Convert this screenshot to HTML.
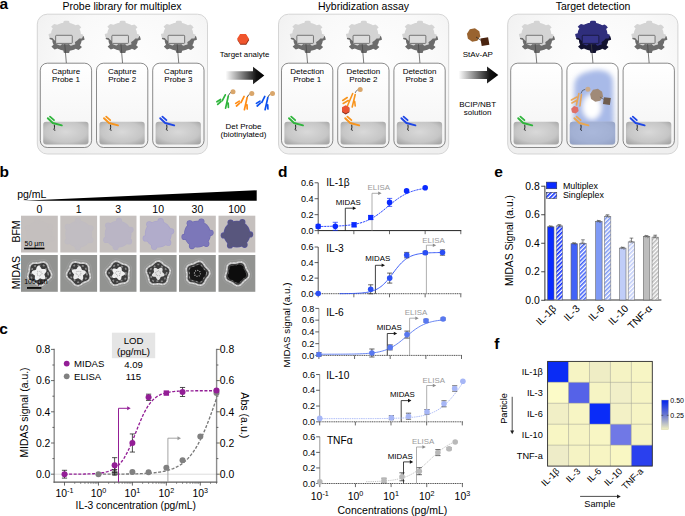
<!DOCTYPE html>
<html><head><meta charset="utf-8"><style>
html,body{margin:0;padding:0;background:#fff;width:685px;height:516px;overflow:hidden;}
svg{display:block;font-family:"Liberation Sans",sans-serif;}
</style></head><body>
<svg width="685" height="516" viewBox="0 0 685 516" font-family="Liberation Sans, sans-serif"><defs>
<filter id="soft" x="-10%" y="-10%" width="120%" height="120%"><feGaussianBlur stdDeviation="0.45"/></filter>
<filter id="blur3" x="-30%" y="-30%" width="160%" height="160%"><feGaussianBlur stdDeviation="2.6"/></filter>
<clipPath id="box32clip"><rect x="567.2" y="63.6" width="50.9" height="83.5" rx="7"/></clipPath>
<radialGradient id="panelg" cx="0.55" cy="0.35" r="0.72"><stop offset="0" stop-color="#fefefe"/><stop offset="0.55" stop-color="#f9f9f9"/><stop offset="1" stop-color="#efefef"/></radialGradient>
<linearGradient id="boxg" x1="0" y1="0" x2="0" y2="1"><stop offset="0" stop-color="#ffffff"/><stop offset="1" stop-color="#f3f3f3"/></linearGradient>
<radialGradient id="blockg" cx="0.5" cy="0.45" r="0.65"><stop offset="0" stop-color="#d9d9d9"/><stop offset="0.7" stop-color="#c6c6c6"/><stop offset="1" stop-color="#a9a9a9"/></radialGradient>
<linearGradient id="arrowg" x1="0" y1="0" x2="1" y2="0"><stop offset="0" stop-color="#ffffff"/><stop offset="0.8" stop-color="#111"/><stop offset="1" stop-color="#000"/></linearGradient>
<radialGradient id="glow" cx="0.55" cy="0.5" r="0.6"><stop offset="0" stop-color="#ffffff"/><stop offset="0.35" stop-color="#dfe6f8"/><stop offset="1" stop-color="#8ea6e0"/></radialGradient>
<linearGradient id="cbar" x1="0" y1="0" x2="0" y2="1"><stop offset="0" stop-color="#0022ee"/><stop offset="0.5" stop-color="#6a78d0"/><stop offset="1" stop-color="#f6f4c0"/></linearGradient>
<pattern id="hatch0" width="3" height="3" patternUnits="userSpaceOnUse" patternTransform="rotate(45)"><rect width="3" height="3" fill="#fff"/><rect width="1.6" height="3" fill="#0a2aff"/></pattern>
<pattern id="hatch1" width="3" height="3" patternUnits="userSpaceOnUse" patternTransform="rotate(45)"><rect width="3" height="3" fill="#fff"/><rect width="1.6" height="3" fill="#4262f7"/></pattern>
<pattern id="hatch2" width="3" height="3" patternUnits="userSpaceOnUse" patternTransform="rotate(45)"><rect width="3" height="3" fill="#fff"/><rect width="1.6" height="3" fill="#7f9af5"/></pattern>
<pattern id="hatch3" width="3" height="3" patternUnits="userSpaceOnUse" patternTransform="rotate(45)"><rect width="3" height="3" fill="#fff"/><rect width="1.6" height="3" fill="#c0ccf8"/></pattern>
<pattern id="hatch4" width="3" height="3" patternUnits="userSpaceOnUse" patternTransform="rotate(45)"><rect width="3" height="3" fill="#fff"/><rect width="1.6" height="3" fill="#bbbbbb"/></pattern>
</defs>
<text x="-0.50" y="8.70" font-size="15.5" text-anchor="start" fill="#000" font-weight="bold" >a</text>
<text x="122.00" y="9.80" font-size="10.5" text-anchor="middle" fill="#000" >Probe library for multiplex</text>
<text x="363.50" y="9.80" font-size="10.5" text-anchor="middle" fill="#000" >Hybridization assay</text>
<text x="593.00" y="9.80" font-size="10.5" text-anchor="middle" fill="#000" >Target detection</text>
<rect x="37.30" y="14.20" width="170.20" height="139.80" rx="10" fill="url(#panelg)" stroke="#d0d0d0" stroke-width="0.9" />
<rect x="278.50" y="14.20" width="170.20" height="139.80" rx="10" fill="url(#panelg)" stroke="#d0d0d0" stroke-width="0.9" />
<rect x="507.70" y="14.20" width="170.20" height="139.80" rx="10" fill="url(#panelg)" stroke="#d0d0d0" stroke-width="0.9" />
<path d="M70.61,30.24 L72.63,28.42 L73.86,28.76 L75.05,29.16 L76.19,29.63 L77.29,30.15 L76.38,32.39 L77.19,32.92 L77.94,33.49 L78.63,34.10 L79.25,34.74 L79.80,35.42 L80.28,36.12 L83.51,36.12 L83.91,37.02 L84.22,37.95 L84.42,38.88 L84.53,39.82 L81.54,40.71 L81.47,41.49 L81.32,42.27 L81.08,43.03 L80.77,43.79 L80.38,44.52 L79.91,45.23 L81.93,47.05 L81.20,47.83 L80.38,48.58 L79.50,49.28 L78.54,49.93 L75.72,48.80 L74.82,49.24 L73.88,49.64 L72.90,49.99 L71.88,50.28 L70.84,50.52 L69.78,50.70 L69.06,52.97 L67.75,53.04 L66.44,53.05 L65.12,52.99 L63.82,52.86 L63.29,50.56 L62.24,50.34 L61.22,50.06 L60.23,49.72 L59.28,49.34 L58.38,48.90 L57.52,48.41 L54.61,49.42 L53.70,48.73 L52.87,48.00 L52.12,47.22 L51.46,46.41 L53.62,44.68 L53.21,43.95 L52.88,43.20 L52.63,42.44 L52.46,41.66 L52.37,40.88 L52.36,40.09 L49.45,39.09 L49.63,38.15 L49.91,37.22 L50.29,36.32 L50.76,35.43 L53.99,35.57 L54.52,34.89 L55.13,34.23 L55.81,33.62 L56.54,33.04 L57.34,32.50 L58.18,32.00 L57.47,29.74 L58.60,29.26 L59.78,28.84 L61.00,28.49 L62.26,28.20 L64.12,30.10 L65.20,29.98 L66.29,29.91 L67.38,29.90 L68.47,29.96 L69.55,30.07 Z" fill="#6c6c6c" stroke="none" stroke-width="1" />
<path d="M63.06,22.91 L63.84,20.90 L65.14,20.82 L66.44,20.81 L67.74,20.87 L69.02,21.00 L69.65,23.04 L70.71,23.27 L71.74,23.56 L72.74,23.90 L73.71,24.30 L74.63,24.75 L75.50,25.25 L78.14,24.44 L79.03,25.13 L79.85,25.86 L80.60,26.64 L81.26,27.46 L79.46,29.09 L79.87,29.84 L80.21,30.61 L80.47,31.39 L80.64,32.19 L80.73,33.00 L80.74,33.80 L83.26,34.80 L83.08,35.74 L82.80,36.67 L82.43,37.58 L81.96,38.47 L79.10,38.46 L78.55,39.16 L77.94,39.83 L77.26,40.47 L76.51,41.07 L75.71,41.62 L74.85,42.13 L75.34,44.19 L74.22,44.67 L73.06,45.09 L71.85,45.45 L70.61,45.73 L68.84,44.09 L67.74,44.22 L66.64,44.29 L65.53,44.30 L64.43,44.24 L63.33,44.13 L62.25,43.96 L60.36,45.52 L59.14,45.18 L57.96,44.78 L56.83,44.31 L55.75,43.79 L56.40,41.75 L55.58,41.21 L54.82,40.62 L54.12,39.99 L53.49,39.33 L52.93,38.64 L52.44,37.91 L49.58,37.81 L49.19,36.90 L48.88,35.98 L48.68,35.04 L48.57,34.09 L51.16,33.20 L51.23,32.39 L51.38,31.59 L51.62,30.80 L51.94,30.03 L52.33,29.27 L52.80,28.54 L51.13,26.85 L51.85,26.06 L52.66,25.31 L53.53,24.61 L54.48,23.95 L57.05,24.87 L57.96,24.41 L58.91,24.00 L59.91,23.64 L60.93,23.34 L61.99,23.09 Z" fill="#d4d4d4" stroke="none" stroke-width="1" />
<rect x="55.65" y="35.30" width="16.60" height="8.10" rx="0.8" fill="#dcdcdc" stroke="#5a5a5a" stroke-width="0.8" />
<line x1="64.75" y1="44.00" x2="66.35" y2="63.20" stroke="#444" stroke-width="0.7" />
<rect x="40.30" y="63.20" width="51.30" height="84.30" rx="7" fill="url(#boxg)" stroke="#5a5a5a" stroke-width="0.7" />
<rect x="43.20" y="121.80" width="45.30" height="22.60" rx="3" fill="url(#blockg)" stroke="none" stroke-width="1" />
<text x="65.95" y="73.60" font-size="8" text-anchor="middle" fill="#000" >Capture</text>
<text x="65.95" y="82.30" font-size="8" text-anchor="middle" fill="#000" >Probe 1</text>
<path d="M54.3,124.7 q0.6,2.5 -0.3,5 q0.3,0.9 1.3,0.5" fill="none" stroke="#111" stroke-width="0.9" />
<path d="M47.8,118.2 L52.8,123.0 L61.8,125.4" fill="none" stroke="#2fb53c" stroke-width="1.9" stroke-linecap="round" stroke-linejoin="round"/>
<path d="M50.0,116.60000000000001 L54.0,120.2" fill="none" stroke="#2fb53c" stroke-width="1.8" stroke-linecap="round"/>
<path d="M126.81,30.24 L128.83,28.42 L130.06,28.76 L131.25,29.16 L132.39,29.63 L133.49,30.15 L132.58,32.39 L133.39,32.92 L134.14,33.49 L134.83,34.10 L135.45,34.74 L136.00,35.42 L136.48,36.12 L139.71,36.12 L140.11,37.02 L140.42,37.95 L140.62,38.88 L140.73,39.82 L137.74,40.71 L137.67,41.49 L137.52,42.27 L137.28,43.03 L136.97,43.79 L136.58,44.52 L136.11,45.23 L138.13,47.05 L137.40,47.83 L136.58,48.58 L135.70,49.28 L134.74,49.93 L131.92,48.80 L131.02,49.24 L130.08,49.64 L129.10,49.99 L128.08,50.28 L127.04,50.52 L125.98,50.70 L125.26,52.97 L123.95,53.04 L122.64,53.05 L121.32,52.99 L120.02,52.86 L119.49,50.56 L118.44,50.34 L117.42,50.06 L116.43,49.72 L115.48,49.34 L114.58,48.90 L113.72,48.41 L110.81,49.42 L109.90,48.73 L109.07,48.00 L108.32,47.22 L107.66,46.41 L109.82,44.68 L109.41,43.95 L109.08,43.20 L108.83,42.44 L108.66,41.66 L108.57,40.88 L108.56,40.09 L105.65,39.09 L105.83,38.15 L106.11,37.22 L106.49,36.32 L106.96,35.43 L110.19,35.57 L110.72,34.89 L111.33,34.23 L112.01,33.62 L112.74,33.04 L113.54,32.50 L114.38,32.00 L113.67,29.74 L114.80,29.26 L115.98,28.84 L117.20,28.49 L118.46,28.20 L120.32,30.10 L121.40,29.98 L122.49,29.91 L123.58,29.90 L124.67,29.96 L125.75,30.07 Z" fill="#6c6c6c" stroke="none" stroke-width="1" />
<path d="M119.26,22.91 L120.04,20.90 L121.34,20.82 L122.64,20.81 L123.94,20.87 L125.22,21.00 L125.85,23.04 L126.91,23.27 L127.94,23.56 L128.94,23.90 L129.91,24.30 L130.83,24.75 L131.70,25.25 L134.34,24.44 L135.23,25.13 L136.05,25.86 L136.80,26.64 L137.46,27.46 L135.66,29.09 L136.07,29.84 L136.41,30.61 L136.67,31.39 L136.84,32.19 L136.93,33.00 L136.94,33.80 L139.46,34.80 L139.28,35.74 L139.00,36.67 L138.63,37.58 L138.16,38.47 L135.30,38.46 L134.75,39.16 L134.14,39.83 L133.46,40.47 L132.71,41.07 L131.91,41.62 L131.05,42.13 L131.54,44.19 L130.42,44.67 L129.26,45.09 L128.05,45.45 L126.81,45.73 L125.04,44.09 L123.94,44.22 L122.84,44.29 L121.73,44.30 L120.63,44.24 L119.53,44.13 L118.45,43.96 L116.56,45.52 L115.34,45.18 L114.16,44.78 L113.03,44.31 L111.95,43.79 L112.60,41.75 L111.78,41.21 L111.02,40.62 L110.32,39.99 L109.69,39.33 L109.13,38.64 L108.64,37.91 L105.78,37.81 L105.39,36.90 L105.08,35.98 L104.88,35.04 L104.77,34.09 L107.36,33.20 L107.43,32.39 L107.58,31.59 L107.82,30.80 L108.14,30.03 L108.53,29.27 L109.00,28.54 L107.33,26.85 L108.05,26.06 L108.86,25.31 L109.73,24.61 L110.68,23.95 L113.25,24.87 L114.16,24.41 L115.11,24.00 L116.11,23.64 L117.13,23.34 L118.19,23.09 Z" fill="#d4d4d4" stroke="none" stroke-width="1" />
<rect x="111.85" y="35.30" width="16.60" height="8.10" rx="0.8" fill="#dcdcdc" stroke="#5a5a5a" stroke-width="0.8" />
<line x1="120.95" y1="44.00" x2="122.55" y2="63.20" stroke="#444" stroke-width="0.7" />
<rect x="96.50" y="63.20" width="51.30" height="84.30" rx="7" fill="url(#boxg)" stroke="#5a5a5a" stroke-width="0.7" />
<rect x="99.40" y="121.80" width="45.30" height="22.60" rx="3" fill="url(#blockg)" stroke="none" stroke-width="1" />
<text x="122.15" y="73.60" font-size="8" text-anchor="middle" fill="#000" >Capture</text>
<text x="122.15" y="82.30" font-size="8" text-anchor="middle" fill="#000" >Probe 2</text>
<path d="M110.5,124.7 q0.6,2.5 -0.3,5 q0.3,0.9 1.3,0.5" fill="none" stroke="#111" stroke-width="0.9" />
<path d="M104.0,118.2 L109.0,123.0 L118.0,125.4" fill="none" stroke="#f7941d" stroke-width="1.9" stroke-linecap="round" stroke-linejoin="round"/>
<path d="M106.2,116.60000000000001 L110.2,120.2" fill="none" stroke="#f7941d" stroke-width="1.8" stroke-linecap="round"/>
<path d="M183.01,30.24 L185.03,28.42 L186.26,28.76 L187.45,29.16 L188.59,29.63 L189.69,30.15 L188.78,32.39 L189.59,32.92 L190.34,33.49 L191.03,34.10 L191.65,34.74 L192.20,35.42 L192.68,36.12 L195.91,36.12 L196.31,37.02 L196.62,37.95 L196.82,38.88 L196.93,39.82 L193.94,40.71 L193.87,41.49 L193.72,42.27 L193.48,43.03 L193.17,43.79 L192.78,44.52 L192.31,45.23 L194.33,47.05 L193.60,47.83 L192.78,48.58 L191.90,49.28 L190.94,49.93 L188.12,48.80 L187.22,49.24 L186.28,49.64 L185.30,49.99 L184.28,50.28 L183.24,50.52 L182.18,50.70 L181.46,52.97 L180.15,53.04 L178.84,53.05 L177.52,52.99 L176.22,52.86 L175.69,50.56 L174.64,50.34 L173.62,50.06 L172.63,49.72 L171.68,49.34 L170.78,48.90 L169.92,48.41 L167.01,49.42 L166.10,48.73 L165.27,48.00 L164.52,47.22 L163.86,46.41 L166.02,44.68 L165.61,43.95 L165.28,43.20 L165.03,42.44 L164.86,41.66 L164.77,40.88 L164.76,40.09 L161.85,39.09 L162.03,38.15 L162.31,37.22 L162.69,36.32 L163.16,35.43 L166.39,35.57 L166.92,34.89 L167.53,34.23 L168.21,33.62 L168.94,33.04 L169.74,32.50 L170.58,32.00 L169.87,29.74 L171.00,29.26 L172.18,28.84 L173.40,28.49 L174.66,28.20 L176.52,30.10 L177.60,29.98 L178.69,29.91 L179.78,29.90 L180.87,29.96 L181.95,30.07 Z" fill="#6c6c6c" stroke="none" stroke-width="1" />
<path d="M175.46,22.91 L176.24,20.90 L177.54,20.82 L178.84,20.81 L180.14,20.87 L181.42,21.00 L182.05,23.04 L183.11,23.27 L184.14,23.56 L185.14,23.90 L186.11,24.30 L187.03,24.75 L187.90,25.25 L190.54,24.44 L191.43,25.13 L192.25,25.86 L193.00,26.64 L193.66,27.46 L191.86,29.09 L192.27,29.84 L192.61,30.61 L192.87,31.39 L193.04,32.19 L193.13,33.00 L193.14,33.80 L195.66,34.80 L195.48,35.74 L195.20,36.67 L194.83,37.58 L194.36,38.47 L191.50,38.46 L190.95,39.16 L190.34,39.83 L189.66,40.47 L188.91,41.07 L188.11,41.62 L187.25,42.13 L187.74,44.19 L186.62,44.67 L185.46,45.09 L184.25,45.45 L183.01,45.73 L181.24,44.09 L180.14,44.22 L179.04,44.29 L177.93,44.30 L176.83,44.24 L175.73,44.13 L174.65,43.96 L172.76,45.52 L171.54,45.18 L170.36,44.78 L169.23,44.31 L168.15,43.79 L168.80,41.75 L167.98,41.21 L167.22,40.62 L166.52,39.99 L165.89,39.33 L165.33,38.64 L164.84,37.91 L161.98,37.81 L161.59,36.90 L161.28,35.98 L161.08,35.04 L160.97,34.09 L163.56,33.20 L163.63,32.39 L163.78,31.59 L164.02,30.80 L164.34,30.03 L164.73,29.27 L165.20,28.54 L163.53,26.85 L164.25,26.06 L165.06,25.31 L165.93,24.61 L166.88,23.95 L169.45,24.87 L170.36,24.41 L171.31,24.00 L172.31,23.64 L173.33,23.34 L174.39,23.09 Z" fill="#d4d4d4" stroke="none" stroke-width="1" />
<rect x="168.05" y="35.30" width="16.60" height="8.10" rx="0.8" fill="#dcdcdc" stroke="#5a5a5a" stroke-width="0.8" />
<line x1="177.15" y1="44.00" x2="178.75" y2="63.20" stroke="#444" stroke-width="0.7" />
<rect x="152.70" y="63.20" width="51.30" height="84.30" rx="7" fill="url(#boxg)" stroke="#5a5a5a" stroke-width="0.7" />
<rect x="155.60" y="121.80" width="45.30" height="22.60" rx="3" fill="url(#blockg)" stroke="none" stroke-width="1" />
<text x="178.35" y="73.60" font-size="8" text-anchor="middle" fill="#000" >Capture</text>
<text x="178.35" y="82.30" font-size="8" text-anchor="middle" fill="#000" >Probe 3</text>
<path d="M166.7,124.7 q0.6,2.5 -0.3,5 q0.3,0.9 1.3,0.5" fill="none" stroke="#111" stroke-width="0.9" />
<path d="M160.2,118.2 L165.2,123.0 L174.2,125.4" fill="none" stroke="#1e46e6" stroke-width="1.9" stroke-linecap="round" stroke-linejoin="round"/>
<path d="M162.39999999999998,116.60000000000001 L166.39999999999998,120.2" fill="none" stroke="#1e46e6" stroke-width="1.8" stroke-linecap="round"/>
<path d="M311.81,30.24 L313.83,28.42 L315.06,28.76 L316.25,29.16 L317.39,29.63 L318.49,30.15 L317.58,32.39 L318.39,32.92 L319.14,33.49 L319.83,34.10 L320.45,34.74 L321.00,35.42 L321.48,36.12 L324.71,36.12 L325.11,37.02 L325.42,37.95 L325.62,38.88 L325.73,39.82 L322.74,40.71 L322.67,41.49 L322.52,42.27 L322.28,43.03 L321.97,43.79 L321.58,44.52 L321.11,45.23 L323.13,47.05 L322.40,47.83 L321.58,48.58 L320.70,49.28 L319.74,49.93 L316.92,48.80 L316.02,49.24 L315.08,49.64 L314.10,49.99 L313.08,50.28 L312.04,50.52 L310.98,50.70 L310.26,52.97 L308.95,53.04 L307.64,53.05 L306.32,52.99 L305.02,52.86 L304.49,50.56 L303.44,50.34 L302.42,50.06 L301.43,49.72 L300.48,49.34 L299.58,48.90 L298.72,48.41 L295.81,49.42 L294.90,48.73 L294.07,48.00 L293.32,47.22 L292.66,46.41 L294.82,44.68 L294.41,43.95 L294.08,43.20 L293.83,42.44 L293.66,41.66 L293.57,40.88 L293.56,40.09 L290.65,39.09 L290.83,38.15 L291.11,37.22 L291.49,36.32 L291.96,35.43 L295.19,35.57 L295.72,34.89 L296.33,34.23 L297.01,33.62 L297.74,33.04 L298.54,32.50 L299.38,32.00 L298.67,29.74 L299.80,29.26 L300.98,28.84 L302.20,28.49 L303.46,28.20 L305.32,30.10 L306.40,29.98 L307.49,29.91 L308.58,29.90 L309.67,29.96 L310.75,30.07 Z" fill="#6c6c6c" stroke="none" stroke-width="1" />
<path d="M304.26,22.91 L305.04,20.90 L306.34,20.82 L307.64,20.81 L308.94,20.87 L310.22,21.00 L310.85,23.04 L311.91,23.27 L312.94,23.56 L313.94,23.90 L314.91,24.30 L315.83,24.75 L316.70,25.25 L319.34,24.44 L320.23,25.13 L321.05,25.86 L321.80,26.64 L322.46,27.46 L320.66,29.09 L321.07,29.84 L321.41,30.61 L321.67,31.39 L321.84,32.19 L321.93,33.00 L321.94,33.80 L324.46,34.80 L324.28,35.74 L324.00,36.67 L323.63,37.58 L323.16,38.47 L320.30,38.46 L319.75,39.16 L319.14,39.83 L318.46,40.47 L317.71,41.07 L316.91,41.62 L316.05,42.13 L316.54,44.19 L315.42,44.67 L314.26,45.09 L313.05,45.45 L311.81,45.73 L310.04,44.09 L308.94,44.22 L307.84,44.29 L306.73,44.30 L305.63,44.24 L304.53,44.13 L303.45,43.96 L301.56,45.52 L300.34,45.18 L299.16,44.78 L298.03,44.31 L296.95,43.79 L297.60,41.75 L296.78,41.21 L296.02,40.62 L295.32,39.99 L294.69,39.33 L294.13,38.64 L293.64,37.91 L290.78,37.81 L290.39,36.90 L290.08,35.98 L289.88,35.04 L289.77,34.09 L292.36,33.20 L292.43,32.39 L292.58,31.59 L292.82,30.80 L293.14,30.03 L293.53,29.27 L294.00,28.54 L292.33,26.85 L293.05,26.06 L293.86,25.31 L294.73,24.61 L295.68,23.95 L298.25,24.87 L299.16,24.41 L300.11,24.00 L301.11,23.64 L302.13,23.34 L303.19,23.09 Z" fill="#d4d4d4" stroke="none" stroke-width="1" />
<rect x="296.85" y="35.30" width="16.60" height="8.10" rx="0.8" fill="#dcdcdc" stroke="#5a5a5a" stroke-width="0.8" />
<line x1="305.95" y1="44.00" x2="307.55" y2="63.20" stroke="#444" stroke-width="0.7" />
<rect x="281.50" y="63.20" width="51.30" height="84.30" rx="7" fill="url(#boxg)" stroke="#5a5a5a" stroke-width="0.7" />
<rect x="284.40" y="121.80" width="45.30" height="22.60" rx="3" fill="url(#blockg)" stroke="none" stroke-width="1" />
<text x="307.15" y="73.60" font-size="8" text-anchor="middle" fill="#000" >Detection</text>
<text x="307.15" y="82.30" font-size="8" text-anchor="middle" fill="#000" >Probe 1</text>
<path d="M295.5,124.7 q0.6,2.5 -0.3,5 q0.3,0.9 1.3,0.5" fill="none" stroke="#111" stroke-width="0.9" />
<path d="M289.0,118.2 L294.0,123.0 L303.0,125.4" fill="none" stroke="#2fb53c" stroke-width="1.9" stroke-linecap="round" stroke-linejoin="round"/>
<path d="M291.2,116.60000000000001 L295.2,120.2" fill="none" stroke="#2fb53c" stroke-width="1.8" stroke-linecap="round"/>
<path d="M368.01,30.24 L370.03,28.42 L371.26,28.76 L372.45,29.16 L373.59,29.63 L374.69,30.15 L373.78,32.39 L374.59,32.92 L375.34,33.49 L376.03,34.10 L376.65,34.74 L377.20,35.42 L377.68,36.12 L380.91,36.12 L381.31,37.02 L381.62,37.95 L381.82,38.88 L381.93,39.82 L378.94,40.71 L378.87,41.49 L378.72,42.27 L378.48,43.03 L378.17,43.79 L377.78,44.52 L377.31,45.23 L379.33,47.05 L378.60,47.83 L377.78,48.58 L376.90,49.28 L375.94,49.93 L373.12,48.80 L372.22,49.24 L371.28,49.64 L370.30,49.99 L369.28,50.28 L368.24,50.52 L367.18,50.70 L366.46,52.97 L365.15,53.04 L363.84,53.05 L362.52,52.99 L361.22,52.86 L360.69,50.56 L359.64,50.34 L358.62,50.06 L357.63,49.72 L356.68,49.34 L355.78,48.90 L354.92,48.41 L352.01,49.42 L351.10,48.73 L350.27,48.00 L349.52,47.22 L348.86,46.41 L351.02,44.68 L350.61,43.95 L350.28,43.20 L350.03,42.44 L349.86,41.66 L349.77,40.88 L349.76,40.09 L346.85,39.09 L347.03,38.15 L347.31,37.22 L347.69,36.32 L348.16,35.43 L351.39,35.57 L351.92,34.89 L352.53,34.23 L353.21,33.62 L353.94,33.04 L354.74,32.50 L355.58,32.00 L354.87,29.74 L356.00,29.26 L357.18,28.84 L358.40,28.49 L359.66,28.20 L361.52,30.10 L362.60,29.98 L363.69,29.91 L364.78,29.90 L365.87,29.96 L366.95,30.07 Z" fill="#6c6c6c" stroke="none" stroke-width="1" />
<path d="M360.46,22.91 L361.24,20.90 L362.54,20.82 L363.84,20.81 L365.14,20.87 L366.42,21.00 L367.05,23.04 L368.11,23.27 L369.14,23.56 L370.14,23.90 L371.11,24.30 L372.03,24.75 L372.90,25.25 L375.54,24.44 L376.43,25.13 L377.25,25.86 L378.00,26.64 L378.66,27.46 L376.86,29.09 L377.27,29.84 L377.61,30.61 L377.87,31.39 L378.04,32.19 L378.13,33.00 L378.14,33.80 L380.66,34.80 L380.48,35.74 L380.20,36.67 L379.83,37.58 L379.36,38.47 L376.50,38.46 L375.95,39.16 L375.34,39.83 L374.66,40.47 L373.91,41.07 L373.11,41.62 L372.25,42.13 L372.74,44.19 L371.62,44.67 L370.46,45.09 L369.25,45.45 L368.01,45.73 L366.24,44.09 L365.14,44.22 L364.04,44.29 L362.93,44.30 L361.83,44.24 L360.73,44.13 L359.65,43.96 L357.76,45.52 L356.54,45.18 L355.36,44.78 L354.23,44.31 L353.15,43.79 L353.80,41.75 L352.98,41.21 L352.22,40.62 L351.52,39.99 L350.89,39.33 L350.33,38.64 L349.84,37.91 L346.98,37.81 L346.59,36.90 L346.28,35.98 L346.08,35.04 L345.97,34.09 L348.56,33.20 L348.63,32.39 L348.78,31.59 L349.02,30.80 L349.34,30.03 L349.73,29.27 L350.20,28.54 L348.53,26.85 L349.25,26.06 L350.06,25.31 L350.93,24.61 L351.88,23.95 L354.45,24.87 L355.36,24.41 L356.31,24.00 L357.31,23.64 L358.33,23.34 L359.39,23.09 Z" fill="#d4d4d4" stroke="none" stroke-width="1" />
<rect x="353.05" y="35.30" width="16.60" height="8.10" rx="0.8" fill="#dcdcdc" stroke="#5a5a5a" stroke-width="0.8" />
<line x1="362.15" y1="44.00" x2="363.75" y2="63.20" stroke="#444" stroke-width="0.7" />
<rect x="337.70" y="63.20" width="51.30" height="84.30" rx="7" fill="url(#boxg)" stroke="#5a5a5a" stroke-width="0.7" />
<rect x="340.60" y="121.80" width="45.30" height="22.60" rx="3" fill="url(#blockg)" stroke="none" stroke-width="1" />
<text x="363.35" y="73.60" font-size="8" text-anchor="middle" fill="#000" >Detection</text>
<text x="363.35" y="82.30" font-size="8" text-anchor="middle" fill="#000" >Probe 2</text>
<path d="M424.21,30.24 L426.23,28.42 L427.46,28.76 L428.65,29.16 L429.79,29.63 L430.89,30.15 L429.98,32.39 L430.79,32.92 L431.54,33.49 L432.23,34.10 L432.85,34.74 L433.40,35.42 L433.88,36.12 L437.11,36.12 L437.51,37.02 L437.82,37.95 L438.02,38.88 L438.13,39.82 L435.14,40.71 L435.07,41.49 L434.92,42.27 L434.68,43.03 L434.37,43.79 L433.98,44.52 L433.51,45.23 L435.53,47.05 L434.80,47.83 L433.98,48.58 L433.10,49.28 L432.14,49.93 L429.32,48.80 L428.42,49.24 L427.48,49.64 L426.50,49.99 L425.48,50.28 L424.44,50.52 L423.38,50.70 L422.66,52.97 L421.35,53.04 L420.04,53.05 L418.72,52.99 L417.42,52.86 L416.89,50.56 L415.84,50.34 L414.82,50.06 L413.83,49.72 L412.88,49.34 L411.98,48.90 L411.12,48.41 L408.21,49.42 L407.30,48.73 L406.47,48.00 L405.72,47.22 L405.06,46.41 L407.22,44.68 L406.81,43.95 L406.48,43.20 L406.23,42.44 L406.06,41.66 L405.97,40.88 L405.96,40.09 L403.05,39.09 L403.23,38.15 L403.51,37.22 L403.89,36.32 L404.36,35.43 L407.59,35.57 L408.12,34.89 L408.73,34.23 L409.41,33.62 L410.14,33.04 L410.94,32.50 L411.78,32.00 L411.07,29.74 L412.20,29.26 L413.38,28.84 L414.60,28.49 L415.86,28.20 L417.72,30.10 L418.80,29.98 L419.89,29.91 L420.98,29.90 L422.07,29.96 L423.15,30.07 Z" fill="#6c6c6c" stroke="none" stroke-width="1" />
<path d="M416.66,22.91 L417.44,20.90 L418.74,20.82 L420.04,20.81 L421.34,20.87 L422.62,21.00 L423.25,23.04 L424.31,23.27 L425.34,23.56 L426.34,23.90 L427.31,24.30 L428.23,24.75 L429.10,25.25 L431.74,24.44 L432.63,25.13 L433.45,25.86 L434.20,26.64 L434.86,27.46 L433.06,29.09 L433.47,29.84 L433.81,30.61 L434.07,31.39 L434.24,32.19 L434.33,33.00 L434.34,33.80 L436.86,34.80 L436.68,35.74 L436.40,36.67 L436.03,37.58 L435.56,38.47 L432.70,38.46 L432.15,39.16 L431.54,39.83 L430.86,40.47 L430.11,41.07 L429.31,41.62 L428.45,42.13 L428.94,44.19 L427.82,44.67 L426.66,45.09 L425.45,45.45 L424.21,45.73 L422.44,44.09 L421.34,44.22 L420.24,44.29 L419.13,44.30 L418.03,44.24 L416.93,44.13 L415.85,43.96 L413.96,45.52 L412.74,45.18 L411.56,44.78 L410.43,44.31 L409.35,43.79 L410.00,41.75 L409.18,41.21 L408.42,40.62 L407.72,39.99 L407.09,39.33 L406.53,38.64 L406.04,37.91 L403.18,37.81 L402.79,36.90 L402.48,35.98 L402.28,35.04 L402.17,34.09 L404.76,33.20 L404.83,32.39 L404.98,31.59 L405.22,30.80 L405.54,30.03 L405.93,29.27 L406.40,28.54 L404.73,26.85 L405.45,26.06 L406.26,25.31 L407.13,24.61 L408.08,23.95 L410.65,24.87 L411.56,24.41 L412.51,24.00 L413.51,23.64 L414.53,23.34 L415.59,23.09 Z" fill="#d4d4d4" stroke="none" stroke-width="1" />
<rect x="409.25" y="35.30" width="16.60" height="8.10" rx="0.8" fill="#dcdcdc" stroke="#5a5a5a" stroke-width="0.8" />
<line x1="418.35" y1="44.00" x2="419.95" y2="63.20" stroke="#444" stroke-width="0.7" />
<rect x="393.90" y="63.20" width="51.30" height="84.30" rx="7" fill="url(#boxg)" stroke="#5a5a5a" stroke-width="0.7" />
<rect x="396.80" y="121.80" width="45.30" height="22.60" rx="3" fill="url(#blockg)" stroke="none" stroke-width="1" />
<text x="419.55" y="73.60" font-size="8" text-anchor="middle" fill="#000" >Detection</text>
<text x="419.55" y="82.30" font-size="8" text-anchor="middle" fill="#000" >Probe 3</text>
<path d="M407.9,124.7 q0.6,2.5 -0.3,5 q0.3,0.9 1.3,0.5" fill="none" stroke="#111" stroke-width="0.9" />
<path d="M401.4,118.2 L406.4,123.0 L415.4,125.4" fill="none" stroke="#1e46e6" stroke-width="1.9" stroke-linecap="round" stroke-linejoin="round"/>
<path d="M403.59999999999997,116.60000000000001 L407.59999999999997,120.2" fill="none" stroke="#1e46e6" stroke-width="1.8" stroke-linecap="round"/>
<path d="M541.01,30.24 L543.03,28.42 L544.26,28.76 L545.45,29.16 L546.59,29.63 L547.69,30.15 L546.78,32.39 L547.59,32.92 L548.34,33.49 L549.03,34.10 L549.65,34.74 L550.20,35.42 L550.68,36.12 L553.91,36.12 L554.31,37.02 L554.62,37.95 L554.82,38.88 L554.93,39.82 L551.94,40.71 L551.87,41.49 L551.72,42.27 L551.48,43.03 L551.17,43.79 L550.78,44.52 L550.31,45.23 L552.33,47.05 L551.60,47.83 L550.78,48.58 L549.90,49.28 L548.94,49.93 L546.12,48.80 L545.22,49.24 L544.28,49.64 L543.30,49.99 L542.28,50.28 L541.24,50.52 L540.18,50.70 L539.46,52.97 L538.15,53.04 L536.84,53.05 L535.52,52.99 L534.22,52.86 L533.69,50.56 L532.64,50.34 L531.62,50.06 L530.63,49.72 L529.68,49.34 L528.78,48.90 L527.92,48.41 L525.01,49.42 L524.10,48.73 L523.27,48.00 L522.52,47.22 L521.86,46.41 L524.02,44.68 L523.61,43.95 L523.28,43.20 L523.03,42.44 L522.86,41.66 L522.77,40.88 L522.76,40.09 L519.85,39.09 L520.03,38.15 L520.31,37.22 L520.69,36.32 L521.16,35.43 L524.39,35.57 L524.92,34.89 L525.53,34.23 L526.21,33.62 L526.94,33.04 L527.74,32.50 L528.58,32.00 L527.87,29.74 L529.00,29.26 L530.18,28.84 L531.40,28.49 L532.66,28.20 L534.52,30.10 L535.60,29.98 L536.69,29.91 L537.78,29.90 L538.87,29.96 L539.95,30.07 Z" fill="#6c6c6c" stroke="none" stroke-width="1" />
<path d="M533.46,22.91 L534.24,20.90 L535.54,20.82 L536.84,20.81 L538.14,20.87 L539.42,21.00 L540.05,23.04 L541.11,23.27 L542.14,23.56 L543.14,23.90 L544.11,24.30 L545.03,24.75 L545.90,25.25 L548.54,24.44 L549.43,25.13 L550.25,25.86 L551.00,26.64 L551.66,27.46 L549.86,29.09 L550.27,29.84 L550.61,30.61 L550.87,31.39 L551.04,32.19 L551.13,33.00 L551.14,33.80 L553.66,34.80 L553.48,35.74 L553.20,36.67 L552.83,37.58 L552.36,38.47 L549.50,38.46 L548.95,39.16 L548.34,39.83 L547.66,40.47 L546.91,41.07 L546.11,41.62 L545.25,42.13 L545.74,44.19 L544.62,44.67 L543.46,45.09 L542.25,45.45 L541.01,45.73 L539.24,44.09 L538.14,44.22 L537.04,44.29 L535.93,44.30 L534.83,44.24 L533.73,44.13 L532.65,43.96 L530.76,45.52 L529.54,45.18 L528.36,44.78 L527.23,44.31 L526.15,43.79 L526.80,41.75 L525.98,41.21 L525.22,40.62 L524.52,39.99 L523.89,39.33 L523.33,38.64 L522.84,37.91 L519.98,37.81 L519.59,36.90 L519.28,35.98 L519.08,35.04 L518.97,34.09 L521.56,33.20 L521.63,32.39 L521.78,31.59 L522.02,30.80 L522.34,30.03 L522.73,29.27 L523.20,28.54 L521.53,26.85 L522.25,26.06 L523.06,25.31 L523.93,24.61 L524.88,23.95 L527.45,24.87 L528.36,24.41 L529.31,24.00 L530.31,23.64 L531.33,23.34 L532.39,23.09 Z" fill="#d4d4d4" stroke="none" stroke-width="1" />
<rect x="526.05" y="35.30" width="16.60" height="8.10" rx="0.8" fill="#dcdcdc" stroke="#5a5a5a" stroke-width="0.8" />
<line x1="535.15" y1="44.00" x2="536.75" y2="63.20" stroke="#444" stroke-width="0.7" />
<rect x="510.70" y="63.20" width="51.30" height="84.30" rx="7" fill="url(#boxg)" stroke="#5a5a5a" stroke-width="0.7" />
<rect x="513.60" y="121.80" width="45.30" height="22.60" rx="3" fill="url(#blockg)" stroke="none" stroke-width="1" />
<path d="M524.7,124.7 q0.6,2.5 -0.3,5 q0.3,0.9 1.3,0.5" fill="none" stroke="#111" stroke-width="0.9" />
<path d="M518.2,118.2 L523.2,123.0 L532.2,125.4" fill="none" stroke="#2fb53c" stroke-width="1.9" stroke-linecap="round" stroke-linejoin="round"/>
<path d="M520.4000000000001,116.60000000000001 L524.4000000000001,120.2" fill="none" stroke="#2fb53c" stroke-width="1.8" stroke-linecap="round"/>
<path d="M597.21,30.24 L599.23,28.42 L600.46,28.76 L601.65,29.16 L602.79,29.63 L603.89,30.15 L602.98,32.39 L603.79,32.92 L604.54,33.49 L605.23,34.10 L605.85,34.74 L606.40,35.42 L606.88,36.12 L610.11,36.12 L610.51,37.02 L610.82,37.95 L611.02,38.88 L611.13,39.82 L608.14,40.71 L608.07,41.49 L607.92,42.27 L607.68,43.03 L607.37,43.79 L606.98,44.52 L606.51,45.23 L608.53,47.05 L607.80,47.83 L606.98,48.58 L606.10,49.28 L605.14,49.93 L602.32,48.80 L601.42,49.24 L600.48,49.64 L599.50,49.99 L598.48,50.28 L597.44,50.52 L596.38,50.70 L595.66,52.97 L594.35,53.04 L593.04,53.05 L591.72,52.99 L590.42,52.86 L589.89,50.56 L588.84,50.34 L587.82,50.06 L586.83,49.72 L585.88,49.34 L584.98,48.90 L584.12,48.41 L581.21,49.42 L580.30,48.73 L579.47,48.00 L578.72,47.22 L578.06,46.41 L580.22,44.68 L579.81,43.95 L579.48,43.20 L579.23,42.44 L579.06,41.66 L578.97,40.88 L578.96,40.09 L576.05,39.09 L576.23,38.15 L576.51,37.22 L576.89,36.32 L577.36,35.43 L580.59,35.57 L581.12,34.89 L581.73,34.23 L582.41,33.62 L583.14,33.04 L583.94,32.50 L584.78,32.00 L584.07,29.74 L585.20,29.26 L586.38,28.84 L587.60,28.49 L588.86,28.20 L590.72,30.10 L591.80,29.98 L592.89,29.91 L593.98,29.90 L595.07,29.96 L596.15,30.07 Z" fill="#121230" stroke="none" stroke-width="1" />
<path d="M589.66,22.91 L590.44,20.90 L591.74,20.82 L593.04,20.81 L594.34,20.87 L595.62,21.00 L596.25,23.04 L597.31,23.27 L598.34,23.56 L599.34,23.90 L600.31,24.30 L601.23,24.75 L602.10,25.25 L604.74,24.44 L605.63,25.13 L606.45,25.86 L607.20,26.64 L607.86,27.46 L606.06,29.09 L606.47,29.84 L606.81,30.61 L607.07,31.39 L607.24,32.19 L607.33,33.00 L607.34,33.80 L609.86,34.80 L609.68,35.74 L609.40,36.67 L609.03,37.58 L608.56,38.47 L605.70,38.46 L605.15,39.16 L604.54,39.83 L603.86,40.47 L603.11,41.07 L602.31,41.62 L601.45,42.13 L601.94,44.19 L600.82,44.67 L599.66,45.09 L598.45,45.45 L597.21,45.73 L595.44,44.09 L594.34,44.22 L593.24,44.29 L592.13,44.30 L591.03,44.24 L589.93,44.13 L588.85,43.96 L586.96,45.52 L585.74,45.18 L584.56,44.78 L583.43,44.31 L582.35,43.79 L583.00,41.75 L582.18,41.21 L581.42,40.62 L580.72,39.99 L580.09,39.33 L579.53,38.64 L579.04,37.91 L576.18,37.81 L575.79,36.90 L575.48,35.98 L575.28,35.04 L575.17,34.09 L577.76,33.20 L577.83,32.39 L577.98,31.59 L578.22,30.80 L578.54,30.03 L578.93,29.27 L579.40,28.54 L577.73,26.85 L578.45,26.06 L579.26,25.31 L580.13,24.61 L581.08,23.95 L583.65,24.87 L584.56,24.41 L585.51,24.00 L586.51,23.64 L587.53,23.34 L588.59,23.09 Z" fill="#2f2e7c" stroke="none" stroke-width="1" />
<rect x="582.25" y="35.30" width="16.60" height="8.10" rx="0.8" fill="#35348a" stroke="#151535" stroke-width="0.8" />
<line x1="591.35" y1="44.00" x2="592.95" y2="63.20" stroke="#444" stroke-width="0.7" />
<rect x="566.90" y="63.20" width="51.30" height="84.30" rx="7" fill="url(#boxg)" stroke="#5a5a5a" stroke-width="0.7" />
<g filter="url(#blur3)" clip-path="url(#box32clip)"><path d="M574.4,84 Q575.9,72 596.9,70 Q610.9,70 612.9,80 L613.9,142 L573.4,142 Z" fill="#a8bae8"/><ellipse cx="591.9" cy="107" rx="9.5" ry="12.5" fill="#ffffff"/></g>
<rect x="569.80" y="121.80" width="45.30" height="22.60" rx="3" fill="url(#blockg)" stroke="none" stroke-width="1" />
<rect x="569.80" y="121.80" width="45.30" height="22.60" rx="3" fill="#8aa2dc" stroke="none" stroke-width="1" opacity="0.6"/>
<path d="M653.41,30.24 L655.43,28.42 L656.66,28.76 L657.85,29.16 L658.99,29.63 L660.09,30.15 L659.18,32.39 L659.99,32.92 L660.74,33.49 L661.43,34.10 L662.05,34.74 L662.60,35.42 L663.08,36.12 L666.31,36.12 L666.71,37.02 L667.02,37.95 L667.22,38.88 L667.33,39.82 L664.34,40.71 L664.27,41.49 L664.12,42.27 L663.88,43.03 L663.57,43.79 L663.18,44.52 L662.71,45.23 L664.73,47.05 L664.00,47.83 L663.18,48.58 L662.30,49.28 L661.34,49.93 L658.52,48.80 L657.62,49.24 L656.68,49.64 L655.70,49.99 L654.68,50.28 L653.64,50.52 L652.58,50.70 L651.86,52.97 L650.55,53.04 L649.24,53.05 L647.92,52.99 L646.62,52.86 L646.09,50.56 L645.04,50.34 L644.02,50.06 L643.03,49.72 L642.08,49.34 L641.18,48.90 L640.32,48.41 L637.41,49.42 L636.50,48.73 L635.67,48.00 L634.92,47.22 L634.26,46.41 L636.42,44.68 L636.01,43.95 L635.68,43.20 L635.43,42.44 L635.26,41.66 L635.17,40.88 L635.16,40.09 L632.25,39.09 L632.43,38.15 L632.71,37.22 L633.09,36.32 L633.56,35.43 L636.79,35.57 L637.32,34.89 L637.93,34.23 L638.61,33.62 L639.34,33.04 L640.14,32.50 L640.98,32.00 L640.27,29.74 L641.40,29.26 L642.58,28.84 L643.80,28.49 L645.06,28.20 L646.92,30.10 L648.00,29.98 L649.09,29.91 L650.18,29.90 L651.27,29.96 L652.35,30.07 Z" fill="#6c6c6c" stroke="none" stroke-width="1" />
<path d="M645.86,22.91 L646.64,20.90 L647.94,20.82 L649.24,20.81 L650.54,20.87 L651.82,21.00 L652.45,23.04 L653.51,23.27 L654.54,23.56 L655.54,23.90 L656.51,24.30 L657.43,24.75 L658.30,25.25 L660.94,24.44 L661.83,25.13 L662.65,25.86 L663.40,26.64 L664.06,27.46 L662.26,29.09 L662.67,29.84 L663.01,30.61 L663.27,31.39 L663.44,32.19 L663.53,33.00 L663.54,33.80 L666.06,34.80 L665.88,35.74 L665.60,36.67 L665.23,37.58 L664.76,38.47 L661.90,38.46 L661.35,39.16 L660.74,39.83 L660.06,40.47 L659.31,41.07 L658.51,41.62 L657.65,42.13 L658.14,44.19 L657.02,44.67 L655.86,45.09 L654.65,45.45 L653.41,45.73 L651.64,44.09 L650.54,44.22 L649.44,44.29 L648.33,44.30 L647.23,44.24 L646.13,44.13 L645.05,43.96 L643.16,45.52 L641.94,45.18 L640.76,44.78 L639.63,44.31 L638.55,43.79 L639.20,41.75 L638.38,41.21 L637.62,40.62 L636.92,39.99 L636.29,39.33 L635.73,38.64 L635.24,37.91 L632.38,37.81 L631.99,36.90 L631.68,35.98 L631.48,35.04 L631.37,34.09 L633.96,33.20 L634.03,32.39 L634.18,31.59 L634.42,30.80 L634.74,30.03 L635.13,29.27 L635.60,28.54 L633.93,26.85 L634.65,26.06 L635.46,25.31 L636.33,24.61 L637.28,23.95 L639.85,24.87 L640.76,24.41 L641.71,24.00 L642.71,23.64 L643.73,23.34 L644.79,23.09 Z" fill="#d4d4d4" stroke="none" stroke-width="1" />
<rect x="638.45" y="35.30" width="16.60" height="8.10" rx="0.8" fill="#dcdcdc" stroke="#5a5a5a" stroke-width="0.8" />
<line x1="647.55" y1="44.00" x2="649.15" y2="63.20" stroke="#444" stroke-width="0.7" />
<rect x="623.10" y="63.20" width="51.30" height="84.30" rx="7" fill="url(#boxg)" stroke="#5a5a5a" stroke-width="0.7" />
<rect x="626.00" y="121.80" width="45.30" height="22.60" rx="3" fill="url(#blockg)" stroke="none" stroke-width="1" />
<path d="M637.1,124.7 q0.6,2.5 -0.3,5 q0.3,0.9 1.3,0.5" fill="none" stroke="#111" stroke-width="0.9" />
<path d="M630.6,118.2 L635.6,123.0 L644.6,125.4" fill="none" stroke="#1e46e6" stroke-width="1.9" stroke-linecap="round" stroke-linejoin="round"/>
<path d="M632.8000000000001,116.60000000000001 L636.8000000000001,120.2" fill="none" stroke="#1e46e6" stroke-width="1.8" stroke-linecap="round"/>
<path d="M351.7,124.7 q0.6,2.5 -0.3,5 q0.3,0.9 1.3,0.5" fill="none" stroke="#111" stroke-width="0.9" />
<path d="M345.2,118.2 L350.2,123.0 L359.2,125.4" fill="none" stroke="#f7941d" stroke-width="1.9" stroke-linecap="round" stroke-linejoin="round"/>
<path d="M347.4,116.60000000000001 L351.4,120.2" fill="none" stroke="#f7941d" stroke-width="1.8" stroke-linecap="round"/>
<path d="M352.7,93.5 L347.2,106.5 M355.2,94.5 L352.2,107 M342.7,100.5 L347.2,97.5 M343.2,103.5 L348.2,100.5 M354.7,101.5 L355.2,106" fill="none" stroke="#f7941d" stroke-width="1.6" stroke-linecap="round"/>
<path d="M355.2,93 Q355.7,90.5 358.2,89.6" fill="none" stroke="#333" stroke-width="0.6" />
<circle cx="360.20" cy="89.40" r="2.5" fill="#d9a66b" stroke="none" stroke-width="1" />
<path d="M349.34,112.30 L345.70,114.40 L342.06,112.30 L342.06,108.10 L345.70,106.00 L349.34,108.10 Z" fill="#7a2614" stroke="none" stroke-width="1" />
<path d="M349.34,111.50 L345.70,113.60 L342.06,111.50 L342.06,107.30 L345.70,105.20 L349.34,107.30 Z" fill="#ea5433" stroke="none" stroke-width="1" />
<path d="M580.9,124.7 q0.6,2.5 -0.3,5 q0.3,0.9 1.3,0.5" fill="none" stroke="#111" stroke-width="0.9" />
<path d="M574.4,118.2 L579.4,123.0 L588.4,125.4" fill="none" stroke="#e9a750" stroke-width="1.9" stroke-linecap="round" stroke-linejoin="round"/>
<path d="M576.6,116.60000000000001 L580.6,120.2" fill="none" stroke="#e9a750" stroke-width="1.8" stroke-linecap="round"/>
<path d="M578.9,93.5 L576.4,105 M581.4,94.5 L579.9,106 M571.4,100 L576.9,97 M571.9,103 L577.4,100" fill="none" stroke="#eba24b" stroke-width="1.6" stroke-linecap="round" opacity="0.9"/>
<path d="M580.9,93.5 Q581.9,89.5 585.4,89.3" fill="none" stroke="#333" stroke-width="0.6" />
<path d="M578.63,110.95 L575.76,113.60 L572.04,112.45 L571.17,108.65 L574.04,106.00 L577.76,107.15 Z" fill="#df6e68" stroke="none" stroke-width="1" />
<circle cx="587.90" cy="89.30" r="2.5" fill="#c9aa8c" stroke="none" stroke-width="1" />
<path d="M603.07,96.61 L600.25,100.80 L595.29,101.77 L591.10,98.95 L590.13,93.99 L592.95,89.80 L597.91,88.83 L602.10,91.65 Z" fill="#a08a78" stroke="none" stroke-width="1" />
<line x1="599.90" y1="97.00" x2="604.90" y2="100.00" stroke="#555" stroke-width="0.6" />
<rect x="603.4" y="97.6" width="7" height="7" fill="#6f5d50" transform="rotate(8 606.9 101.1)"/>
<path d="M249.20,40.00 L246.25,44.85 L240.35,44.85 L237.40,40.00 L240.35,35.15 L246.25,35.15 Z" fill="#8a2a12" stroke="none" stroke-width="1" />
<path d="M248.90,38.80 L245.95,43.65 L240.05,43.65 L237.10,38.80 L240.05,33.95 L245.95,33.95 Z" fill="#f0552d" stroke="none" stroke-width="1" />
<text x="244.50" y="57.40" font-size="7.9" text-anchor="middle" fill="#000" >Target analyte</text>
<path d="M225.5,71.2 L253,71.2 L253,66.8 L264.3,75.5 L253,84.3 L253,79.8 L225.5,79.8 Z" fill="url(#arrowg)" stroke="none" stroke-width="1" />
<path d="M225.3,94.8 L222.3,100.7 M220.5,99.5 L216.9,101.8 M220.9,101.5 L217.7,104.4 M228.3,96.0 L225.6,108.1 M228.2,103.2 L228.4,107.4" fill="none" stroke="#2fb53c" stroke-width="1.7" stroke-linecap="round" opacity="1.0"/>
<path d="M228.5,95.5 Q229.5,93.0 231.1,92.2" fill="none" stroke="#333" stroke-width="0.8" />
<circle cx="233.00" cy="91.80" r="2.5" fill="#d9a66b" stroke="none" stroke-width="1" />
<path d="M244.10000000000002,96.39999999999999 L241.10000000000002,102.3 M239.3,101.1 L235.70000000000002,103.39999999999999 M239.70000000000002,103.1 L236.5,106.0 M247.10000000000002,97.6 L244.4,109.69999999999999 M247.0,104.8 L247.20000000000002,109.0" fill="none" stroke="#ff8c14" stroke-width="1.7" stroke-linecap="round" opacity="1.0"/>
<path d="M247.3,97.1 Q248.3,94.6 249.9,93.8" fill="none" stroke="#333" stroke-width="0.8" />
<circle cx="251.80" cy="93.40" r="2.5" fill="#d9a66b" stroke="none" stroke-width="1" />
<path d="M264.8,96.39999999999999 L261.8,102.3 M260.0,101.1 L256.4,103.39999999999999 M260.4,103.1 L257.2,106.0 M267.8,97.6 L265.1,109.69999999999999 M267.7,104.8 L267.9,109.0" fill="none" stroke="#0a50f0" stroke-width="1.7" stroke-linecap="round" opacity="1.0"/>
<path d="M268.0,97.1 Q269.0,94.6 270.6,93.8" fill="none" stroke="#333" stroke-width="0.8" />
<circle cx="272.50" cy="93.40" r="2.5" fill="#d9a66b" stroke="none" stroke-width="1" />
<text x="243.50" y="128.80" font-size="8" text-anchor="middle" fill="#000" >Det Probe</text>
<text x="243.50" y="137.40" font-size="8" text-anchor="middle" fill="#000" >(biotinylated)</text>
<path d="M480.26,36.35 L477.36,40.67 L472.25,41.66 L467.93,38.76 L466.94,33.65 L469.84,29.33 L474.95,28.34 L479.27,31.24 Z" fill="#99632f" stroke="none" stroke-width="1" />
<line x1="476.00" y1="37.00" x2="482.00" y2="41.00" stroke="#222" stroke-width="0.7" />
<rect x="481" y="37.8" width="7.8" height="7.6" fill="#4a2410" transform="rotate(-10 484.9 41.6)"/>
<text x="477.80" y="57.30" font-size="8" text-anchor="middle" fill="#000" >StAv-AP</text>
<path d="M458.6,71 L487,71 L487,66.5 L498.3,75 L487,83.5 L487,79 L458.6,79 Z" fill="url(#arrowg)" stroke="none" stroke-width="1" />
<text x="477.60" y="106.50" font-size="8" text-anchor="middle" fill="#000" >BCIP/NBT</text>
<text x="477.60" y="115.40" font-size="8" text-anchor="middle" fill="#000" >solution</text>
<text x="-0.60" y="177.30" font-size="15.5" text-anchor="start" fill="#000" font-weight="bold" >b</text>
<text x="17.20" y="198.40" font-size="10.5" text-anchor="start" fill="#000" >pg/mL</text>
<path d="M22.5,200.7 L256.7,190.3 L256.7,200.7 Z" fill="#000" stroke="none" stroke-width="1" />
<text x="39.40" y="212.80" font-size="10.5" text-anchor="middle" fill="#000" >0</text>
<rect x="21.00" y="215.70" width="36.80" height="36.80" rx="0" fill="#c5c0be" stroke="none" stroke-width="1" />
<g fill="#c4bfbe"><circle cx="39.40" cy="234.10" r="13.40"/><circle cx="51.80" cy="238.63" r="3.10"/><circle cx="40.11" cy="247.28" r="3.10"/><circle cx="29.28" cy="242.58" r="3.10"/><circle cx="27.63" cy="228.12" r="3.10"/><circle cx="37.12" cy="221.10" r="3.10"/><circle cx="50.46" cy="226.90" r="3.10"/></g>
<g fill="#c4bfbe"><circle cx="39.40" cy="234.10" r="12.80"/><circle cx="51.80" cy="238.63" r="2.50"/><circle cx="40.11" cy="247.28" r="2.50"/><circle cx="29.28" cy="242.58" r="2.50"/><circle cx="27.63" cy="228.12" r="2.50"/><circle cx="37.12" cy="221.10" r="2.50"/><circle cx="50.46" cy="226.90" r="2.50"/></g>
<rect x="21.00" y="255.00" width="36.80" height="36.80" rx="0" fill="#929391" stroke="none" stroke-width="1" />
<g filter="url(#soft)">
<path d="M53.85,273.40 L54.02,274.32 L54.07,275.25 L53.98,276.18 L53.75,277.08 L53.39,277.94 L52.91,278.75 L52.34,279.49 L51.71,280.17 L51.04,280.79 L50.36,281.36 L49.69,281.91 L49.04,282.45 L48.41,282.99 L47.81,283.56 L47.21,284.15 L46.62,284.77 L46.00,285.40 L45.34,286.02 L44.63,286.62 L43.87,287.15 L43.04,287.59 L42.17,287.92 L41.26,288.12 L40.33,288.18 L39.40,288.11 L38.49,287.90 L37.61,287.59 L36.77,287.20 L35.97,286.75 L35.21,286.28 L34.49,285.81 L33.77,285.36 L33.06,284.93 L32.33,284.53 L31.59,284.15 L30.82,283.78 L30.03,283.38 L29.23,282.95 L28.45,282.46 L27.71,281.90 L27.03,281.25 L26.45,280.52 L25.97,279.72 L25.63,278.85 L25.41,277.94 L25.32,277.01 L25.35,276.08 L25.46,275.16 L25.64,274.27 L25.85,273.40 L26.08,272.56 L26.29,271.74 L26.47,270.93 L26.63,270.12 L26.76,269.29 L26.88,268.44 L27.01,267.57 L27.17,266.68 L27.40,265.78 L27.71,264.90 L28.11,264.06 L28.62,263.28 L29.24,262.58 L29.96,261.99 L30.76,261.50 L31.61,261.13 L32.51,260.86 L33.42,260.69 L34.32,260.58 L35.21,260.52 L36.08,260.47 L36.92,260.42 L37.75,260.34 L38.57,260.24 L39.40,260.11 L40.25,259.96 L41.12,259.81 L42.01,259.70 L42.93,259.63 L43.87,259.65 L44.79,259.78 L45.69,260.02 L46.55,260.40 L47.34,260.89 L48.04,261.50 L48.66,262.20 L49.19,262.97 L49.64,263.78 L50.02,264.61 L50.36,265.44 L50.67,266.25 L50.98,267.03 L51.31,267.80 L51.66,268.55 L52.04,269.29 L52.44,270.05 L52.85,270.83 L53.24,271.65 L53.59,272.51 Z" fill="none" stroke="#9e9e9e" stroke-width="0.8" />
<path d="M51.29,273.40 L51.48,274.16 L51.55,274.94 L51.49,275.71 L51.30,276.45 L50.97,277.16 L50.54,277.81 L50.01,278.39 L49.44,278.92 L48.83,279.38 L48.22,279.81 L47.64,280.22 L47.09,280.62 L46.58,281.05 L46.10,281.50 L45.65,282.00 L45.20,282.54 L44.73,283.10 L44.23,283.67 L43.68,284.21 L43.08,284.71 L42.41,285.13 L41.70,285.43 L40.94,285.61 L40.17,285.66 L39.40,285.57 L38.65,285.35 L37.93,285.04 L37.25,284.65 L36.62,284.22 L36.03,283.77 L35.46,283.34 L34.91,282.95 L34.35,282.59 L33.76,282.28 L33.15,282.00 L32.50,281.74 L31.82,281.47 L31.13,281.17 L30.44,280.81 L29.78,280.39 L29.18,279.89 L28.67,279.30 L28.26,278.64 L27.98,277.92 L27.83,277.16 L27.80,276.38 L27.88,275.60 L28.04,274.84 L28.25,274.10 L28.49,273.40 L28.73,272.73 L28.93,272.08 L29.10,271.43 L29.21,270.78 L29.29,270.11 L29.34,269.42 L29.38,268.69 L29.46,267.93 L29.58,267.17 L29.78,266.41 L30.07,265.68 L30.47,265.01 L30.97,264.43 L31.57,263.94 L32.25,263.56 L32.98,263.29 L33.75,263.12 L34.52,263.04 L35.29,263.02 L36.03,263.03 L36.74,263.04 L37.42,263.04 L38.09,262.99 L38.74,262.90 L39.40,262.77 L40.08,262.60 L40.79,262.42 L41.53,262.25 L42.29,262.13 L43.08,262.09 L43.86,262.14 L44.62,262.32 L45.33,262.61 L45.98,263.03 L46.55,263.56 L47.03,264.17 L47.43,264.85 L47.75,265.56 L48.01,266.28 L48.22,266.99 L48.43,267.67 L48.65,268.32 L48.89,268.93 L49.18,269.53 L49.51,270.11 L49.88,270.71 L50.27,271.33 L50.66,271.98 L51.01,272.67 Z" fill="#3c3c3c" stroke="#c4c4c4" stroke-width="1.8" />
<path d="M51.50,273.40 L51.69,274.17 L51.77,274.96 L51.70,275.75 L51.50,276.51 L51.17,277.23 L50.73,277.89 L50.20,278.48 L49.61,279.01 L49.00,279.49 L48.38,279.92 L47.78,280.34 L47.23,280.75 L46.71,281.18 L46.22,281.65 L45.76,282.15 L45.30,282.70 L44.83,283.27 L44.32,283.85 L43.76,284.40 L43.14,284.91 L42.46,285.33 L41.74,285.64 L40.97,285.83 L40.18,285.87 L39.40,285.78 L38.63,285.56 L37.90,285.24 L37.22,284.85 L36.57,284.41 L35.97,283.96 L35.39,283.52 L34.83,283.11 L34.26,282.75 L33.67,282.44 L33.04,282.15 L32.38,281.89 L31.69,281.61 L30.98,281.30 L30.28,280.94 L29.61,280.51 L29.00,280.00 L28.48,279.40 L28.07,278.73 L27.78,278.00 L27.63,277.23 L27.60,276.43 L27.67,275.64 L27.84,274.86 L28.06,274.11 L28.30,273.40 L28.54,272.72 L28.75,272.05 L28.92,271.40 L29.03,270.74 L29.11,270.06 L29.16,269.35 L29.21,268.60 L29.28,267.84 L29.41,267.06 L29.61,266.29 L29.91,265.55 L30.31,264.87 L30.83,264.27 L31.43,263.77 L32.12,263.38 L32.87,263.11 L33.65,262.94 L34.44,262.86 L35.22,262.83 L35.97,262.84 L36.69,262.86 L37.39,262.85 L38.06,262.81 L38.73,262.72 L39.40,262.58 L40.09,262.41 L40.81,262.23 L41.56,262.06 L42.34,261.94 L43.14,261.89 L43.93,261.95 L44.71,262.12 L45.43,262.42 L46.10,262.85 L46.68,263.38 L47.17,264.01 L47.57,264.70 L47.89,265.42 L48.16,266.16 L48.38,266.88 L48.59,267.57 L48.81,268.23 L49.06,268.86 L49.35,269.46 L49.69,270.06 L50.07,270.66 L50.46,271.29 L50.86,271.95 L51.21,272.66 Z" fill="none" stroke="#f0f0f0" stroke-width="1.0" stroke-dasharray="1.2,2.6"/>
<path d="M48.06,273.40 L48.20,273.95 L48.25,274.52 L48.20,275.08 L48.06,275.62 L47.83,276.14 L47.51,276.61 L47.13,277.04 L46.71,277.42 L46.27,277.76 L45.82,278.07 L45.40,278.36 L45.00,278.66 L44.63,278.97 L44.28,279.30 L43.95,279.66 L43.62,280.05 L43.28,280.46 L42.92,280.88 L42.52,281.27 L42.08,281.63 L41.59,281.94 L41.07,282.16 L40.52,282.29 L39.96,282.32 L39.40,282.26 L38.85,282.10 L38.33,281.87 L37.84,281.59 L37.38,281.28 L36.95,280.95 L36.53,280.64 L36.13,280.35 L35.72,280.09 L35.30,279.87 L34.85,279.66 L34.38,279.47 L33.88,279.27 L33.38,279.06 L32.87,278.80 L32.39,278.49 L31.96,278.12 L31.58,277.70 L31.29,277.22 L31.09,276.69 L30.97,276.14 L30.95,275.57 L31.01,275.00 L31.13,274.45 L31.28,273.91 L31.46,273.40 L31.63,272.91 L31.78,272.44 L31.90,271.97 L31.98,271.50 L32.04,271.01 L32.07,270.50 L32.11,269.97 L32.16,269.42 L32.25,268.86 L32.39,268.31 L32.61,267.78 L32.90,267.29 L33.26,266.87 L33.70,266.51 L34.19,266.23 L34.73,266.04 L35.29,265.92 L35.85,265.86 L36.41,265.84 L36.95,265.85 L37.46,265.86 L37.96,265.85 L38.44,265.82 L38.92,265.76 L39.40,265.66 L39.89,265.54 L40.41,265.40 L40.95,265.28 L41.51,265.20 L42.08,265.17 L42.64,265.21 L43.20,265.33 L43.72,265.55 L44.19,265.85 L44.61,266.23 L44.96,266.68 L45.25,267.17 L45.48,267.69 L45.67,268.22 L45.82,268.73 L45.97,269.23 L46.13,269.70 L46.31,270.15 L46.52,270.58 L46.76,271.01 L47.03,271.44 L47.32,271.89 L47.60,272.36 L47.85,272.87 Z" fill="none" stroke="#8a8a8a" stroke-width="1.6" stroke-dasharray="2.0,2.4"/>
<path d="M44.96,273.40 L44.69,273.73 L44.51,274.05 L44.43,274.36 L44.46,274.70 L44.57,275.08 L44.73,275.51 L44.93,276.00 L45.10,276.54 L45.22,277.10 L45.25,277.65 L45.18,278.18 L44.97,278.63 L44.65,279.00 L44.23,279.24 L43.73,279.36 L43.18,279.36 L42.62,279.26 L42.08,279.09 L41.57,278.89 L41.12,278.69 L40.72,278.54 L40.37,278.46 L40.04,278.48 L39.73,278.61 L39.40,278.83 L39.04,279.13 L38.63,279.46 L38.18,279.79 L37.68,280.08 L37.16,280.28 L36.64,280.37 L36.14,280.32 L35.70,280.13 L35.34,279.80 L35.07,279.36 L34.90,278.84 L34.82,278.28 L34.81,277.71 L34.85,277.16 L34.90,276.67 L34.92,276.24 L34.88,275.88 L34.76,275.58 L34.55,275.32 L34.23,275.08 L33.84,274.83 L33.40,274.54 L32.94,274.22 L32.52,273.83 L32.16,273.40 L31.92,272.93 L31.81,272.44 L31.86,271.96 L32.06,271.51 L32.39,271.12 L32.83,270.80 L33.34,270.55 L33.89,270.37 L34.42,270.24 L34.90,270.13 L35.31,270.02 L35.64,269.87 L35.89,269.66 L36.07,269.38 L36.21,269.01 L36.33,268.56 L36.46,268.05 L36.63,267.51 L36.86,266.99 L37.16,266.52 L37.54,266.14 L37.97,265.89 L38.44,265.79 L38.92,265.84 L39.40,266.03 L39.84,266.35 L40.24,266.76 L40.58,267.22 L40.87,267.68 L41.12,268.11 L41.35,268.47 L41.59,268.74 L41.87,268.91 L42.20,268.99 L42.59,269.01 L43.06,268.98 L43.58,268.95 L44.14,268.95 L44.71,269.00 L45.25,269.15 L45.73,269.38 L46.10,269.72 L46.34,270.13 L46.45,270.61 L46.41,271.12 L46.24,271.64 L45.97,272.15 L45.64,272.61 L45.29,273.03 Z" fill="#f0f0f0" stroke="none" stroke-width="1" />
<path d="M41.95,273.40 L42.05,273.57 L42.11,273.74 L42.11,273.92 L42.06,274.08 L41.96,274.23 L41.81,274.35 L41.63,274.45 L41.44,274.52 L41.24,274.57 L41.06,274.61 L40.90,274.64 L40.76,274.68 L40.66,274.74 L40.58,274.83 L40.52,274.95 L40.48,275.10 L40.43,275.27 L40.37,275.46 L40.29,275.65 L40.19,275.82 L40.06,275.97 L39.91,276.08 L39.75,276.14 L39.57,276.14 L39.40,276.09 L39.24,275.99 L39.09,275.85 L38.96,275.69 L38.86,275.51 L38.77,275.35 L38.68,275.21 L38.60,275.09 L38.51,275.01 L38.41,274.97 L38.28,274.95 L38.12,274.95 L37.94,274.95 L37.74,274.96 L37.54,274.94 L37.34,274.90 L37.16,274.82 L37.01,274.71 L36.90,274.57 L36.85,274.41 L36.84,274.23 L36.89,274.04 L36.98,273.86 L37.09,273.69 L37.22,273.54 L37.35,273.40 L37.46,273.28 L37.54,273.17 L37.59,273.06 L37.60,272.94 L37.58,272.81 L37.53,272.66 L37.47,272.49 L37.41,272.30 L37.36,272.11 L37.34,271.90 L37.35,271.71 L37.41,271.53 L37.51,271.39 L37.65,271.28 L37.82,271.23 L38.01,271.21 L38.21,271.24 L38.41,271.29 L38.60,271.37 L38.77,271.45 L38.92,271.52 L39.05,271.56 L39.17,271.57 L39.28,271.55 L39.40,271.49 L39.53,271.40 L39.67,271.28 L39.83,271.17 L40.00,271.06 L40.19,270.98 L40.38,270.93 L40.56,270.93 L40.73,270.98 L40.87,271.08 L40.98,271.23 L41.05,271.40 L41.09,271.60 L41.10,271.81 L41.08,272.01 L41.06,272.19 L41.04,272.36 L41.04,272.50 L41.07,272.62 L41.12,272.72 L41.22,272.81 L41.35,272.90 L41.50,273.00 L41.66,273.12 L41.81,273.25 Z" fill="none" stroke="#666" stroke-width="0.7" stroke-dasharray="0.8,1.4"/>
</g>
<text x="78.70" y="212.80" font-size="10.5" text-anchor="middle" fill="#000" >1</text>
<rect x="60.30" y="215.70" width="36.80" height="36.80" rx="0" fill="#c5c0be" stroke="none" stroke-width="1" />
<g fill="#c0bcc2"><circle cx="78.70" cy="234.10" r="13.40"/><circle cx="90.47" cy="240.08" r="3.10"/><circle cx="77.82" cy="247.27" r="3.10"/><circle cx="67.64" cy="241.30" r="3.10"/><circle cx="67.73" cy="226.76" r="3.10"/><circle cx="77.99" cy="220.92" r="3.10"/><circle cx="90.54" cy="228.27" r="3.10"/></g>
<g fill="#c1bdc2"><circle cx="78.70" cy="234.10" r="12.80"/><circle cx="90.47" cy="240.08" r="2.50"/><circle cx="77.82" cy="247.27" r="2.50"/><circle cx="67.64" cy="241.30" r="2.50"/><circle cx="67.73" cy="226.76" r="2.50"/><circle cx="77.99" cy="220.92" r="2.50"/><circle cx="90.54" cy="228.27" r="2.50"/></g>
<rect x="60.30" y="255.00" width="36.80" height="36.80" rx="0" fill="#929391" stroke="none" stroke-width="1" />
<g filter="url(#soft)">
<path d="M92.17,273.40 L92.37,274.26 L92.55,275.15 L92.67,276.06 L92.70,277.00 L92.64,277.93 L92.45,278.84 L92.13,279.72 L91.68,280.54 L91.11,281.28 L90.45,281.94 L89.72,282.52 L88.94,283.01 L88.13,283.45 L87.33,283.83 L86.54,284.20 L85.78,284.56 L85.04,284.93 L84.32,285.33 L83.59,285.76 L82.86,286.21 L82.11,286.67 L81.32,287.11 L80.48,287.51 L79.61,287.83 L78.70,288.05 L77.77,288.16 L76.84,288.12 L75.92,287.95 L75.04,287.64 L74.21,287.22 L73.44,286.70 L72.72,286.11 L72.06,285.48 L71.44,284.83 L70.86,284.20 L70.28,283.58 L69.69,282.99 L69.09,282.43 L68.46,281.88 L67.80,281.32 L67.13,280.74 L66.47,280.12 L65.83,279.45 L65.26,278.72 L64.76,277.93 L64.38,277.08 L64.12,276.18 L64.01,275.26 L64.03,274.32 L64.17,273.40 L64.43,272.50 L64.77,271.64 L65.16,270.82 L65.58,270.03 L66.01,269.28 L66.41,268.54 L66.79,267.80 L67.14,267.05 L67.47,266.28 L67.80,265.48 L68.14,264.67 L68.53,263.85 L68.97,263.04 L69.48,262.26 L70.09,261.55 L70.78,260.92 L71.55,260.40 L72.39,260.00 L73.29,259.73 L74.21,259.58 L75.14,259.55 L76.07,259.61 L76.97,259.73 L77.85,259.89 L78.70,260.05 L79.53,260.21 L80.35,260.34 L81.17,260.44 L82.01,260.52 L82.86,260.59 L83.74,260.66 L84.64,260.77 L85.55,260.94 L86.45,261.19 L87.31,261.55 L88.12,262.01 L88.86,262.58 L89.50,263.26 L90.03,264.03 L90.45,264.86 L90.77,265.74 L91.01,266.63 L91.17,267.53 L91.29,268.42 L91.39,269.28 L91.50,270.11 L91.63,270.93 L91.78,271.75 L91.97,272.57 Z" fill="none" stroke="#9e9e9e" stroke-width="0.8" />
<path d="M89.53,273.40 L89.75,274.10 L89.96,274.82 L90.13,275.58 L90.22,276.36 L90.22,277.14 L90.09,277.91 L89.84,278.64 L89.46,279.32 L88.97,279.92 L88.39,280.44 L87.73,280.87 L87.04,281.24 L86.34,281.54 L85.65,281.80 L84.98,282.05 L84.35,282.31 L83.75,282.59 L83.18,282.92 L82.62,283.29 L82.05,283.70 L81.45,284.13 L80.83,284.55 L80.16,284.95 L79.45,285.27 L78.70,285.51 L77.93,285.63 L77.16,285.61 L76.40,285.46 L75.67,285.18 L75.00,284.79 L74.38,284.30 L73.83,283.76 L73.32,283.18 L72.86,282.60 L72.42,282.05 L71.98,281.53 L71.52,281.05 L71.03,280.60 L70.50,280.18 L69.94,279.76 L69.35,279.33 L68.75,278.87 L68.17,278.35 L67.64,277.78 L67.18,277.14 L66.83,276.45 L66.61,275.71 L66.52,274.94 L66.56,274.16 L66.73,273.40 L67.00,272.66 L67.34,271.97 L67.74,271.31 L68.14,270.69 L68.53,270.10 L68.89,269.52 L69.21,268.93 L69.48,268.33 L69.72,267.70 L69.94,267.04 L70.17,266.34 L70.42,265.63 L70.73,264.92 L71.12,264.23 L71.58,263.60 L72.14,263.06 L72.77,262.61 L73.47,262.29 L74.22,262.09 L75.00,262.01 L75.78,262.04 L76.56,262.16 L77.30,262.33 L78.02,262.52 L78.70,262.71 L79.36,262.87 L80.01,262.99 L80.67,263.07 L81.35,263.10 L82.05,263.10 L82.78,263.10 L83.53,263.13 L84.31,263.20 L85.08,263.35 L85.82,263.60 L86.51,263.96 L87.13,264.43 L87.65,264.99 L88.07,265.65 L88.39,266.36 L88.60,267.12 L88.73,267.89 L88.80,268.65 L88.84,269.39 L88.87,270.10 L88.92,270.78 L89.00,271.43 L89.14,272.08 L89.31,272.73 Z" fill="#3c3c3c" stroke="#c4c4c4" stroke-width="1.8" />
<path d="M89.72,273.40 L89.95,274.11 L90.16,274.85 L90.33,275.62 L90.43,276.41 L90.42,277.21 L90.29,277.99 L90.03,278.73 L89.65,279.42 L89.15,280.03 L88.56,280.56 L87.89,281.01 L87.19,281.37 L86.48,281.68 L85.77,281.95 L85.09,282.20 L84.45,282.46 L83.84,282.75 L83.26,283.09 L82.68,283.46 L82.10,283.88 L81.50,284.31 L80.86,284.75 L80.18,285.15 L79.46,285.48 L78.70,285.72 L77.92,285.84 L77.13,285.83 L76.36,285.67 L75.62,285.39 L74.94,284.99 L74.31,284.49 L73.74,283.94 L73.23,283.35 L72.76,282.77 L72.31,282.20 L71.86,281.67 L71.39,281.18 L70.90,280.73 L70.36,280.30 L69.79,279.88 L69.19,279.44 L68.58,278.97 L67.99,278.44 L67.44,277.86 L66.98,277.21 L66.62,276.50 L66.40,275.75 L66.30,274.97 L66.35,274.18 L66.52,273.40 L66.79,272.65 L67.14,271.94 L67.54,271.27 L67.96,270.64 L68.35,270.04 L68.72,269.45 L69.04,268.86 L69.32,268.24 L69.56,267.60 L69.79,266.92 L70.02,266.22 L70.28,265.49 L70.59,264.77 L70.98,264.07 L71.46,263.43 L72.02,262.87 L72.67,262.42 L73.38,262.09 L74.14,261.89 L74.94,261.81 L75.73,261.84 L76.52,261.96 L77.28,262.13 L78.00,262.33 L78.70,262.52 L79.37,262.69 L80.04,262.81 L80.71,262.89 L81.39,262.92 L82.10,262.92 L82.85,262.92 L83.62,262.95 L84.40,263.02 L85.19,263.18 L85.94,263.43 L86.65,263.79 L87.28,264.27 L87.81,264.85 L88.24,265.51 L88.56,266.24 L88.77,267.01 L88.91,267.79 L88.98,268.56 L89.01,269.32 L89.05,270.04 L89.10,270.73 L89.18,271.40 L89.32,272.06 L89.50,272.72 Z" fill="none" stroke="#f0f0f0" stroke-width="1.0" stroke-dasharray="1.2,2.6"/>
<path d="M86.58,273.40 L86.75,273.91 L86.90,274.44 L87.02,274.99 L87.09,275.55 L87.09,276.12 L86.99,276.68 L86.81,277.22 L86.54,277.71 L86.18,278.15 L85.75,278.52 L85.28,278.84 L84.78,279.10 L84.26,279.32 L83.76,279.52 L83.27,279.70 L82.82,279.88 L82.38,280.09 L81.96,280.33 L81.55,280.60 L81.14,280.90 L80.71,281.21 L80.25,281.52 L79.76,281.81 L79.24,282.05 L78.70,282.22 L78.14,282.30 L77.58,282.29 L77.02,282.18 L76.50,281.98 L76.01,281.69 L75.56,281.34 L75.15,280.94 L74.78,280.52 L74.45,280.10 L74.13,279.70 L73.80,279.32 L73.47,278.97 L73.12,278.64 L72.73,278.34 L72.32,278.03 L71.89,277.72 L71.46,277.38 L71.03,277.01 L70.65,276.59 L70.31,276.12 L70.06,275.62 L69.90,275.08 L69.83,274.52 L69.86,273.96 L69.98,273.40 L70.18,272.86 L70.43,272.36 L70.72,271.88 L71.01,271.43 L71.30,270.99 L71.56,270.57 L71.79,270.15 L71.99,269.71 L72.16,269.25 L72.32,268.77 L72.49,268.26 L72.67,267.74 L72.90,267.22 L73.18,266.73 L73.52,266.27 L73.92,265.87 L74.38,265.55 L74.89,265.31 L75.44,265.17 L76.01,265.11 L76.58,265.13 L77.14,265.21 L77.68,265.34 L78.20,265.48 L78.70,265.62 L79.18,265.74 L79.66,265.82 L80.14,265.88 L80.63,265.90 L81.14,265.90 L81.67,265.90 L82.22,265.92 L82.78,265.98 L83.34,266.09 L83.88,266.27 L84.39,266.53 L84.84,266.87 L85.22,267.28 L85.52,267.75 L85.75,268.28 L85.91,268.83 L86.00,269.39 L86.05,269.94 L86.08,270.48 L86.10,270.99 L86.14,271.49 L86.20,271.97 L86.30,272.44 L86.43,272.91 Z" fill="none" stroke="#8a8a8a" stroke-width="1.6" stroke-dasharray="2.0,2.4"/>
<path d="M85.42,273.40 L85.06,273.80 L84.64,274.15 L84.22,274.45 L83.83,274.72 L83.50,274.96 L83.27,275.21 L83.12,275.48 L83.06,275.80 L83.08,276.18 L83.13,276.62 L83.19,277.12 L83.23,277.65 L83.20,278.20 L83.10,278.72 L82.90,279.18 L82.61,279.55 L82.22,279.81 L81.77,279.93 L81.28,279.93 L80.78,279.80 L80.28,279.57 L79.82,279.28 L79.40,278.98 L79.03,278.69 L78.70,278.45 L78.39,278.30 L78.09,278.25 L77.77,278.29 L77.41,278.42 L77.01,278.61 L76.55,278.82 L76.06,279.02 L75.53,279.17 L75.00,279.23 L74.50,279.18 L74.05,279.02 L73.69,278.73 L73.44,278.34 L73.29,277.87 L73.26,277.35 L73.32,276.81 L73.45,276.29 L73.62,275.79 L73.78,275.35 L73.90,274.96 L73.94,274.62 L73.90,274.32 L73.76,274.02 L73.53,273.73 L73.22,273.40 L72.88,273.03 L72.54,272.62 L72.24,272.17 L72.01,271.68 L71.90,271.19 L71.92,270.72 L72.08,270.29 L72.37,269.92 L72.77,269.64 L73.26,269.45 L73.79,269.34 L74.33,269.30 L74.85,269.30 L75.32,269.32 L75.73,269.31 L76.07,269.25 L76.35,269.12 L76.58,268.90 L76.79,268.58 L77.01,268.19 L77.25,267.75 L77.54,267.30 L77.88,266.87 L78.27,266.51 L78.70,266.25 L79.16,266.12 L79.62,266.14 L80.05,266.31 L80.45,266.60 L80.78,267.00 L81.05,267.48 L81.25,267.98 L81.41,268.48 L81.54,268.93 L81.67,269.31 L81.83,269.62 L82.04,269.84 L82.33,269.99 L82.69,270.10 L83.13,270.18 L83.62,270.28 L84.14,270.41 L84.65,270.60 L85.12,270.86 L85.50,271.19 L85.76,271.59 L85.89,272.03 L85.86,272.49 L85.70,272.96 Z" fill="#ececec" stroke="none" stroke-width="1" />
<path d="M80.71,273.40 L80.83,273.53 L80.96,273.69 L81.08,273.85 L81.17,274.03 L81.23,274.22 L81.24,274.40 L81.20,274.57 L81.10,274.72 L80.97,274.84 L80.79,274.92 L80.60,274.97 L80.39,274.99 L80.19,274.99 L80.01,274.98 L79.84,274.97 L79.70,274.98 L79.59,275.01 L79.49,275.08 L79.40,275.18 L79.32,275.31 L79.23,275.47 L79.13,275.64 L79.00,275.80 L78.86,275.95 L78.70,276.06 L78.53,276.12 L78.35,276.14 L78.19,276.10 L78.03,276.00 L77.90,275.86 L77.79,275.69 L77.71,275.50 L77.65,275.31 L77.60,275.13 L77.56,274.97 L77.51,274.84 L77.44,274.74 L77.35,274.67 L77.22,274.62 L77.07,274.58 L76.90,274.54 L76.70,274.50 L76.51,274.43 L76.33,274.34 L76.17,274.22 L76.06,274.08 L75.99,273.92 L75.98,273.74 L76.02,273.57 L76.11,273.40 L76.24,273.25 L76.39,273.11 L76.56,272.99 L76.72,272.89 L76.85,272.80 L76.96,272.71 L77.03,272.62 L77.07,272.51 L77.08,272.37 L77.07,272.22 L77.05,272.04 L77.04,271.84 L77.04,271.64 L77.07,271.43 L77.14,271.25 L77.24,271.10 L77.37,270.98 L77.53,270.92 L77.71,270.90 L77.90,270.94 L78.09,271.01 L78.26,271.12 L78.43,271.24 L78.57,271.36 L78.70,271.46 L78.82,271.53 L78.93,271.57 L79.05,271.58 L79.18,271.55 L79.32,271.49 L79.49,271.41 L79.67,271.34 L79.87,271.28 L80.07,271.25 L80.26,271.25 L80.44,271.30 L80.59,271.39 L80.70,271.52 L80.77,271.69 L80.79,271.88 L80.78,272.08 L80.74,272.28 L80.67,272.47 L80.61,272.65 L80.55,272.80 L80.51,272.93 L80.51,273.06 L80.54,273.17 L80.61,273.28 Z" fill="none" stroke="#666" stroke-width="0.7" stroke-dasharray="0.8,1.4"/>
</g>
<text x="118.10" y="212.80" font-size="10.5" text-anchor="middle" fill="#000" >3</text>
<rect x="99.70" y="215.70" width="36.80" height="36.80" rx="0" fill="#c5c0be" stroke="none" stroke-width="1" />
<g fill="#b8b3c6"><circle cx="118.10" cy="234.10" r="13.40"/><circle cx="129.07" cy="241.44" r="3.10"/><circle cx="115.65" cy="247.07" r="3.10"/><circle cx="106.26" cy="239.93" r="3.10"/><circle cx="108.09" cy="225.50" r="3.10"/><circle cx="118.98" cy="220.93" r="3.10"/><circle cx="130.56" cy="229.73" r="3.10"/></g>
<g fill="#bab5c5"><circle cx="118.10" cy="234.10" r="12.80"/><circle cx="129.07" cy="241.44" r="2.50"/><circle cx="115.65" cy="247.07" r="2.50"/><circle cx="106.26" cy="239.93" r="2.50"/><circle cx="108.09" cy="225.50" r="2.50"/><circle cx="118.98" cy="220.93" r="2.50"/><circle cx="130.56" cy="229.73" r="2.50"/></g>
<rect x="99.70" y="255.00" width="36.80" height="36.80" rx="0" fill="#929391" stroke="none" stroke-width="1" />
<g filter="url(#soft)">
<path d="M131.31,273.40 L131.23,274.23 L131.19,275.05 L131.16,275.89 L131.15,276.75 L131.13,277.64 L131.08,278.54 L130.97,279.46 L130.77,280.37 L130.48,281.25 L130.06,282.09 L129.53,282.86 L128.90,283.54 L128.16,284.12 L127.36,284.59 L126.50,284.96 L125.62,285.25 L124.74,285.47 L123.86,285.65 L123.01,285.81 L122.18,285.97 L121.37,286.15 L120.57,286.36 L119.77,286.59 L118.95,286.85 L118.10,287.11 L117.22,287.34 L116.32,287.51 L115.39,287.61 L114.45,287.60 L113.53,287.46 L112.64,287.20 L111.79,286.80 L111.02,286.28 L110.32,285.66 L109.70,284.96 L109.15,284.22 L108.67,283.44 L108.23,282.67 L107.82,281.91 L107.41,281.17 L106.99,280.45 L106.54,279.75 L106.07,279.06 L105.57,278.36 L105.07,277.64 L104.58,276.87 L104.13,276.07 L103.75,275.21 L103.47,274.32 L103.31,273.40 L103.29,272.47 L103.41,271.54 L103.66,270.65 L104.03,269.79 L104.50,268.98 L105.05,268.23 L105.64,267.53 L106.24,266.88 L106.83,266.25 L107.41,265.63 L107.96,265.01 L108.48,264.37 L109.00,263.71 L109.51,263.02 L110.04,262.31 L110.62,261.61 L111.25,260.94 L111.94,260.31 L112.70,259.77 L113.53,259.34 L114.41,259.03 L115.32,258.85 L116.26,258.82 L117.19,258.91 L118.10,259.11 L118.98,259.39 L119.83,259.73 L120.64,260.10 L121.42,260.48 L122.18,260.83 L122.94,261.16 L123.72,261.46 L124.51,261.75 L125.32,262.02 L126.16,262.31 L127.00,262.64 L127.84,263.03 L128.64,263.50 L129.39,264.06 L130.06,264.71 L130.63,265.45 L131.08,266.27 L131.40,267.14 L131.60,268.05 L131.70,268.98 L131.70,269.91 L131.63,270.82 L131.53,271.70 L131.42,272.56 Z" fill="none" stroke="#9e9e9e" stroke-width="0.8" />
<path d="M128.65,273.40 L128.57,274.06 L128.54,274.72 L128.55,275.39 L128.59,276.09 L128.64,276.82 L128.66,277.58 L128.64,278.36 L128.53,279.13 L128.33,279.89 L128.01,280.60 L127.59,281.25 L127.05,281.81 L126.42,282.26 L125.73,282.62 L124.99,282.88 L124.23,283.06 L123.47,283.18 L122.74,283.26 L122.03,283.34 L121.36,283.43 L120.71,283.56 L120.07,283.73 L119.43,283.96 L118.78,284.21 L118.10,284.48 L117.39,284.74 L116.64,284.95 L115.87,285.09 L115.09,285.13 L114.31,285.05 L113.57,284.85 L112.87,284.51 L112.24,284.06 L111.69,283.51 L111.21,282.88 L110.81,282.21 L110.46,281.53 L110.16,280.86 L109.87,280.21 L109.57,279.60 L109.24,279.02 L108.88,278.47 L108.47,277.93 L108.03,277.39 L107.56,276.82 L107.10,276.23 L106.66,275.58 L106.29,274.89 L106.01,274.16 L105.85,273.40 L105.81,272.63 L105.92,271.86 L106.15,271.12 L106.51,270.42 L106.95,269.78 L107.46,269.19 L108.01,268.65 L108.55,268.15 L109.08,267.67 L109.57,267.20 L110.02,266.71 L110.43,266.20 L110.82,265.64 L111.20,265.05 L111.59,264.44 L112.01,263.81 L112.49,263.20 L113.03,262.63 L113.64,262.14 L114.31,261.75 L115.04,261.48 L115.80,261.34 L116.58,261.34 L117.35,261.46 L118.10,261.68 L118.82,261.98 L119.50,262.33 L120.14,262.70 L120.76,263.05 L121.36,263.37 L121.96,263.65 L122.58,263.88 L123.23,264.08 L123.90,264.25 L124.61,264.44 L125.34,264.65 L126.07,264.91 L126.78,265.25 L127.43,265.68 L128.01,266.20 L128.49,266.80 L128.86,267.48 L129.10,268.22 L129.23,268.99 L129.25,269.78 L129.18,270.55 L129.06,271.31 L128.91,272.03 L128.77,272.73 Z" fill="#3c3c3c" stroke="#c4c4c4" stroke-width="1.8" />
<path d="M128.83,273.40 L128.75,274.07 L128.72,274.74 L128.73,275.43 L128.78,276.14 L128.82,276.88 L128.85,277.66 L128.82,278.44 L128.71,279.23 L128.51,280.00 L128.19,280.73 L127.75,281.39 L127.21,281.95 L126.57,282.42 L125.86,282.78 L125.11,283.05 L124.34,283.23 L123.57,283.35 L122.82,283.43 L122.10,283.51 L121.42,283.61 L120.75,283.74 L120.11,283.92 L119.46,284.14 L118.79,284.40 L118.10,284.67 L117.37,284.94 L116.62,285.15 L115.83,285.30 L115.03,285.34 L114.25,285.26 L113.49,285.05 L112.78,284.71 L112.14,284.24 L111.57,283.68 L111.09,283.05 L110.68,282.37 L110.33,281.68 L110.02,280.99 L109.72,280.33 L109.42,279.71 L109.09,279.12 L108.72,278.56 L108.30,278.01 L107.85,277.46 L107.38,276.88 L106.90,276.27 L106.46,275.62 L106.08,274.92 L105.80,274.17 L105.63,273.40 L105.60,272.61 L105.70,271.83 L105.95,271.08 L106.30,270.37 L106.76,269.71 L107.28,269.11 L107.83,268.57 L108.38,268.06 L108.92,267.57 L109.42,267.09 L109.88,266.60 L110.30,266.07 L110.69,265.51 L111.07,264.91 L111.47,264.28 L111.91,263.64 L112.39,263.02 L112.94,262.44 L113.56,261.94 L114.25,261.54 L114.98,261.27 L115.76,261.13 L116.55,261.12 L117.34,261.25 L118.10,261.47 L118.83,261.78 L119.52,262.14 L120.18,262.51 L120.80,262.87 L121.42,263.19 L122.03,263.48 L122.66,263.71 L123.32,263.91 L124.01,264.09 L124.73,264.28 L125.47,264.49 L126.21,264.76 L126.93,265.11 L127.60,265.54 L128.19,266.07 L128.68,266.69 L129.05,267.38 L129.30,268.13 L129.42,268.92 L129.44,269.71 L129.38,270.50 L129.25,271.27 L129.10,272.01 L128.95,272.72 Z" fill="none" stroke="#f0f0f0" stroke-width="1.0" stroke-dasharray="1.2,2.6"/>
<path d="M125.78,273.40 L125.72,273.88 L125.70,274.36 L125.71,274.85 L125.74,275.36 L125.77,275.89 L125.79,276.44 L125.77,277.01 L125.69,277.57 L125.55,278.13 L125.32,278.64 L125.01,279.11 L124.62,279.52 L124.16,279.85 L123.65,280.11 L123.12,280.30 L122.56,280.43 L122.01,280.52 L121.48,280.58 L120.96,280.63 L120.47,280.70 L120.00,280.80 L119.54,280.92 L119.07,281.08 L118.60,281.27 L118.10,281.47 L117.58,281.65 L117.04,281.81 L116.48,281.91 L115.91,281.94 L115.34,281.89 L114.80,281.73 L114.29,281.49 L113.83,281.16 L113.43,280.76 L113.08,280.30 L112.79,279.82 L112.54,279.32 L112.32,278.83 L112.10,278.36 L111.89,277.91 L111.65,277.49 L111.39,277.09 L111.09,276.70 L110.77,276.30 L110.43,275.89 L110.09,275.46 L109.77,274.99 L109.50,274.49 L109.30,273.95 L109.18,273.40 L109.15,272.84 L109.23,272.28 L109.40,271.74 L109.66,271.23 L109.98,270.76 L110.36,270.33 L110.75,269.94 L111.15,269.58 L111.53,269.23 L111.89,268.89 L112.22,268.53 L112.52,268.16 L112.80,267.75 L113.07,267.32 L113.36,266.87 L113.67,266.42 L114.02,265.97 L114.41,265.56 L114.85,265.20 L115.34,264.91 L115.87,264.72 L116.42,264.62 L116.99,264.62 L117.55,264.70 L118.10,264.87 L118.62,265.09 L119.12,265.34 L119.59,265.61 L120.03,265.86 L120.47,266.10 L120.91,266.30 L121.36,266.47 L121.83,266.61 L122.33,266.74 L122.84,266.87 L123.37,267.03 L123.90,267.22 L124.42,267.47 L124.90,267.78 L125.32,268.16 L125.67,268.60 L125.93,269.09 L126.11,269.63 L126.20,270.19 L126.22,270.76 L126.17,271.33 L126.08,271.88 L125.97,272.41 L125.87,272.91 Z" fill="none" stroke="#8a8a8a" stroke-width="1.6" stroke-dasharray="2.0,2.4"/>
<path d="M125.03,273.40 L125.04,273.84 L124.91,274.26 L124.65,274.65 L124.29,274.99 L123.85,275.27 L123.39,275.49 L122.93,275.67 L122.51,275.82 L122.15,275.97 L121.88,276.14 L121.68,276.36 L121.55,276.64 L121.48,277.00 L121.42,277.42 L121.36,277.89 L121.27,278.39 L121.12,278.89 L120.90,279.34 L120.60,279.72 L120.24,279.99 L119.83,280.14 L119.39,280.14 L118.94,280.02 L118.50,279.77 L118.10,279.45 L117.74,279.08 L117.43,278.69 L117.16,278.34 L116.91,278.05 L116.66,277.84 L116.39,277.72 L116.08,277.69 L115.72,277.72 L115.31,277.80 L114.84,277.89 L114.33,277.96 L113.81,277.97 L113.31,277.90 L112.86,277.73 L112.49,277.48 L112.23,277.13 L112.09,276.71 L112.07,276.24 L112.16,275.75 L112.35,275.27 L112.59,274.81 L112.86,274.40 L113.11,274.03 L113.31,273.70 L113.43,273.40 L113.46,273.11 L113.40,272.81 L113.26,272.48 L113.05,272.10 L112.82,271.68 L112.60,271.22 L112.43,270.73 L112.34,270.23 L112.36,269.76 L112.49,269.32 L112.74,268.97 L113.10,268.70 L113.54,268.54 L114.03,268.48 L114.54,268.51 L115.05,268.60 L115.53,268.72 L115.96,268.85 L116.33,268.94 L116.66,268.96 L116.94,268.90 L117.21,268.75 L117.48,268.51 L117.77,268.20 L118.10,267.85 L118.47,267.50 L118.89,267.19 L119.33,266.95 L119.79,266.81 L120.24,266.81 L120.66,266.93 L121.02,267.19 L121.31,267.56 L121.52,268.01 L121.66,268.51 L121.73,269.02 L121.75,269.51 L121.77,269.96 L121.80,270.34 L121.88,270.66 L122.02,270.91 L122.25,271.12 L122.56,271.30 L122.95,271.48 L123.38,271.68 L123.83,271.93 L124.25,272.23 L124.62,272.58 L124.89,272.97 Z" fill="#eeeeee" stroke="none" stroke-width="1" />
<path d="M119.97,273.40 L119.94,273.52 L119.94,273.63 L119.98,273.76 L120.05,273.90 L120.13,274.06 L120.22,274.24 L120.29,274.43 L120.34,274.63 L120.35,274.83 L120.31,275.01 L120.23,275.16 L120.10,275.28 L119.94,275.36 L119.75,275.39 L119.55,275.39 L119.34,275.36 L119.15,275.31 L118.97,275.25 L118.81,275.20 L118.68,275.18 L118.56,275.18 L118.45,275.22 L118.34,275.30 L118.23,275.41 L118.10,275.54 L117.96,275.68 L117.80,275.80 L117.62,275.91 L117.44,275.98 L117.26,276.00 L117.08,275.97 L116.93,275.88 L116.81,275.75 L116.71,275.58 L116.65,275.39 L116.62,275.19 L116.61,274.99 L116.61,274.80 L116.61,274.64 L116.59,274.50 L116.55,274.39 L116.47,274.29 L116.37,274.22 L116.23,274.14 L116.07,274.06 L115.89,273.97 L115.72,273.85 L115.57,273.72 L115.45,273.57 L115.37,273.40 L115.35,273.23 L115.38,273.06 L115.46,272.90 L115.59,272.76 L115.76,272.64 L115.94,272.55 L116.13,272.47 L116.31,272.41 L116.46,272.36 L116.59,272.30 L116.68,272.23 L116.75,272.13 L116.79,272.00 L116.82,271.85 L116.84,271.67 L116.88,271.48 L116.93,271.28 L117.01,271.09 L117.12,270.93 L117.26,270.80 L117.41,270.73 L117.59,270.71 L117.76,270.74 L117.94,270.82 L118.10,270.94 L118.25,271.08 L118.37,271.24 L118.48,271.39 L118.58,271.52 L118.68,271.62 L118.78,271.69 L118.89,271.72 L119.02,271.72 L119.18,271.70 L119.36,271.67 L119.55,271.64 L119.76,271.63 L119.96,271.65 L120.15,271.70 L120.31,271.79 L120.43,271.92 L120.50,272.08 L120.53,272.26 L120.50,272.45 L120.44,272.64 L120.35,272.82 L120.24,272.99 L120.13,273.14 L120.04,273.28 Z" fill="none" stroke="#666" stroke-width="0.7" stroke-dasharray="0.8,1.4"/>
</g>
<text x="158.20" y="212.80" font-size="10.5" text-anchor="middle" fill="#000" >10</text>
<rect x="139.80" y="215.70" width="36.80" height="36.80" rx="0" fill="#c5c0be" stroke="none" stroke-width="1" />
<g fill="#a9a3cc"><circle cx="158.20" cy="234.10" r="13.40"/><circle cx="168.21" cy="242.70" r="3.10"/><circle cx="154.22" cy="246.69" r="3.10"/><circle cx="145.74" cy="238.47" r="3.10"/><circle cx="149.29" cy="224.36" r="3.10"/><circle cx="160.65" cy="221.13" r="3.10"/><circle cx="171.09" cy="231.26" r="3.10"/></g>
<g fill="#b1accb"><circle cx="158.20" cy="234.10" r="12.80"/><circle cx="168.21" cy="242.70" r="2.50"/><circle cx="154.22" cy="246.69" r="2.50"/><circle cx="145.74" cy="238.47" r="2.50"/><circle cx="149.29" cy="224.36" r="2.50"/><circle cx="160.65" cy="221.13" r="2.50"/><circle cx="171.09" cy="231.26" r="2.50"/></g>
<rect x="139.80" y="255.00" width="36.80" height="36.80" rx="0" fill="#929391" stroke="none" stroke-width="1" />
<g filter="url(#soft)">
<path d="M172.23,273.40 L171.94,274.26 L171.63,275.10 L171.30,275.90 L171.00,276.69 L170.72,277.47 L170.47,278.26 L170.24,279.06 L170.01,279.89 L169.78,280.75 L169.50,281.61 L169.16,282.47 L168.75,283.30 L168.24,284.09 L167.63,284.79 L166.92,285.41 L166.13,285.90 L165.28,286.28 L164.38,286.54 L163.46,286.69 L162.54,286.74 L161.62,286.74 L160.74,286.69 L159.87,286.63 L159.03,286.59 L158.20,286.56 L157.37,286.57 L156.53,286.60 L155.67,286.64 L154.79,286.68 L153.88,286.68 L152.96,286.63 L152.04,286.49 L151.14,286.25 L150.28,285.89 L149.48,285.41 L148.76,284.81 L148.14,284.11 L147.62,283.34 L147.19,282.51 L146.85,281.65 L146.57,280.78 L146.34,279.92 L146.13,279.08 L145.92,278.26 L145.68,277.47 L145.42,276.68 L145.13,275.89 L144.83,275.09 L144.52,274.26 L144.23,273.40 L144.00,272.51 L143.85,271.59 L143.80,270.65 L143.88,269.72 L144.09,268.81 L144.43,267.95 L144.90,267.14 L145.48,266.41 L146.14,265.74 L146.85,265.15 L147.59,264.62 L148.34,264.14 L149.07,263.68 L149.78,263.22 L150.46,262.75 L151.13,262.26 L151.79,261.74 L152.46,261.20 L153.15,260.65 L153.88,260.12 L154.66,259.62 L155.49,259.19 L156.36,258.86 L157.27,258.64 L158.20,258.56 L159.13,258.62 L160.04,258.82 L160.92,259.14 L161.75,259.56 L162.54,260.06 L163.27,260.60 L163.96,261.16 L164.63,261.71 L165.28,262.25 L165.94,262.75 L166.61,263.24 L167.31,263.70 L168.03,264.17 L168.76,264.66 L169.50,265.19 L170.21,265.78 L170.88,266.43 L171.47,267.16 L171.95,267.96 L172.31,268.81 L172.54,269.72 L172.64,270.65 L172.60,271.58 L172.46,272.50 Z" fill="none" stroke="#9e9e9e" stroke-width="0.8" />
<path d="M169.63,273.40 L169.33,274.10 L169.01,274.77 L168.69,275.40 L168.41,276.02 L168.18,276.64 L167.98,277.27 L167.83,277.93 L167.70,278.62 L167.56,279.34 L167.40,280.08 L167.18,280.83 L166.88,281.55 L166.49,282.23 L166.01,282.84 L165.44,283.36 L164.78,283.77 L164.06,284.05 L163.29,284.22 L162.51,284.29 L161.73,284.27 L160.97,284.20 L160.24,284.10 L159.54,284.00 L158.86,283.92 L158.20,283.89 L157.54,283.90 L156.87,283.96 L156.17,284.04 L155.44,284.14 L154.69,284.21 L153.91,284.23 L153.13,284.17 L152.36,284.02 L151.63,283.75 L150.96,283.36 L150.37,282.86 L149.88,282.26 L149.48,281.59 L149.17,280.87 L148.95,280.12 L148.78,279.37 L148.66,278.65 L148.53,277.95 L148.40,277.28 L148.22,276.64 L148.01,276.02 L147.75,275.39 L147.45,274.76 L147.14,274.10 L146.83,273.40 L146.57,272.67 L146.39,271.91 L146.30,271.13 L146.33,270.35 L146.49,269.60 L146.78,268.88 L147.20,268.22 L147.72,267.64 L148.31,267.12 L148.95,266.68 L149.61,266.29 L150.26,265.94 L150.89,265.61 L151.48,265.28 L152.03,264.91 L152.56,264.52 L153.07,264.07 L153.59,263.59 L154.12,263.09 L154.69,262.59 L155.30,262.12 L155.97,261.70 L156.68,261.38 L157.43,261.17 L158.20,261.09 L158.97,261.15 L159.72,261.34 L160.44,261.65 L161.11,262.05 L161.73,262.53 L162.30,263.03 L162.84,263.54 L163.35,264.04 L163.85,264.50 L164.37,264.91 L164.91,265.29 L165.49,265.64 L166.10,265.98 L166.74,266.33 L167.40,266.72 L168.04,267.16 L168.64,267.66 L169.16,268.24 L169.60,268.89 L169.91,269.60 L170.09,270.35 L170.14,271.12 L170.07,271.90 L169.89,272.66 Z" fill="#3c3c3c" stroke="#c4c4c4" stroke-width="1.8" />
<path d="M169.83,273.40 L169.52,274.11 L169.20,274.79 L168.88,275.44 L168.59,276.07 L168.35,276.70 L168.16,277.34 L168.00,278.01 L167.86,278.71 L167.72,279.44 L167.56,280.20 L167.33,280.96 L167.03,281.69 L166.64,282.39 L166.15,283.01 L165.56,283.53 L164.89,283.95 L164.16,284.24 L163.38,284.41 L162.59,284.48 L161.80,284.47 L161.02,284.39 L160.28,284.29 L159.56,284.18 L158.87,284.11 L158.20,284.07 L157.53,284.09 L156.84,284.14 L156.13,284.23 L155.39,284.33 L154.63,284.40 L153.84,284.42 L153.04,284.36 L152.26,284.20 L151.52,283.93 L150.84,283.53 L150.24,283.03 L149.73,282.42 L149.33,281.73 L149.02,281.00 L148.79,280.24 L148.62,279.48 L148.49,278.74 L148.36,278.03 L148.22,277.35 L148.05,276.70 L147.83,276.06 L147.56,275.43 L147.26,274.78 L146.94,274.11 L146.63,273.40 L146.37,272.66 L146.18,271.88 L146.09,271.09 L146.12,270.30 L146.29,269.53 L146.58,268.80 L147.01,268.13 L147.53,267.54 L148.14,267.01 L148.79,266.56 L149.46,266.17 L150.12,265.81 L150.76,265.48 L151.36,265.13 L151.93,264.77 L152.46,264.36 L152.98,263.91 L153.51,263.42 L154.05,262.91 L154.63,262.40 L155.25,261.92 L155.93,261.50 L156.65,261.17 L157.42,260.95 L158.20,260.87 L158.98,260.93 L159.75,261.13 L160.48,261.44 L161.16,261.85 L161.80,262.33 L162.38,262.85 L162.92,263.37 L163.44,263.87 L163.95,264.34 L164.47,264.77 L165.03,265.15 L165.61,265.51 L166.24,265.85 L166.89,266.21 L167.56,266.60 L168.21,267.05 L168.82,267.56 L169.36,268.15 L169.80,268.81 L170.11,269.53 L170.30,270.29 L170.35,271.08 L170.28,271.87 L170.10,272.65 Z" fill="none" stroke="#f0f0f0" stroke-width="1.0" stroke-dasharray="1.2,2.6"/>
<path d="M166.52,273.40 L166.30,273.91 L166.07,274.39 L165.84,274.86 L165.64,275.31 L165.46,275.76 L165.32,276.22 L165.21,276.70 L165.11,277.20 L165.01,277.72 L164.89,278.26 L164.73,278.81 L164.52,279.33 L164.24,279.83 L163.89,280.28 L163.47,280.65 L162.99,280.95 L162.46,281.16 L161.91,281.28 L161.34,281.33 L160.77,281.32 L160.22,281.26 L159.69,281.19 L159.17,281.12 L158.68,281.06 L158.20,281.04 L157.72,281.05 L157.23,281.09 L156.72,281.15 L156.19,281.22 L155.64,281.27 L155.08,281.29 L154.51,281.24 L153.95,281.13 L153.42,280.93 L152.93,280.65 L152.50,280.29 L152.14,279.85 L151.85,279.36 L151.63,278.84 L151.46,278.29 L151.35,277.75 L151.25,277.22 L151.16,276.71 L151.06,276.23 L150.94,275.76 L150.78,275.31 L150.59,274.85 L150.37,274.39 L150.14,273.91 L149.92,273.40 L149.74,272.87 L149.60,272.31 L149.53,271.75 L149.56,271.18 L149.68,270.63 L149.89,270.11 L150.19,269.63 L150.57,269.20 L151.00,268.83 L151.46,268.51 L151.94,268.22 L152.42,267.97 L152.88,267.73 L153.31,267.49 L153.71,267.22 L154.09,266.93 L154.47,266.61 L154.84,266.26 L155.23,265.90 L155.64,265.53 L156.09,265.19 L156.58,264.88 L157.09,264.65 L157.64,264.49 L158.20,264.44 L158.76,264.48 L159.31,264.62 L159.83,264.84 L160.32,265.14 L160.77,265.48 L161.19,265.85 L161.58,266.22 L161.95,266.58 L162.31,266.92 L162.69,267.22 L163.08,267.50 L163.50,267.75 L163.95,268.00 L164.42,268.26 L164.89,268.54 L165.36,268.86 L165.80,269.22 L166.18,269.64 L166.50,270.12 L166.72,270.63 L166.86,271.18 L166.89,271.74 L166.84,272.31 L166.71,272.86 Z" fill="none" stroke="#8a8a8a" stroke-width="1.6" stroke-dasharray="2.0,2.4"/>
<path d="M163.81,273.40 L164.13,273.77 L164.39,274.18 L164.54,274.61 L164.57,275.04 L164.47,275.44 L164.25,275.79 L163.92,276.09 L163.50,276.31 L163.04,276.47 L162.56,276.57 L162.09,276.62 L161.67,276.66 L161.31,276.72 L161.02,276.81 L160.79,276.96 L160.61,277.20 L160.46,277.50 L160.31,277.88 L160.14,278.30 L159.93,278.74 L159.68,279.16 L159.37,279.52 L159.01,279.80 L158.61,279.96 L158.20,279.99 L157.79,279.89 L157.41,279.67 L157.07,279.34 L156.78,278.95 L156.54,278.52 L156.34,278.10 L156.17,277.71 L156.01,277.39 L155.83,277.14 L155.61,276.96 L155.33,276.86 L154.99,276.81 L154.59,276.79 L154.14,276.76 L153.66,276.70 L153.18,276.59 L152.74,276.40 L152.36,276.15 L152.09,275.82 L151.93,275.44 L151.90,275.02 L151.99,274.58 L152.20,274.16 L152.48,273.76 L152.81,273.40 L153.16,273.08 L153.47,272.80 L153.73,272.55 L153.91,272.30 L154.01,272.04 L154.02,271.75 L153.96,271.41 L153.86,271.02 L153.75,270.58 L153.66,270.10 L153.62,269.61 L153.65,269.13 L153.78,268.70 L154.01,268.33 L154.32,268.07 L154.71,267.91 L155.16,267.86 L155.62,267.93 L156.09,268.07 L156.54,268.28 L156.94,268.51 L157.31,268.72 L157.63,268.89 L157.92,268.98 L158.20,268.99 L158.48,268.91 L158.79,268.75 L159.13,268.54 L159.51,268.30 L159.93,268.06 L160.39,267.87 L160.85,267.76 L161.31,267.75 L161.72,267.85 L162.08,268.07 L162.35,268.39 L162.52,268.79 L162.61,269.26 L162.61,269.75 L162.56,270.23 L162.47,270.69 L162.38,271.10 L162.31,271.46 L162.31,271.77 L162.39,272.04 L162.55,272.28 L162.80,272.52 L163.11,272.78 L163.46,273.07 Z" fill="#e2e2e2" stroke="none" stroke-width="1" />
<path d="M160.52,273.40 L160.37,273.54 L160.23,273.66 L160.10,273.76 L160.01,273.86 L159.95,273.97 L159.93,274.08 L159.94,274.22 L159.97,274.37 L160.01,274.55 L160.05,274.74 L160.07,274.95 L160.06,275.15 L160.02,275.34 L159.94,275.50 L159.82,275.63 L159.67,275.72 L159.49,275.75 L159.30,275.74 L159.11,275.69 L158.92,275.60 L158.74,275.51 L158.58,275.41 L158.44,275.32 L158.32,275.26 L158.20,275.24 L158.08,275.25 L157.96,275.30 L157.82,275.38 L157.67,275.47 L157.49,275.57 L157.31,275.66 L157.11,275.71 L156.92,275.73 L156.74,275.71 L156.58,275.63 L156.45,275.51 L156.36,275.36 L156.32,275.17 L156.31,274.97 L156.33,274.76 L156.36,274.57 L156.41,274.38 L156.45,274.23 L156.46,274.09 L156.45,273.97 L156.40,273.86 L156.32,273.76 L156.20,273.65 L156.06,273.53 L155.92,273.40 L155.78,273.25 L155.66,273.08 L155.59,272.90 L155.55,272.72 L155.58,272.55 L155.65,272.39 L155.77,272.26 L155.94,272.16 L156.12,272.08 L156.33,272.04 L156.52,272.01 L156.71,272.00 L156.87,271.99 L157.01,271.96 L157.12,271.91 L157.20,271.83 L157.28,271.72 L157.34,271.58 L157.41,271.41 L157.49,271.23 L157.60,271.05 L157.72,270.89 L157.87,270.76 L158.03,270.67 L158.20,270.64 L158.37,270.66 L158.54,270.74 L158.68,270.86 L158.81,271.02 L158.92,271.20 L159.00,271.38 L159.07,271.55 L159.13,271.70 L159.20,271.82 L159.28,271.91 L159.38,271.97 L159.51,272.00 L159.67,272.02 L159.85,272.03 L160.05,272.06 L160.25,272.10 L160.44,272.17 L160.61,272.27 L160.74,272.39 L160.82,272.55 L160.86,272.72 L160.83,272.90 L160.76,273.08 L160.65,273.25 Z" fill="none" stroke="#666" stroke-width="0.7" stroke-dasharray="0.8,1.4"/>
</g>
<text x="197.40" y="212.80" font-size="10.5" text-anchor="middle" fill="#000" >30</text>
<rect x="179.00" y="215.70" width="36.80" height="36.80" rx="0" fill="#c5c0be" stroke="none" stroke-width="1" />
<g fill="#6e68b3"><circle cx="197.40" cy="234.10" r="13.40"/><circle cx="206.31" cy="243.84" r="3.10"/><circle cx="191.94" cy="246.12" r="3.10"/><circle cx="184.51" cy="236.94" r="3.10"/><circle cx="189.72" cy="223.36" r="3.10"/><circle cx="201.38" cy="221.51" r="3.10"/><circle cx="210.54" cy="232.82" r="3.10"/></g>
<g fill="#7c77b9"><circle cx="197.40" cy="234.10" r="12.80"/><circle cx="206.31" cy="243.84" r="2.50"/><circle cx="191.94" cy="246.12" r="2.50"/><circle cx="184.51" cy="236.94" r="2.50"/><circle cx="189.72" cy="223.36" r="2.50"/><circle cx="201.38" cy="221.51" r="2.50"/><circle cx="210.54" cy="232.82" r="2.50"/></g>
<rect x="179.00" y="255.00" width="36.80" height="36.80" rx="0" fill="#929391" stroke="none" stroke-width="1" />
<g filter="url(#soft)">
<path d="M212.21,273.40 L212.07,274.32 L211.80,275.22 L211.43,276.08 L210.99,276.89 L210.49,277.65 L209.98,278.38 L209.47,279.08 L208.98,279.76 L208.51,280.45 L208.07,281.15 L207.65,281.88 L207.23,282.63 L206.79,283.40 L206.31,284.17 L205.77,284.92 L205.15,285.62 L204.46,286.25 L203.70,286.78 L202.86,287.20 L201.98,287.48 L201.05,287.63 L200.12,287.66 L199.19,287.57 L198.28,287.40 L197.40,287.17 L196.55,286.90 L195.73,286.63 L194.92,286.38 L194.13,286.15 L193.32,285.95 L192.50,285.77 L191.66,285.60 L190.79,285.42 L189.91,285.20 L189.03,284.92 L188.17,284.55 L187.36,284.09 L186.62,283.52 L185.97,282.86 L185.42,282.10 L184.99,281.27 L184.68,280.39 L184.48,279.48 L184.36,278.56 L184.31,277.65 L184.30,276.76 L184.30,275.90 L184.29,275.06 L184.27,274.23 L184.21,273.40 L184.12,272.56 L184.02,271.71 L183.93,270.83 L183.87,269.92 L183.86,269.00 L183.94,268.07 L184.13,267.16 L184.44,266.27 L184.87,265.45 L185.42,264.70 L186.08,264.03 L186.82,263.46 L187.62,262.99 L188.46,262.59 L189.31,262.26 L190.15,261.98 L190.98,261.71 L191.78,261.45 L192.56,261.16 L193.32,260.85 L194.09,260.51 L194.87,260.15 L195.68,259.79 L196.52,259.45 L197.40,259.17 L198.31,258.96 L199.24,258.85 L200.17,258.87 L201.09,259.03 L201.98,259.32 L202.81,259.74 L203.58,260.27 L204.28,260.88 L204.92,261.56 L205.49,262.26 L206.02,262.98 L206.53,263.68 L207.03,264.36 L207.54,265.01 L208.07,265.65 L208.63,266.27 L209.22,266.90 L209.81,267.56 L210.39,268.26 L210.94,269.00 L211.42,269.80 L211.80,270.65 L212.07,271.55 L212.21,272.47 Z" fill="none" stroke="#9e9e9e" stroke-width="0.8" />
<path d="M209.68,273.40 L209.53,274.16 L209.26,274.90 L208.90,275.59 L208.47,276.24 L208.00,276.84 L207.52,277.41 L207.06,277.95 L206.64,278.48 L206.26,279.02 L205.91,279.59 L205.60,280.19 L205.30,280.82 L204.99,281.49 L204.65,282.16 L204.25,282.83 L203.78,283.46 L203.24,284.02 L202.62,284.49 L201.93,284.85 L201.19,285.07 L200.42,285.17 L199.64,285.15 L198.87,285.02 L198.12,284.81 L197.40,284.55 L196.72,284.27 L196.06,283.99 L195.42,283.76 L194.79,283.56 L194.15,283.41 L193.48,283.30 L192.78,283.21 L192.06,283.12 L191.31,283.00 L190.55,282.83 L189.81,282.58 L189.10,282.24 L188.46,281.79 L187.91,281.25 L187.47,280.62 L187.14,279.91 L186.92,279.16 L186.81,278.39 L186.77,277.61 L186.80,276.84 L186.85,276.11 L186.91,275.40 L186.94,274.72 L186.93,274.06 L186.88,273.40 L186.78,272.73 L186.64,272.04 L186.51,271.32 L186.39,270.57 L186.32,269.80 L186.32,269.01 L186.43,268.24 L186.66,267.49 L187.01,266.80 L187.47,266.18 L188.04,265.65 L188.68,265.21 L189.38,264.86 L190.12,264.59 L190.85,264.38 L191.57,264.21 L192.26,264.04 L192.91,263.86 L193.54,263.65 L194.15,263.39 L194.75,263.09 L195.37,262.75 L196.01,262.40 L196.69,262.05 L197.40,261.75 L198.15,261.51 L198.92,261.37 L199.70,261.36 L200.46,261.48 L201.19,261.73 L201.87,262.10 L202.49,262.58 L203.04,263.14 L203.52,263.75 L203.95,264.38 L204.34,265.01 L204.71,265.62 L205.08,266.18 L205.48,266.71 L205.91,267.21 L206.39,267.70 L206.90,268.18 L207.44,268.68 L207.97,269.21 L208.48,269.80 L208.94,270.44 L209.31,271.13 L209.56,271.86 L209.69,272.63 Z" fill="#3c3c3c" stroke="#c4c4c4" stroke-width="1.8" />
<path d="M209.89,273.40 L209.74,274.18 L209.47,274.93 L209.10,275.63 L208.66,276.29 L208.19,276.90 L207.70,277.48 L207.23,278.03 L206.80,278.57 L206.41,279.12 L206.06,279.69 L205.75,280.31 L205.44,280.95 L205.13,281.63 L204.78,282.32 L204.37,282.99 L203.90,283.63 L203.34,284.21 L202.71,284.69 L202.01,285.05 L201.26,285.28 L200.48,285.38 L199.68,285.35 L198.89,285.22 L198.13,285.01 L197.40,284.74 L196.70,284.46 L196.04,284.18 L195.39,283.94 L194.75,283.74 L194.09,283.58 L193.41,283.47 L192.70,283.38 L191.96,283.29 L191.20,283.17 L190.43,282.99 L189.67,282.74 L188.96,282.39 L188.31,281.94 L187.75,281.39 L187.29,280.74 L186.96,280.03 L186.74,279.26 L186.62,278.47 L186.59,277.68 L186.61,276.90 L186.67,276.15 L186.73,275.44 L186.76,274.74 L186.75,274.07 L186.69,273.40 L186.59,272.72 L186.46,272.02 L186.31,271.29 L186.19,270.52 L186.12,269.74 L186.13,268.94 L186.24,268.15 L186.47,267.39 L186.82,266.69 L187.29,266.06 L187.87,265.52 L188.53,265.07 L189.24,264.72 L189.99,264.44 L190.73,264.23 L191.46,264.05 L192.17,263.88 L192.83,263.69 L193.47,263.48 L194.09,263.22 L194.71,262.91 L195.33,262.56 L195.99,262.20 L196.67,261.85 L197.40,261.54 L198.16,261.30 L198.95,261.16 L199.74,261.15 L200.52,261.27 L201.26,261.52 L201.95,261.90 L202.58,262.39 L203.14,262.96 L203.63,263.58 L204.07,264.23 L204.46,264.86 L204.84,265.48 L205.22,266.06 L205.62,266.60 L206.06,267.11 L206.55,267.60 L207.07,268.09 L207.61,268.59 L208.16,269.14 L208.68,269.74 L209.14,270.39 L209.52,271.09 L209.77,271.84 L209.90,272.61 Z" fill="none" stroke="#f0f0f0" stroke-width="1.0" stroke-dasharray="1.2,2.6"/>
<path d="M206.34,273.40 L206.23,273.96 L206.04,274.49 L205.77,275.00 L205.46,275.47 L205.12,275.91 L204.77,276.32 L204.44,276.71 L204.13,277.10 L203.85,277.49 L203.60,277.90 L203.37,278.34 L203.15,278.80 L202.93,279.29 L202.68,279.78 L202.39,280.26 L202.05,280.72 L201.65,281.13 L201.20,281.48 L200.70,281.73 L200.16,281.90 L199.60,281.97 L199.03,281.95 L198.47,281.86 L197.92,281.70 L197.40,281.51 L196.90,281.31 L196.43,281.11 L195.96,280.94 L195.50,280.80 L195.03,280.69 L194.55,280.61 L194.04,280.54 L193.51,280.48 L192.96,280.39 L192.41,280.26 L191.87,280.08 L191.36,279.83 L190.89,279.51 L190.49,279.11 L190.17,278.65 L189.93,278.14 L189.77,277.59 L189.69,277.03 L189.66,276.46 L189.68,275.91 L189.72,275.37 L189.76,274.86 L189.79,274.36 L189.78,273.88 L189.74,273.40 L189.66,272.91 L189.57,272.41 L189.47,271.89 L189.38,271.34 L189.33,270.78 L189.34,270.21 L189.42,269.64 L189.58,269.10 L189.83,268.60 L190.17,268.15 L190.58,267.76 L191.05,267.44 L191.56,267.19 L192.10,266.99 L192.63,266.84 L193.15,266.71 L193.65,266.59 L194.13,266.46 L194.59,266.30 L195.03,266.11 L195.47,265.89 L195.92,265.65 L196.39,265.39 L196.88,265.14 L197.40,264.91 L197.94,264.74 L198.51,264.64 L199.07,264.63 L199.63,264.72 L200.16,264.90 L200.66,265.17 L201.11,265.52 L201.51,265.93 L201.86,266.37 L202.17,266.84 L202.45,267.29 L202.72,267.73 L202.99,268.15 L203.28,268.53 L203.60,268.90 L203.94,269.25 L204.32,269.60 L204.71,269.96 L205.10,270.35 L205.47,270.78 L205.80,271.24 L206.07,271.75 L206.25,272.28 L206.35,272.84 Z" fill="none" stroke="#8a8a8a" stroke-width="1.6" stroke-dasharray="2.0,2.4"/>
<path d="M206.01,273.40 L205.91,273.94 L205.73,274.45 L205.47,274.94 L205.17,275.39 L204.84,275.82 L204.50,276.21 L204.18,276.59 L203.88,276.96 L203.61,277.34 L203.37,277.74 L203.16,278.16 L202.95,278.61 L202.73,279.07 L202.49,279.55 L202.21,280.02 L201.88,280.46 L201.50,280.85 L201.06,281.18 L200.58,281.43 L200.06,281.59 L199.52,281.66 L198.97,281.64 L198.43,281.55 L197.90,281.40 L197.40,281.22 L196.92,281.02 L196.46,280.84 L196.01,280.67 L195.57,280.53 L195.12,280.42 L194.65,280.35 L194.16,280.28 L193.65,280.22 L193.12,280.14 L192.59,280.02 L192.07,279.84 L191.58,279.60 L191.13,279.29 L190.74,278.91 L190.43,278.46 L190.20,277.97 L190.05,277.44 L189.97,276.90 L189.94,276.35 L189.96,275.82 L190.00,275.30 L190.04,274.80 L190.06,274.33 L190.05,273.86 L190.01,273.40 L189.94,272.93 L189.85,272.45 L189.75,271.94 L189.67,271.42 L189.62,270.87 L189.63,270.32 L189.70,269.78 L189.86,269.26 L190.11,268.77 L190.43,268.34 L190.83,267.96 L191.28,267.66 L191.78,267.41 L192.29,267.22 L192.80,267.07 L193.31,266.95 L193.79,266.83 L194.25,266.71 L194.69,266.56 L195.12,266.38 L195.54,266.16 L195.97,265.93 L196.42,265.68 L196.90,265.44 L197.40,265.22 L197.92,265.06 L198.47,264.96 L199.01,264.95 L199.55,265.03 L200.06,265.21 L200.54,265.47 L200.97,265.81 L201.36,266.20 L201.70,266.63 L202.00,267.07 L202.27,267.51 L202.53,267.94 L202.79,268.34 L203.07,268.71 L203.37,269.06 L203.71,269.40 L204.07,269.73 L204.44,270.09 L204.82,270.46 L205.18,270.87 L205.50,271.32 L205.76,271.81 L205.93,272.32 L206.02,272.86 Z" fill="#141414" stroke="none" stroke-width="1" />
<circle cx="197.40" cy="273.40" r="3.0" fill="none" stroke="#d8d8d8" stroke-width="1.1" stroke-dasharray="0.9,1.4"/>
</g>
<text x="236.90" y="212.80" font-size="10.5" text-anchor="middle" fill="#000" >100</text>
<rect x="218.50" y="215.70" width="36.80" height="36.80" rx="0" fill="#c5c0be" stroke="none" stroke-width="1" />
<g fill="#5855a0"><circle cx="236.90" cy="234.10" r="13.40"/><circle cx="244.58" cy="244.84" r="3.10"/><circle cx="230.04" cy="245.38" r="3.10"/><circle cx="223.76" cy="235.38" r="3.10"/><circle cx="230.56" cy="222.52" r="3.10"/><circle cx="242.36" cy="222.08" r="3.10"/><circle cx="250.10" cy="234.40" r="3.10"/></g>
<g fill="#58567d"><circle cx="236.90" cy="234.10" r="12.80"/><circle cx="244.58" cy="244.84" r="2.50"/><circle cx="230.04" cy="245.38" r="2.50"/><circle cx="223.76" cy="235.38" r="2.50"/><circle cx="230.56" cy="222.52" r="2.50"/><circle cx="242.36" cy="222.08" r="2.50"/><circle cx="250.10" cy="234.40" r="2.50"/></g>
<rect x="218.50" y="255.00" width="36.80" height="36.80" rx="0" fill="#929391" stroke="none" stroke-width="1" />
<g filter="url(#soft)">
<path d="M251.38,273.40 L251.54,274.32 L251.58,275.25 L251.48,276.18 L251.24,277.08 L250.87,277.94 L250.39,278.74 L249.82,279.48 L249.19,280.15 L248.52,280.77 L247.84,281.35 L247.17,281.90 L246.53,282.44 L245.91,282.99 L245.31,283.57 L244.72,284.17 L244.13,284.79 L243.51,285.42 L242.85,286.05 L242.14,286.64 L241.37,287.17 L240.55,287.61 L239.67,287.93 L238.76,288.12 L237.83,288.18 L236.90,288.09 L235.99,287.88 L235.11,287.57 L234.27,287.17 L233.48,286.73 L232.72,286.26 L231.99,285.80 L231.28,285.35 L230.56,284.93 L229.83,284.54 L229.08,284.17 L228.30,283.79 L227.51,283.40 L226.71,282.97 L225.93,282.48 L225.19,281.91 L224.52,281.26 L223.94,280.53 L223.47,279.72 L223.13,278.85 L222.93,277.94 L222.85,277.01 L222.87,276.08 L222.99,275.16 L223.17,274.26 L223.38,273.40 L223.59,272.56 L223.80,271.74 L223.97,270.93 L224.12,270.12 L224.24,269.29 L224.36,268.43 L224.48,267.56 L224.65,266.67 L224.88,265.77 L225.19,264.89 L225.60,264.05 L226.12,263.27 L226.74,262.58 L227.46,261.99 L228.26,261.51 L229.13,261.15 L230.02,260.89 L230.93,260.71 L231.83,260.61 L232.72,260.54 L233.58,260.49 L234.43,260.43 L235.25,260.34 L236.07,260.23 L236.90,260.09 L237.75,259.94 L238.62,259.79 L239.52,259.67 L240.44,259.61 L241.37,259.63 L242.30,259.76 L243.20,260.02 L244.05,260.40 L244.83,260.90 L245.54,261.51 L246.15,262.22 L246.67,262.99 L247.12,263.80 L247.50,264.63 L247.84,265.45 L248.16,266.26 L248.47,267.04 L248.81,267.80 L249.17,268.54 L249.56,269.29 L249.97,270.05 L250.38,270.83 L250.77,271.65 L251.11,272.51 Z" fill="none" stroke="#9e9e9e" stroke-width="0.8" />
<path d="M248.82,273.40 L249.00,274.16 L249.06,274.94 L248.99,275.71 L248.79,276.45 L248.46,277.15 L248.01,277.80 L247.49,278.38 L246.91,278.90 L246.31,279.37 L245.70,279.80 L245.13,280.20 L244.58,280.61 L244.08,281.05 L243.61,281.51 L243.16,282.02 L242.71,282.56 L242.25,283.12 L241.74,283.69 L241.19,284.24 L240.58,284.73 L239.92,285.14 L239.20,285.44 L238.44,285.61 L237.67,285.65 L236.90,285.55 L236.15,285.33 L235.43,285.01 L234.76,284.62 L234.13,284.19 L233.54,283.75 L232.97,283.33 L232.41,282.94 L231.85,282.59 L231.26,282.29 L230.64,282.02 L229.99,281.76 L229.30,281.49 L228.61,281.19 L227.92,280.83 L227.26,280.41 L226.66,279.90 L226.16,279.31 L225.76,278.64 L225.49,277.92 L225.34,277.15 L225.32,276.37 L225.40,275.59 L225.57,274.83 L225.78,274.10 L226.02,273.40 L226.25,272.73 L226.44,272.08 L226.60,271.43 L226.70,270.78 L226.77,270.11 L226.82,269.41 L226.86,268.68 L226.93,267.92 L227.05,267.15 L227.26,266.39 L227.56,265.67 L227.96,265.01 L228.47,264.43 L229.08,263.94 L229.76,263.57 L230.49,263.31 L231.26,263.14 L232.04,263.06 L232.80,263.04 L233.54,263.05 L234.25,263.06 L234.93,263.05 L235.59,262.99 L236.24,262.89 L236.90,262.75 L237.58,262.58 L238.29,262.39 L239.03,262.22 L239.80,262.11 L240.58,262.07 L241.36,262.13 L242.12,262.31 L242.83,262.61 L243.48,263.04 L244.04,263.57 L244.52,264.19 L244.91,264.87 L245.23,265.58 L245.48,266.30 L245.70,267.00 L245.91,267.68 L246.14,268.32 L246.39,268.93 L246.69,269.53 L247.03,270.11 L247.41,270.70 L247.80,271.32 L248.19,271.97 L248.54,272.67 Z" fill="#3c3c3c" stroke="#c4c4c4" stroke-width="1.8" />
<path d="M249.03,273.40 L249.21,274.17 L249.28,274.96 L249.21,275.75 L249.00,276.51 L248.66,277.22 L248.21,277.88 L247.67,278.47 L247.08,279.00 L246.47,279.47 L245.86,279.91 L245.27,280.32 L244.72,280.74 L244.21,281.18 L243.73,281.65 L243.27,282.17 L242.81,282.72 L242.34,283.30 L241.83,283.88 L241.27,284.43 L240.65,284.93 L239.97,285.35 L239.24,285.65 L238.47,285.83 L237.68,285.86 L236.90,285.76 L236.14,285.54 L235.41,285.21 L234.72,284.82 L234.08,284.38 L233.48,283.93 L232.90,283.50 L232.33,283.10 L231.76,282.75 L231.16,282.44 L230.53,282.17 L229.87,281.90 L229.17,281.63 L228.46,281.33 L227.76,280.96 L227.09,280.53 L226.48,280.01 L225.97,279.41 L225.56,278.73 L225.29,278.00 L225.14,277.22 L225.12,276.42 L225.20,275.63 L225.37,274.86 L225.59,274.11 L225.83,273.40 L226.06,272.72 L226.26,272.06 L226.42,271.40 L226.53,270.74 L226.59,270.05 L226.64,269.34 L226.68,268.59 L226.75,267.82 L226.88,267.04 L227.09,266.27 L227.39,265.54 L227.81,264.86 L228.32,264.27 L228.94,263.78 L229.63,263.40 L230.38,263.13 L231.16,262.96 L231.95,262.88 L232.73,262.86 L233.48,262.87 L234.20,262.88 L234.89,262.87 L235.56,262.81 L236.23,262.71 L236.90,262.56 L237.59,262.39 L238.32,262.20 L239.07,262.03 L239.85,261.91 L240.65,261.87 L241.44,261.93 L242.21,262.11 L242.94,262.42 L243.59,262.85 L244.17,263.40 L244.65,264.03 L245.05,264.72 L245.37,265.44 L245.63,266.17 L245.86,266.89 L246.07,267.58 L246.30,268.23 L246.56,268.86 L246.86,269.46 L247.21,270.05 L247.59,270.66 L247.99,271.28 L248.39,271.95 L248.74,272.65 Z" fill="none" stroke="#f0f0f0" stroke-width="1.0" stroke-dasharray="1.2,2.6"/>
<path d="M245.58,273.40 L245.71,273.95 L245.76,274.52 L245.71,275.08 L245.56,275.62 L245.31,276.13 L244.99,276.60 L244.61,277.03 L244.19,277.41 L243.75,277.75 L243.31,278.06 L242.89,278.35 L242.49,278.65 L242.13,278.97 L241.79,279.30 L241.46,279.67 L241.13,280.07 L240.79,280.48 L240.43,280.90 L240.03,281.29 L239.58,281.65 L239.10,281.95 L238.57,282.17 L238.02,282.29 L237.46,282.32 L236.90,282.25 L236.35,282.09 L235.83,281.85 L235.34,281.57 L234.88,281.26 L234.45,280.94 L234.04,280.63 L233.63,280.34 L233.22,280.09 L232.79,279.87 L232.34,279.67 L231.87,279.48 L231.37,279.29 L230.86,279.07 L230.36,278.81 L229.88,278.50 L229.45,278.13 L229.08,277.70 L228.79,277.22 L228.59,276.69 L228.49,276.13 L228.47,275.56 L228.53,275.00 L228.65,274.44 L228.81,273.91 L228.98,273.40 L229.14,272.91 L229.29,272.44 L229.40,271.97 L229.48,271.49 L229.53,271.00 L229.56,270.49 L229.59,269.96 L229.64,269.41 L229.73,268.85 L229.88,268.30 L230.10,267.77 L230.39,267.29 L230.76,266.87 L231.20,266.51 L231.70,266.24 L232.24,266.05 L232.80,265.93 L233.36,265.88 L233.91,265.86 L234.45,265.86 L234.97,265.87 L235.46,265.86 L235.94,265.82 L236.42,265.75 L236.90,265.65 L237.40,265.52 L237.91,265.38 L238.45,265.26 L239.01,265.18 L239.58,265.15 L240.15,265.19 L240.70,265.32 L241.22,265.54 L241.69,265.85 L242.10,266.24 L242.45,266.69 L242.73,267.19 L242.96,267.71 L243.15,268.23 L243.31,268.74 L243.46,269.24 L243.62,269.70 L243.81,270.15 L244.03,270.58 L244.27,271.00 L244.55,271.44 L244.84,271.89 L245.12,272.36 L245.37,272.87 Z" fill="none" stroke="#8a8a8a" stroke-width="1.6" stroke-dasharray="2.0,2.4"/>
<path d="M246.10,273.40 L246.24,273.99 L246.29,274.59 L246.24,275.18 L246.08,275.76 L245.82,276.30 L245.48,276.80 L245.07,277.25 L244.63,277.65 L244.16,278.01 L243.70,278.34 L243.25,278.65 L242.83,278.97 L242.44,279.30 L242.08,279.66 L241.73,280.05 L241.39,280.47 L241.03,280.91 L240.64,281.35 L240.21,281.77 L239.74,282.15 L239.23,282.47 L238.67,282.70 L238.09,282.83 L237.49,282.86 L236.90,282.78 L236.32,282.61 L235.77,282.36 L235.25,282.06 L234.76,281.73 L234.30,281.39 L233.87,281.06 L233.44,280.76 L233.00,280.49 L232.55,280.26 L232.07,280.05 L231.56,279.85 L231.04,279.64 L230.50,279.41 L229.96,279.14 L229.46,278.81 L229.00,278.41 L228.61,277.96 L228.30,277.45 L228.09,276.89 L227.98,276.30 L227.96,275.69 L228.03,275.09 L228.15,274.51 L228.32,273.94 L228.50,273.40 L228.68,272.88 L228.83,272.38 L228.95,271.88 L229.03,271.38 L229.08,270.86 L229.12,270.32 L229.15,269.75 L229.20,269.17 L229.30,268.58 L229.46,267.99 L229.69,267.43 L230.00,266.92 L230.39,266.47 L230.86,266.10 L231.39,265.81 L231.96,265.61 L232.55,265.48 L233.15,265.42 L233.73,265.41 L234.30,265.41 L234.85,265.42 L235.38,265.41 L235.89,265.37 L236.39,265.29 L236.90,265.18 L237.43,265.04 L237.97,264.90 L238.55,264.77 L239.14,264.68 L239.74,264.65 L240.35,264.70 L240.93,264.84 L241.48,265.07 L241.98,265.40 L242.41,265.81 L242.78,266.29 L243.08,266.81 L243.33,267.36 L243.53,267.92 L243.70,268.46 L243.86,268.98 L244.03,269.48 L244.23,269.95 L244.45,270.41 L244.72,270.86 L245.01,271.32 L245.31,271.79 L245.61,272.30 L245.88,272.83 Z" fill="#0a0a0a" stroke="none" stroke-width="1" />
</g>
<text x="20.20" y="231.50" font-size="10.5" text-anchor="middle" fill="#000" transform="rotate(-90 20.20 231.50)" >BFM</text>
<text x="20.20" y="272.60" font-size="10.5" text-anchor="middle" fill="#000" transform="rotate(-90 20.20 272.60)" >MIDAS</text>
<text x="24.50" y="245.80" font-size="7" text-anchor="start" fill="#000" >50 μm</text>
<rect x="24.10" y="247.70" width="20.40" height="1.60" rx="0" fill="#000" stroke="none" stroke-width="1" />
<text x="24.20" y="283.80" font-size="7" text-anchor="start" fill="#000" >100 μm</text>
<rect x="27.00" y="287.10" width="14.40" height="1.70" rx="0" fill="#000" stroke="none" stroke-width="1" />
<text x="-0.70" y="333.90" font-size="15.5" text-anchor="start" fill="#000" font-weight="bold" >c</text>
<line x1="54.20" y1="474.20" x2="216.60" y2="474.20" stroke="#cfcfcf" stroke-width="0.7" />
<line x1="54.20" y1="348.80" x2="54.20" y2="482.80" stroke="#8c8c8c" stroke-width="1.4" />
<line x1="216.60" y1="348.80" x2="216.60" y2="482.80" stroke="#8c8c8c" stroke-width="1.4" />
<line x1="53.50" y1="482.10" x2="217.30" y2="482.10" stroke="#5e5e5e" stroke-width="1.4" />
<line x1="51.00" y1="474.20" x2="54.20" y2="474.20" stroke="#444" stroke-width="0.8" />
<line x1="216.60" y1="474.20" x2="219.80" y2="474.20" stroke="#444" stroke-width="0.8" />
<text x="50.40" y="477.90" font-size="10.4" text-anchor="end" fill="#000" >0.0</text>
<text x="219.80" y="477.90" font-size="10.4" text-anchor="start" fill="#000" >0.0</text>
<line x1="52.40" y1="458.60" x2="54.20" y2="458.60" stroke="#444" stroke-width="0.8" />
<line x1="216.60" y1="458.60" x2="218.40" y2="458.60" stroke="#444" stroke-width="0.8" />
<line x1="51.00" y1="443.00" x2="54.20" y2="443.00" stroke="#444" stroke-width="0.8" />
<line x1="216.60" y1="443.00" x2="219.80" y2="443.00" stroke="#444" stroke-width="0.8" />
<text x="50.40" y="446.70" font-size="10.4" text-anchor="end" fill="#000" >0.2</text>
<text x="219.80" y="446.70" font-size="10.4" text-anchor="start" fill="#000" >0.2</text>
<line x1="52.40" y1="427.40" x2="54.20" y2="427.40" stroke="#444" stroke-width="0.8" />
<line x1="216.60" y1="427.40" x2="218.40" y2="427.40" stroke="#444" stroke-width="0.8" />
<line x1="51.00" y1="411.80" x2="54.20" y2="411.80" stroke="#444" stroke-width="0.8" />
<line x1="216.60" y1="411.80" x2="219.80" y2="411.80" stroke="#444" stroke-width="0.8" />
<text x="50.40" y="415.50" font-size="10.4" text-anchor="end" fill="#000" >0.4</text>
<text x="219.80" y="415.50" font-size="10.4" text-anchor="start" fill="#000" >0.4</text>
<line x1="52.40" y1="396.20" x2="54.20" y2="396.20" stroke="#444" stroke-width="0.8" />
<line x1="216.60" y1="396.20" x2="218.40" y2="396.20" stroke="#444" stroke-width="0.8" />
<line x1="51.00" y1="380.60" x2="54.20" y2="380.60" stroke="#444" stroke-width="0.8" />
<line x1="216.60" y1="380.60" x2="219.80" y2="380.60" stroke="#444" stroke-width="0.8" />
<text x="50.40" y="384.30" font-size="10.4" text-anchor="end" fill="#000" >0.6</text>
<text x="219.80" y="384.30" font-size="10.4" text-anchor="start" fill="#000" >0.6</text>
<line x1="52.40" y1="365.00" x2="54.20" y2="365.00" stroke="#444" stroke-width="0.8" />
<line x1="216.60" y1="365.00" x2="218.40" y2="365.00" stroke="#444" stroke-width="0.8" />
<line x1="51.00" y1="349.40" x2="54.20" y2="349.40" stroke="#444" stroke-width="0.8" />
<line x1="216.60" y1="349.40" x2="219.80" y2="349.40" stroke="#444" stroke-width="0.8" />
<text x="50.40" y="353.10" font-size="10.4" text-anchor="end" fill="#000" >0.8</text>
<text x="219.80" y="353.10" font-size="10.4" text-anchor="start" fill="#000" >0.8</text>
<line x1="64.50" y1="482.10" x2="64.50" y2="485.60" stroke="#444" stroke-width="0.8" />
<text x="64.50" y="497.2" font-size="10.4" text-anchor="middle">10<tspan dy="-4.3" font-size="7.2">-1</tspan></text>
<line x1="74.72" y1="482.10" x2="74.72" y2="484.00" stroke="#555" stroke-width="0.6" />
<line x1="80.70" y1="482.10" x2="80.70" y2="484.00" stroke="#555" stroke-width="0.6" />
<line x1="84.94" y1="482.10" x2="84.94" y2="484.00" stroke="#555" stroke-width="0.6" />
<line x1="88.23" y1="482.10" x2="88.23" y2="484.00" stroke="#555" stroke-width="0.6" />
<line x1="90.92" y1="482.10" x2="90.92" y2="484.00" stroke="#555" stroke-width="0.6" />
<line x1="93.19" y1="482.10" x2="93.19" y2="484.00" stroke="#555" stroke-width="0.6" />
<line x1="95.16" y1="482.10" x2="95.16" y2="484.00" stroke="#555" stroke-width="0.6" />
<line x1="96.90" y1="482.10" x2="96.90" y2="484.00" stroke="#555" stroke-width="0.6" />
<line x1="98.45" y1="482.10" x2="98.45" y2="485.60" stroke="#444" stroke-width="0.8" />
<text x="98.45" y="497.2" font-size="10.4" text-anchor="middle">10<tspan dy="-4.3" font-size="7.2">0</tspan></text>
<line x1="108.67" y1="482.10" x2="108.67" y2="484.00" stroke="#555" stroke-width="0.6" />
<line x1="114.65" y1="482.10" x2="114.65" y2="484.00" stroke="#555" stroke-width="0.6" />
<line x1="118.89" y1="482.10" x2="118.89" y2="484.00" stroke="#555" stroke-width="0.6" />
<line x1="122.18" y1="482.10" x2="122.18" y2="484.00" stroke="#555" stroke-width="0.6" />
<line x1="124.87" y1="482.10" x2="124.87" y2="484.00" stroke="#555" stroke-width="0.6" />
<line x1="127.14" y1="482.10" x2="127.14" y2="484.00" stroke="#555" stroke-width="0.6" />
<line x1="129.11" y1="482.10" x2="129.11" y2="484.00" stroke="#555" stroke-width="0.6" />
<line x1="130.85" y1="482.10" x2="130.85" y2="484.00" stroke="#555" stroke-width="0.6" />
<line x1="132.40" y1="482.10" x2="132.40" y2="485.60" stroke="#444" stroke-width="0.8" />
<text x="132.40" y="497.2" font-size="10.4" text-anchor="middle">10<tspan dy="-4.3" font-size="7.2">1</tspan></text>
<line x1="142.62" y1="482.10" x2="142.62" y2="484.00" stroke="#555" stroke-width="0.6" />
<line x1="148.60" y1="482.10" x2="148.60" y2="484.00" stroke="#555" stroke-width="0.6" />
<line x1="152.84" y1="482.10" x2="152.84" y2="484.00" stroke="#555" stroke-width="0.6" />
<line x1="156.13" y1="482.10" x2="156.13" y2="484.00" stroke="#555" stroke-width="0.6" />
<line x1="158.82" y1="482.10" x2="158.82" y2="484.00" stroke="#555" stroke-width="0.6" />
<line x1="161.09" y1="482.10" x2="161.09" y2="484.00" stroke="#555" stroke-width="0.6" />
<line x1="163.06" y1="482.10" x2="163.06" y2="484.00" stroke="#555" stroke-width="0.6" />
<line x1="164.80" y1="482.10" x2="164.80" y2="484.00" stroke="#555" stroke-width="0.6" />
<line x1="166.35" y1="482.10" x2="166.35" y2="485.60" stroke="#444" stroke-width="0.8" />
<text x="166.35" y="497.2" font-size="10.4" text-anchor="middle">10<tspan dy="-4.3" font-size="7.2">2</tspan></text>
<line x1="176.57" y1="482.10" x2="176.57" y2="484.00" stroke="#555" stroke-width="0.6" />
<line x1="182.55" y1="482.10" x2="182.55" y2="484.00" stroke="#555" stroke-width="0.6" />
<line x1="186.79" y1="482.10" x2="186.79" y2="484.00" stroke="#555" stroke-width="0.6" />
<line x1="190.08" y1="482.10" x2="190.08" y2="484.00" stroke="#555" stroke-width="0.6" />
<line x1="192.77" y1="482.10" x2="192.77" y2="484.00" stroke="#555" stroke-width="0.6" />
<line x1="195.04" y1="482.10" x2="195.04" y2="484.00" stroke="#555" stroke-width="0.6" />
<line x1="197.01" y1="482.10" x2="197.01" y2="484.00" stroke="#555" stroke-width="0.6" />
<line x1="198.75" y1="482.10" x2="198.75" y2="484.00" stroke="#555" stroke-width="0.6" />
<line x1="200.30" y1="482.10" x2="200.30" y2="485.60" stroke="#444" stroke-width="0.8" />
<text x="200.30" y="497.2" font-size="10.4" text-anchor="middle">10<tspan dy="-4.3" font-size="7.2">3</tspan></text>
<line x1="210.52" y1="482.10" x2="210.52" y2="484.00" stroke="#555" stroke-width="0.6" />
<line x1="216.50" y1="482.10" x2="216.50" y2="484.00" stroke="#555" stroke-width="0.6" />
<text x="75.60" y="509.20" font-size="10.25" text-anchor="start" fill="#000" >IL-3 concentration (pg/mL)</text>
<text x="28.00" y="412.50" font-size="10.4" text-anchor="middle" fill="#000" transform="rotate(-90 28.00 412.50)" >MIDAS signal (a.u.)</text>
<text x="240.60" y="415.30" font-size="10.6" text-anchor="middle" fill="#000" transform="rotate(90 240.60 415.30)" >Abs (a.u.)</text>
<rect x="111.90" y="332.70" width="43.30" height="25.50" rx="0" fill="#e5e5e5" stroke="none" stroke-width="1" />
<text x="133.50" y="344.10" font-size="9.6" text-anchor="middle" fill="#000" >LOD</text>
<text x="133.50" y="354.70" font-size="9.6" text-anchor="middle" fill="#000" >(pg/mL)</text>
<text x="133.50" y="367.60" font-size="9.6" text-anchor="middle" fill="#000" >4.09</text>
<text x="133.50" y="380.30" font-size="9.6" text-anchor="middle" fill="#000" >115</text>
<circle cx="66.70" cy="363.60" r="2.9" fill="#931e96" stroke="none" stroke-width="1" />
<text x="74.00" y="367.10" font-size="9.6" text-anchor="start" fill="#000" >MIDAS</text>
<circle cx="66.70" cy="376.30" r="2.9" fill="#808080" stroke="none" stroke-width="1" />
<text x="74.00" y="379.60" font-size="9.6" text-anchor="start" fill="#000" >ELISA</text>
<path d="M98.45,474.18 L99.43,474.18 L100.42,474.17 L101.40,474.17 L102.39,474.17 L103.37,474.17 L104.36,474.17 L105.34,474.16 L106.33,474.16 L107.31,474.16 L108.30,474.15 L109.28,474.15 L110.26,474.15 L111.25,474.14 L112.23,474.14 L113.22,474.13 L114.20,474.13 L115.19,474.12 L116.17,474.12 L117.16,474.11 L118.14,474.10 L119.13,474.10 L120.11,474.09 L121.09,474.08 L122.08,474.07 L123.06,474.06 L124.05,474.05 L125.03,474.04 L126.02,474.03 L127.00,474.01 L127.99,474.00 L128.97,473.99 L129.96,473.97 L130.94,473.95 L131.92,473.93 L132.91,473.91 L133.89,473.89 L134.88,473.87 L135.86,473.84 L136.85,473.81 L137.83,473.79 L138.82,473.75 L139.80,473.72 L140.79,473.68 L141.77,473.64 L142.75,473.60 L143.74,473.56 L144.72,473.51 L145.71,473.45 L146.69,473.40 L147.68,473.34 L148.66,473.27 L149.65,473.20 L150.63,473.13 L151.62,473.05 L152.60,472.96 L153.58,472.86 L154.57,472.76 L155.55,472.65 L156.54,472.54 L157.52,472.41 L158.51,472.28 L159.49,472.13 L160.48,471.98 L161.46,471.81 L162.45,471.63 L163.43,471.44 L164.41,471.23 L165.40,471.01 L166.38,470.78 L167.37,470.52 L168.35,470.25 L169.34,469.95 L170.32,469.64 L171.31,469.30 L172.29,468.94 L173.28,468.56 L174.26,468.14 L175.24,467.70 L176.23,467.23 L177.21,466.72 L178.20,466.18 L179.18,465.60 L180.17,464.99 L181.15,464.33 L182.14,463.63 L183.12,462.88 L184.11,462.09 L185.09,461.24 L186.07,460.34 L187.06,459.38 L188.04,458.37 L189.03,457.29 L190.01,456.15 L191.00,454.95 L191.98,453.67 L192.97,452.33 L193.95,450.91 L194.94,449.42 L195.92,447.85 L196.91,446.20 L197.89,444.47 L198.87,442.66 L199.86,440.77 L200.84,438.80 L201.83,436.75 L202.81,434.62 L203.80,432.41 L204.78,430.13 L205.77,427.77 L206.75,425.34 L207.74,422.84 L208.72,420.28 L209.70,417.66 L210.69,414.99 L211.67,412.27 L212.66,409.50 L213.64,406.71 L214.63,403.88 L215.61,401.03 L216.60,398.18" fill="none" stroke="#7a7a7a" stroke-width="1.35" stroke-dasharray="3,1.6"/>
<path d="M64.50,474.19 L65.77,474.18 L67.03,474.18 L68.30,474.18 L69.57,474.17 L70.84,474.17 L72.10,474.16 L73.37,474.16 L74.64,474.15 L75.91,474.14 L77.17,474.13 L78.44,474.12 L79.71,474.11 L80.98,474.10 L82.24,474.08 L83.51,474.06 L84.78,474.04 L86.05,474.01 L87.31,473.98 L88.58,473.94 L89.85,473.90 L91.12,473.84 L92.38,473.79 L93.65,473.72 L94.92,473.64 L96.19,473.54 L97.45,473.43 L98.72,473.31 L99.99,473.16 L101.26,472.99 L102.52,472.79 L103.79,472.56 L105.06,472.29 L106.33,471.97 L107.59,471.61 L108.86,471.20 L110.13,470.72 L111.40,470.16 L112.66,469.52 L113.93,468.79 L115.20,467.95 L116.47,467.00 L117.73,465.91 L119.00,464.68 L120.27,463.30 L121.54,461.75 L122.80,460.02 L124.07,458.10 L125.34,455.99 L126.61,453.70 L127.87,451.21 L129.14,448.55 L130.41,445.72 L131.68,442.75 L132.94,439.66 L134.21,436.49 L135.48,433.28 L136.75,430.05 L138.01,426.85 L139.28,423.72 L140.55,420.69 L141.82,417.79 L143.08,415.04 L144.35,412.46 L145.62,410.07 L146.89,407.87 L148.15,405.86 L149.42,404.04 L150.69,402.40 L151.96,400.93 L153.22,399.62 L154.49,398.47 L155.76,397.45 L157.03,396.55 L158.29,395.77 L159.56,395.09 L160.83,394.49 L162.09,393.98 L163.36,393.53 L164.63,393.14 L165.90,392.80 L167.16,392.51 L168.43,392.26 L169.70,392.05 L170.97,391.86 L172.23,391.70 L173.50,391.57 L174.77,391.45 L176.04,391.35 L177.30,391.26 L178.57,391.19 L179.84,391.12 L181.11,391.07 L182.37,391.02 L183.64,390.98 L184.91,390.95 L186.18,390.92 L187.44,390.89 L188.71,390.87 L189.98,390.85 L191.25,390.84 L192.51,390.82 L193.78,390.81 L195.05,390.80 L196.32,390.79 L197.58,390.78 L198.85,390.78 L200.12,390.77 L201.39,390.77 L202.65,390.76 L203.92,390.76 L205.19,390.76 L206.46,390.75 L207.72,390.75 L208.99,390.75 L210.26,390.75 L211.53,390.75 L212.79,390.75 L214.06,390.75 L215.33,390.75 L216.60,390.74" fill="none" stroke="#931e96" stroke-width="1.35" stroke-dasharray="3,1.6"/>
<path d="M118.50,482.1 L118.50,408.30 L127.70,408.30" fill="none" stroke="#931e96" stroke-width="1.0" />
<path d="M127.20,406.30 L130.70,408.30 L127.20,410.30 Z" fill="#931e96" stroke="none" stroke-width="1" />
<path d="M167.90,482.1 L167.90,438.20 L178.00,438.20" fill="none" stroke="#9a9a9a" stroke-width="0.9" />
<path d="M177.50,436.20 L181.00,438.20 L177.50,440.20 Z" fill="#9a9a9a" stroke="none" stroke-width="1" />
<circle cx="98.45" cy="474.20" r="3.0" fill="#808080" stroke="none" stroke-width="1" />
<circle cx="114.64" cy="472.64" r="3.0" fill="#808080" stroke="none" stroke-width="1" />
<circle cx="132.40" cy="472.02" r="3.0" fill="#808080" stroke="none" stroke-width="1" />
<circle cx="148.59" cy="472.17" r="3.0" fill="#808080" stroke="none" stroke-width="1" />
<circle cx="166.35" cy="467.65" r="3.0" fill="#808080" stroke="none" stroke-width="1" />
<circle cx="182.54" cy="460.16" r="3.0" fill="#808080" stroke="none" stroke-width="1" />
<circle cx="200.30" cy="436.45" r="3.0" fill="#808080" stroke="none" stroke-width="1" />
<circle cx="216.49" cy="393.08" r="3.0" fill="#808080" stroke="none" stroke-width="1" />
<line x1="114.64" y1="469.52" x2="114.64" y2="474.98" stroke="#222" stroke-width="0.8" />
<line x1="112.04" y1="469.52" x2="117.24" y2="469.52" stroke="#222" stroke-width="0.8" />
<line x1="112.04" y1="474.98" x2="117.24" y2="474.98" stroke="#222" stroke-width="0.8" />
<line x1="64.50" y1="470.30" x2="64.50" y2="478.10" stroke="#222" stroke-width="0.8" />
<line x1="61.90" y1="470.30" x2="67.10" y2="470.30" stroke="#222" stroke-width="0.8" />
<line x1="61.90" y1="478.10" x2="67.10" y2="478.10" stroke="#222" stroke-width="0.8" />
<circle cx="64.50" cy="474.20" r="3.0" fill="#931e96" stroke="none" stroke-width="1" />
<line x1="114.64" y1="457.66" x2="114.64" y2="472.64" stroke="#222" stroke-width="0.8" />
<line x1="112.04" y1="457.66" x2="117.24" y2="457.66" stroke="#222" stroke-width="0.8" />
<line x1="112.04" y1="472.64" x2="117.24" y2="472.64" stroke="#222" stroke-width="0.8" />
<circle cx="114.64" cy="465.15" r="3.0" fill="#931e96" stroke="none" stroke-width="1" />
<line x1="132.40" y1="433.95" x2="132.40" y2="452.05" stroke="#222" stroke-width="0.8" />
<line x1="129.80" y1="433.95" x2="135.00" y2="433.95" stroke="#222" stroke-width="0.8" />
<line x1="129.80" y1="452.05" x2="135.00" y2="452.05" stroke="#222" stroke-width="0.8" />
<circle cx="132.40" cy="443.00" r="3.0" fill="#931e96" stroke="none" stroke-width="1" />
<line x1="148.59" y1="394.17" x2="148.59" y2="400.41" stroke="#222" stroke-width="0.8" />
<line x1="145.99" y1="394.17" x2="151.19" y2="394.17" stroke="#222" stroke-width="0.8" />
<line x1="145.99" y1="400.41" x2="151.19" y2="400.41" stroke="#222" stroke-width="0.8" />
<circle cx="148.59" cy="397.29" r="3.0" fill="#931e96" stroke="none" stroke-width="1" />
<line x1="182.54" y1="387.46" x2="182.54" y2="396.51" stroke="#222" stroke-width="0.8" />
<line x1="179.94" y1="387.46" x2="185.14" y2="387.46" stroke="#222" stroke-width="0.8" />
<line x1="179.94" y1="396.51" x2="185.14" y2="396.51" stroke="#222" stroke-width="0.8" />
<circle cx="182.54" cy="391.99" r="3.0" fill="#931e96" stroke="none" stroke-width="1" />
<line x1="216.49" y1="389.34" x2="216.49" y2="391.83" stroke="#222" stroke-width="0.8" />
<line x1="213.89" y1="389.34" x2="219.09" y2="389.34" stroke="#222" stroke-width="0.8" />
<line x1="213.89" y1="391.83" x2="219.09" y2="391.83" stroke="#222" stroke-width="0.8" />
<circle cx="216.49" cy="390.58" r="3.0" fill="#931e96" stroke="none" stroke-width="1" />
<rect x="163.65" y="390.38" width="5.40" height="5.40" rx="0" fill="#931e96" stroke="none" stroke-width="1" />
<text x="278.00" y="177.30" font-size="15.5" text-anchor="start" fill="#000" font-weight="bold" >d</text>
<line x1="318.20" y1="182.78" x2="318.20" y2="230.60" stroke="#555" stroke-width="1.0" />
<line x1="318.20" y1="230.60" x2="461.30" y2="230.60" stroke="#222" stroke-width="1.0" />
<line x1="314.60" y1="230.60" x2="318.20" y2="230.60" stroke="#333" stroke-width="0.8" />
<text x="313.70" y="233.80" font-size="9.1" text-anchor="end" fill="#000" >0.0</text>
<line x1="314.60" y1="214.66" x2="318.20" y2="214.66" stroke="#333" stroke-width="0.8" />
<text x="313.70" y="217.86" font-size="9.1" text-anchor="end" fill="#000" >0.2</text>
<line x1="314.60" y1="198.72" x2="318.20" y2="198.72" stroke="#333" stroke-width="0.8" />
<text x="313.70" y="201.92" font-size="9.1" text-anchor="end" fill="#000" >0.4</text>
<line x1="314.60" y1="182.78" x2="318.20" y2="182.78" stroke="#333" stroke-width="0.8" />
<text x="313.70" y="185.98" font-size="9.1" text-anchor="end" fill="#000" >0.6</text>
<line x1="318.20" y1="230.60" x2="318.20" y2="234.20" stroke="#444" stroke-width="0.8" />
<line x1="353.85" y1="230.60" x2="353.85" y2="234.20" stroke="#444" stroke-width="0.8" />
<line x1="389.50" y1="230.60" x2="389.50" y2="234.20" stroke="#444" stroke-width="0.8" />
<line x1="425.15" y1="230.60" x2="425.15" y2="234.20" stroke="#444" stroke-width="0.8" />
<line x1="460.80" y1="230.60" x2="460.80" y2="234.20" stroke="#444" stroke-width="0.8" />
<text x="326.20" y="186.30" font-size="10.2" text-anchor="start" fill="#000" >IL-1β</text>
<path d="M345.3,230.6 L345.3,208.2 L353.2,208.2" fill="none" stroke="#111" stroke-width="0.8" />
<path d="M352.8,206.39999999999998 L356.2,208.2 L352.8,210.0 Z" fill="#111" stroke="none" stroke-width="1" />
<text x="335.70" y="204.70" font-size="7.9" text-anchor="start" fill="#000" >MIDAS</text>
<path d="M372.0,230.6 L372.0,193.3 L378.6,193.3" fill="none" stroke="#9a9a9a" stroke-width="0.8" />
<path d="M378.20000000000005,191.5 L381.6,193.3 L378.20000000000005,195.10000000000002 Z" fill="#8a8a8a" stroke="none" stroke-width="1" />
<text x="367.60" y="190.10" font-size="7.9" text-anchor="start" fill="#9a9a9a" >ELISA</text>
<path d="M318.20,226.50 L319.54,226.49 L320.87,226.47 L322.21,226.45 L323.55,226.43 L324.88,226.41 L326.22,226.39 L327.56,226.36 L328.89,226.33 L330.23,226.30 L331.57,226.26 L332.91,226.22 L334.24,226.17 L335.58,226.12 L336.92,226.06 L338.25,226.00 L339.59,225.93 L340.93,225.85 L342.26,225.76 L343.60,225.66 L344.94,225.55 L346.27,225.42 L347.61,225.29 L348.95,225.14 L350.28,224.97 L351.62,224.78 L352.96,224.57 L354.30,224.34 L355.63,224.09 L356.97,223.81 L358.31,223.51 L359.64,223.17 L360.98,222.80 L362.32,222.39 L363.65,221.95 L364.99,221.47 L366.33,220.94 L367.66,220.37 L369.00,219.76 L370.34,219.10 L371.67,218.39 L373.01,217.63 L374.35,216.83 L375.69,215.98 L377.02,215.08 L378.36,214.14 L379.70,213.16 L381.03,212.14 L382.37,211.09 L383.71,210.01 L385.04,208.92 L386.38,207.81 L387.72,206.69 L389.05,205.57 L390.39,204.46 L391.73,203.37 L393.06,202.29 L394.40,201.24 L395.74,200.22 L397.08,199.24 L398.41,198.30 L399.75,197.40 L401.09,196.55 L402.42,195.75 L403.76,194.99 L405.10,194.28 L406.43,193.62 L407.77,193.01 L409.11,192.44 L410.44,191.91 L411.78,191.43 L413.12,190.99 L414.45,190.58 L415.79,190.21 L417.13,189.87 L418.47,189.57 L419.80,189.29 L421.14,189.04 L422.48,188.81 L423.81,188.60 L425.15,188.41" fill="none" stroke="#0a2aff" stroke-width="0.9" stroke-dasharray="2.2,0.8"/>
<line x1="318.20" y1="224.40" x2="318.20" y2="228.40" stroke="#0a2aff" stroke-width="0.7" />
<line x1="315.60" y1="224.40" x2="320.80" y2="224.40" stroke="#0a2aff" stroke-width="0.7" />
<line x1="315.60" y1="228.40" x2="320.80" y2="228.40" stroke="#0a2aff" stroke-width="0.7" />
<circle cx="318.20" cy="226.40" r="2.8" fill="#0a2aff" stroke="none" stroke-width="1" />
<line x1="335.30" y1="222.30" x2="335.30" y2="230.30" stroke="#0a2aff" stroke-width="0.7" />
<line x1="332.70" y1="222.30" x2="337.90" y2="222.30" stroke="#0a2aff" stroke-width="0.7" />
<line x1="332.70" y1="230.30" x2="337.90" y2="230.30" stroke="#0a2aff" stroke-width="0.7" />
<circle cx="335.30" cy="226.30" r="2.8" fill="#0a2aff" stroke="none" stroke-width="1" />
<line x1="354.10" y1="222.80" x2="354.10" y2="226.80" stroke="#0a2aff" stroke-width="0.7" />
<line x1="351.50" y1="222.80" x2="356.70" y2="222.80" stroke="#0a2aff" stroke-width="0.7" />
<line x1="351.50" y1="226.80" x2="356.70" y2="226.80" stroke="#0a2aff" stroke-width="0.7" />
<rect x="351.50" y="222.20" width="5.20" height="5.20" rx="0" fill="#0a2aff" stroke="none" stroke-width="1" />
<line x1="370.70" y1="215.50" x2="370.70" y2="219.50" stroke="#0a2aff" stroke-width="0.7" />
<line x1="368.10" y1="215.50" x2="373.30" y2="215.50" stroke="#0a2aff" stroke-width="0.7" />
<line x1="368.10" y1="219.50" x2="373.30" y2="219.50" stroke="#0a2aff" stroke-width="0.7" />
<rect x="368.10" y="214.90" width="5.20" height="5.20" rx="0" fill="#0a2aff" stroke="none" stroke-width="1" />
<line x1="389.60" y1="198.40" x2="389.60" y2="206.40" stroke="#0a2aff" stroke-width="0.7" />
<line x1="387.00" y1="198.40" x2="392.20" y2="198.40" stroke="#0a2aff" stroke-width="0.7" />
<line x1="387.00" y1="206.40" x2="392.20" y2="206.40" stroke="#0a2aff" stroke-width="0.7" />
<circle cx="389.60" cy="202.40" r="2.8" fill="#0a2aff" stroke="none" stroke-width="1" />
<circle cx="406.60" cy="190.90" r="2.8" fill="#0a2aff" stroke="none" stroke-width="1" />
<circle cx="425.20" cy="187.80" r="2.8" fill="#0a2aff" stroke="none" stroke-width="1" />
<line x1="318.20" y1="247.02" x2="318.20" y2="293.70" stroke="#555" stroke-width="1.0" />
<line x1="318.20" y1="293.70" x2="461.30" y2="293.70" stroke="#555" stroke-width="1.0" stroke-dasharray="1.2,0.6"/>
<line x1="314.60" y1="293.70" x2="318.20" y2="293.70" stroke="#333" stroke-width="0.8" />
<text x="313.70" y="296.90" font-size="9.1" text-anchor="end" fill="#000" >0.0</text>
<line x1="314.60" y1="278.14" x2="318.20" y2="278.14" stroke="#333" stroke-width="0.8" />
<text x="313.70" y="281.34" font-size="9.1" text-anchor="end" fill="#000" >0.2</text>
<line x1="314.60" y1="262.58" x2="318.20" y2="262.58" stroke="#333" stroke-width="0.8" />
<text x="313.70" y="265.78" font-size="9.1" text-anchor="end" fill="#000" >0.4</text>
<line x1="314.60" y1="247.02" x2="318.20" y2="247.02" stroke="#333" stroke-width="0.8" />
<text x="313.70" y="250.22" font-size="9.1" text-anchor="end" fill="#000" >0.6</text>
<line x1="318.20" y1="293.70" x2="318.20" y2="297.30" stroke="#444" stroke-width="0.8" />
<line x1="353.85" y1="293.70" x2="353.85" y2="297.30" stroke="#444" stroke-width="0.8" />
<line x1="389.50" y1="293.70" x2="389.50" y2="297.30" stroke="#444" stroke-width="0.8" />
<line x1="425.15" y1="293.70" x2="425.15" y2="297.30" stroke="#444" stroke-width="0.8" />
<line x1="460.80" y1="293.70" x2="460.80" y2="297.30" stroke="#444" stroke-width="0.8" />
<text x="326.20" y="251.90" font-size="10.2" text-anchor="start" fill="#000" >IL-3</text>
<path d="M375.4,293.7 L375.4,265.3 L382.0,265.3" fill="none" stroke="#111" stroke-width="0.8" />
<path d="M381.6,263.5 L385.0,265.3 L381.6,267.1 Z" fill="#111" stroke="none" stroke-width="1" />
<text x="365.30" y="261.30" font-size="7.9" text-anchor="start" fill="#000" >MIDAS</text>
<path d="M426.4,293.7 L426.4,245.2 L433.2,245.2" fill="none" stroke="#9a9a9a" stroke-width="0.8" />
<path d="M432.8,243.39999999999998 L436.2,245.2 L432.8,247.0 Z" fill="#8a8a8a" stroke="none" stroke-width="1" />
<text x="422.30" y="243.00" font-size="7.9" text-anchor="start" fill="#9a9a9a" >ELISA</text>
<path d="M339.59,293.66 L340.88,293.65 L342.17,293.64 L343.47,293.63 L344.76,293.62 L346.05,293.61 L347.34,293.59 L348.64,293.57 L349.93,293.54 L351.22,293.52 L352.51,293.48 L353.81,293.44 L355.10,293.40 L356.39,293.34 L357.68,293.28 L358.97,293.20 L360.27,293.11 L361.56,293.01 L362.85,292.88 L364.14,292.74 L365.44,292.57 L366.73,292.37 L368.02,292.14 L369.31,291.87 L370.61,291.55 L371.90,291.19 L373.19,290.76 L374.48,290.27 L375.77,289.71 L377.07,289.07 L378.36,288.33 L379.65,287.50 L380.94,286.57 L382.24,285.54 L383.53,284.39 L384.82,283.13 L386.11,281.76 L387.41,280.30 L388.70,278.75 L389.99,277.12 L391.28,275.45 L392.57,273.74 L393.87,272.02 L395.16,270.31 L396.45,268.64 L397.74,267.04 L399.04,265.50 L400.33,264.06 L401.62,262.72 L402.91,261.49 L404.21,260.37 L405.50,259.36 L406.79,258.45 L408.08,257.65 L409.37,256.94 L410.67,256.31 L411.96,255.77 L413.25,255.30 L414.54,254.89 L415.84,254.53 L417.13,254.23 L418.42,253.97 L419.71,253.74 L421.01,253.55 L422.30,253.39 L423.59,253.25 L424.88,253.13 L426.17,253.03 L427.47,252.94 L428.76,252.87 L430.05,252.81 L431.34,252.76 L432.64,252.71 L433.93,252.68 L435.22,252.64 L436.51,252.62 L437.81,252.59 L439.10,252.57 L440.39,252.56 L441.68,252.54 L442.97,252.53" fill="none" stroke="#2a4ef5" stroke-width="0.9" stroke-dasharray="none"/>
<circle cx="318.20" cy="293.50" r="2.8" fill="#2a4ef5" stroke="none" stroke-width="1" />
<line x1="370.70" y1="284.80" x2="370.70" y2="293.80" stroke="#222" stroke-width="0.7" />
<line x1="368.10" y1="284.80" x2="373.30" y2="284.80" stroke="#222" stroke-width="0.7" />
<line x1="368.10" y1="293.80" x2="373.30" y2="293.80" stroke="#222" stroke-width="0.7" />
<circle cx="370.70" cy="289.30" r="2.8" fill="#2a4ef5" stroke="none" stroke-width="1" />
<line x1="389.70" y1="273.10" x2="389.70" y2="283.10" stroke="#222" stroke-width="0.7" />
<line x1="387.10" y1="273.10" x2="392.30" y2="273.10" stroke="#222" stroke-width="0.7" />
<line x1="387.10" y1="283.10" x2="392.30" y2="283.10" stroke="#222" stroke-width="0.7" />
<circle cx="389.70" cy="278.10" r="2.8" fill="#2a4ef5" stroke="none" stroke-width="1" />
<line x1="406.70" y1="252.40" x2="406.70" y2="257.80" stroke="#222" stroke-width="0.7" />
<line x1="404.10" y1="252.40" x2="409.30" y2="252.40" stroke="#222" stroke-width="0.7" />
<line x1="404.10" y1="257.80" x2="409.30" y2="257.80" stroke="#222" stroke-width="0.7" />
<circle cx="406.70" cy="255.10" r="2.8" fill="#2a4ef5" stroke="none" stroke-width="1" />
<line x1="425.30" y1="251.30" x2="425.30" y2="254.30" stroke="#222" stroke-width="0.7" />
<line x1="422.70" y1="251.30" x2="427.90" y2="251.30" stroke="#222" stroke-width="0.7" />
<line x1="422.70" y1="254.30" x2="427.90" y2="254.30" stroke="#222" stroke-width="0.7" />
<circle cx="425.30" cy="252.80" r="2.8" fill="#2a4ef5" stroke="none" stroke-width="1" />
<line x1="442.50" y1="249.80" x2="442.50" y2="255.20" stroke="#222" stroke-width="0.7" />
<line x1="439.90" y1="249.80" x2="445.10" y2="249.80" stroke="#222" stroke-width="0.7" />
<line x1="439.90" y1="255.20" x2="445.10" y2="255.20" stroke="#222" stroke-width="0.7" />
<circle cx="442.50" cy="252.50" r="2.8" fill="#2a4ef5" stroke="none" stroke-width="1" />
<line x1="318.90" y1="308.40" x2="318.90" y2="355.40" stroke="#999" stroke-width="1.0" />
<line x1="318.90" y1="355.40" x2="462.00" y2="355.40" stroke="#555" stroke-width="1.0" stroke-dasharray="1.2,0.6"/>
<line x1="315.30" y1="355.40" x2="318.90" y2="355.40" stroke="#333" stroke-width="0.8" />
<text x="314.40" y="358.60" font-size="9.1" text-anchor="end" fill="#000" >0.0</text>
<line x1="315.30" y1="343.65" x2="318.90" y2="343.65" stroke="#333" stroke-width="0.8" />
<text x="314.40" y="346.85" font-size="9.1" text-anchor="end" fill="#000" >0.2</text>
<line x1="315.30" y1="331.90" x2="318.90" y2="331.90" stroke="#333" stroke-width="0.8" />
<text x="314.40" y="335.10" font-size="9.1" text-anchor="end" fill="#000" >0.4</text>
<line x1="315.30" y1="320.15" x2="318.90" y2="320.15" stroke="#333" stroke-width="0.8" />
<text x="314.40" y="323.35" font-size="9.1" text-anchor="end" fill="#000" >0.6</text>
<line x1="315.30" y1="308.40" x2="318.90" y2="308.40" stroke="#333" stroke-width="0.8" />
<text x="314.40" y="311.60" font-size="9.1" text-anchor="end" fill="#000" >0.8</text>
<line x1="318.90" y1="355.40" x2="318.90" y2="359.00" stroke="#444" stroke-width="0.8" />
<line x1="354.55" y1="355.40" x2="354.55" y2="359.00" stroke="#444" stroke-width="0.8" />
<line x1="390.20" y1="355.40" x2="390.20" y2="359.00" stroke="#444" stroke-width="0.8" />
<line x1="425.85" y1="355.40" x2="425.85" y2="359.00" stroke="#444" stroke-width="0.8" />
<line x1="461.50" y1="355.40" x2="461.50" y2="359.00" stroke="#444" stroke-width="0.8" />
<text x="326.20" y="316.00" font-size="10.2" text-anchor="start" fill="#000" >IL-6</text>
<path d="M387.3,355.4 L387.3,333.5 L394.2,333.5" fill="none" stroke="#111" stroke-width="0.8" />
<path d="M393.8,331.7 L397.2,333.5 L393.8,335.3 Z" fill="#111" stroke="none" stroke-width="1" />
<text x="376.70" y="329.70" font-size="7.9" text-anchor="start" fill="#000" >MIDAS</text>
<path d="M409.6,355.4 L409.6,318.2 L415.7,318.2" fill="none" stroke="#9a9a9a" stroke-width="0.8" />
<path d="M415.3,316.4 L418.7,318.2 L415.3,320.0 Z" fill="#8a8a8a" stroke="none" stroke-width="1" />
<text x="404.80" y="315.30" font-size="7.9" text-anchor="start" fill="#9a9a9a" >ELISA</text>
<path d="M318.90,354.22 L320.46,354.22 L322.02,354.21 L323.58,354.21 L325.14,354.21 L326.70,354.21 L328.26,354.21 L329.82,354.20 L331.38,354.20 L332.94,354.20 L334.50,354.19 L336.06,354.19 L337.62,354.18 L339.18,354.17 L340.74,354.16 L342.30,354.15 L343.85,354.14 L345.41,354.13 L346.97,354.11 L348.53,354.09 L350.09,354.07 L351.65,354.05 L353.21,354.02 L354.77,353.99 L356.33,353.95 L357.89,353.90 L359.45,353.85 L361.01,353.79 L362.57,353.72 L364.13,353.64 L365.69,353.55 L367.25,353.44 L368.81,353.31 L370.37,353.17 L371.93,353.00 L373.49,352.81 L375.05,352.59 L376.61,352.34 L378.17,352.05 L379.73,351.72 L381.29,351.34 L382.85,350.91 L384.41,350.43 L385.97,349.89 L387.53,349.28 L389.09,348.60 L390.65,347.85 L392.21,347.03 L393.76,346.12 L395.32,345.14 L396.88,344.08 L398.44,342.96 L400.00,341.77 L401.56,340.53 L403.12,339.24 L404.68,337.93 L406.24,336.60 L407.80,335.27 L409.36,333.96 L410.92,332.67 L412.48,331.43 L414.04,330.24 L415.60,329.12 L417.16,328.06 L418.72,327.08 L420.28,326.17 L421.84,325.35 L423.40,324.60 L424.96,323.92 L426.52,323.31 L428.08,322.77 L429.64,322.29 L431.20,321.86 L432.76,321.48 L434.32,321.15 L435.88,320.86 L437.44,320.61 L439.00,320.39 L440.56,320.20 L442.12,320.03 L443.67,319.89" fill="none" stroke="#5878f0" stroke-width="0.9" stroke-dasharray="none"/>
<line x1="318.90" y1="352.50" x2="318.90" y2="356.50" stroke="#222" stroke-width="0.7" />
<line x1="316.30" y1="352.50" x2="321.50" y2="352.50" stroke="#222" stroke-width="0.7" />
<line x1="316.30" y1="356.50" x2="321.50" y2="356.50" stroke="#222" stroke-width="0.7" />
<circle cx="318.90" cy="354.50" r="2.8" fill="#5878f0" stroke="none" stroke-width="1" />
<line x1="371.90" y1="349.00" x2="371.90" y2="357.00" stroke="#222" stroke-width="0.7" />
<line x1="369.30" y1="349.00" x2="374.50" y2="349.00" stroke="#222" stroke-width="0.7" />
<line x1="369.30" y1="357.00" x2="374.50" y2="357.00" stroke="#222" stroke-width="0.7" />
<circle cx="371.90" cy="353.00" r="2.8" fill="#5878f0" stroke="none" stroke-width="1" />
<line x1="390.20" y1="344.90" x2="390.20" y2="349.90" stroke="#222" stroke-width="0.7" />
<line x1="387.60" y1="344.90" x2="392.80" y2="344.90" stroke="#222" stroke-width="0.7" />
<line x1="387.60" y1="349.90" x2="392.80" y2="349.90" stroke="#222" stroke-width="0.7" />
<circle cx="390.20" cy="347.40" r="2.8" fill="#5878f0" stroke="none" stroke-width="1" />
<line x1="407.00" y1="331.10" x2="407.00" y2="338.10" stroke="#222" stroke-width="0.7" />
<line x1="404.40" y1="331.10" x2="409.60" y2="331.10" stroke="#222" stroke-width="0.7" />
<line x1="404.40" y1="338.10" x2="409.60" y2="338.10" stroke="#222" stroke-width="0.7" />
<circle cx="407.00" cy="334.60" r="2.8" fill="#5878f0" stroke="none" stroke-width="1" />
<line x1="426.00" y1="319.20" x2="426.00" y2="322.20" stroke="#222" stroke-width="0.7" />
<line x1="423.40" y1="319.20" x2="428.60" y2="319.20" stroke="#222" stroke-width="0.7" />
<line x1="423.40" y1="322.20" x2="428.60" y2="322.20" stroke="#222" stroke-width="0.7" />
<circle cx="426.00" cy="320.70" r="2.8" fill="#5878f0" stroke="none" stroke-width="1" />
<line x1="443.10" y1="318.00" x2="443.10" y2="320.00" stroke="#222" stroke-width="0.7" />
<line x1="440.50" y1="318.00" x2="445.70" y2="318.00" stroke="#222" stroke-width="0.7" />
<line x1="440.50" y1="320.00" x2="445.70" y2="320.00" stroke="#222" stroke-width="0.7" />
<circle cx="443.10" cy="319.00" r="2.8" fill="#5878f0" stroke="none" stroke-width="1" />
<line x1="319.70" y1="374.52" x2="319.70" y2="421.80" stroke="#999" stroke-width="1.0" />
<line x1="319.70" y1="421.80" x2="462.80" y2="421.80" stroke="#555" stroke-width="1.0" stroke-dasharray="1.2,0.6"/>
<line x1="316.10" y1="421.80" x2="319.70" y2="421.80" stroke="#333" stroke-width="0.8" />
<text x="315.20" y="425.00" font-size="9.1" text-anchor="end" fill="#000" >0.0</text>
<line x1="316.10" y1="406.04" x2="319.70" y2="406.04" stroke="#333" stroke-width="0.8" />
<text x="315.20" y="409.24" font-size="9.1" text-anchor="end" fill="#000" >0.2</text>
<line x1="316.10" y1="390.28" x2="319.70" y2="390.28" stroke="#333" stroke-width="0.8" />
<text x="315.20" y="393.48" font-size="9.1" text-anchor="end" fill="#000" >0.4</text>
<line x1="316.10" y1="374.52" x2="319.70" y2="374.52" stroke="#333" stroke-width="0.8" />
<text x="315.20" y="377.72" font-size="9.1" text-anchor="end" fill="#000" >0.6</text>
<line x1="319.70" y1="421.80" x2="319.70" y2="425.40" stroke="#444" stroke-width="0.8" />
<line x1="355.35" y1="421.80" x2="355.35" y2="425.40" stroke="#444" stroke-width="0.8" />
<line x1="391.00" y1="421.80" x2="391.00" y2="425.40" stroke="#444" stroke-width="0.8" />
<line x1="426.65" y1="421.80" x2="426.65" y2="425.40" stroke="#444" stroke-width="0.8" />
<line x1="462.30" y1="421.80" x2="462.30" y2="425.40" stroke="#444" stroke-width="0.8" />
<text x="326.20" y="379.30" font-size="10.2" text-anchor="start" fill="#000" >IL-10</text>
<path d="M401.2,421.8 L401.2,400.6 L408.4,400.6" fill="none" stroke="#111" stroke-width="0.8" />
<path d="M408.0,398.8 L411.4,400.6 L408.0,402.40000000000003 Z" fill="#111" stroke="none" stroke-width="1" />
<text x="389.90" y="396.50" font-size="7.9" text-anchor="start" fill="#000" >MIDAS</text>
<path d="M426.7,421.8 L426.7,385.5 L433.2,385.5" fill="none" stroke="#9a9a9a" stroke-width="0.8" />
<path d="M432.8,383.7 L436.2,385.5 L432.8,387.3 Z" fill="#8a8a8a" stroke="none" stroke-width="1" />
<text x="422.60" y="382.60" font-size="7.9" text-anchor="start" fill="#9a9a9a" >ELISA</text>
<path d="M319.70,418.65 L321.49,418.65 L323.28,418.65 L325.07,418.65 L326.87,418.65 L328.66,418.65 L330.45,418.65 L332.24,418.65 L334.03,418.64 L335.82,418.64 L337.61,418.64 L339.41,418.64 L341.20,418.64 L342.99,418.64 L344.78,418.64 L346.57,418.64 L348.36,418.64 L350.15,418.64 L351.95,418.64 L353.74,418.63 L355.53,418.63 L357.32,418.63 L359.11,418.63 L360.90,418.62 L362.69,418.62 L364.49,418.61 L366.28,418.61 L368.07,418.60 L369.86,418.60 L371.65,418.59 L373.44,418.58 L375.23,418.57 L377.03,418.56 L378.82,418.55 L380.61,418.53 L382.40,418.51 L384.19,418.49 L385.98,418.47 L387.77,418.44 L389.57,418.41 L391.36,418.38 L393.15,418.34 L394.94,418.29 L396.73,418.24 L398.52,418.18 L400.31,418.11 L402.10,418.03 L403.90,417.94 L405.69,417.84 L407.48,417.72 L409.27,417.58 L411.06,417.43 L412.85,417.25 L414.64,417.04 L416.44,416.81 L418.23,416.54 L420.02,416.24 L421.81,415.90 L423.60,415.50 L425.39,415.06 L427.18,414.55 L428.98,413.98 L430.77,413.33 L432.56,412.60 L434.35,411.78 L436.14,410.87 L437.93,409.84 L439.72,408.70 L441.52,407.44 L443.31,406.05 L445.10,404.52 L446.89,402.86 L448.68,401.05 L450.47,399.11 L452.26,397.03 L454.06,394.82 L455.85,392.50 L457.64,390.08 L459.43,387.57 L461.22,385.00 L463.01,382.39" fill="none" stroke="#a6b6f6" stroke-width="0.9" stroke-dasharray="1.5,0.8"/>
<circle cx="319.70" cy="418.40" r="2.8" fill="#a6b6f6" stroke="none" stroke-width="1" />
<line x1="391.40" y1="415.70" x2="391.40" y2="419.70" stroke="#222" stroke-width="0.7" />
<line x1="388.80" y1="415.70" x2="394.00" y2="415.70" stroke="#222" stroke-width="0.7" />
<line x1="388.80" y1="419.70" x2="394.00" y2="419.70" stroke="#222" stroke-width="0.7" />
<circle cx="391.40" cy="417.70" r="2.8" fill="#a6b6f6" stroke="none" stroke-width="1" />
<line x1="408.50" y1="413.20" x2="408.50" y2="419.20" stroke="#222" stroke-width="0.7" />
<line x1="405.90" y1="413.20" x2="411.10" y2="413.20" stroke="#222" stroke-width="0.7" />
<line x1="405.90" y1="419.20" x2="411.10" y2="419.20" stroke="#222" stroke-width="0.7" />
<circle cx="408.50" cy="416.20" r="2.8" fill="#a6b6f6" stroke="none" stroke-width="1" />
<line x1="427.00" y1="409.50" x2="427.00" y2="414.10" stroke="#222" stroke-width="0.7" />
<line x1="424.40" y1="409.50" x2="429.60" y2="409.50" stroke="#222" stroke-width="0.7" />
<line x1="424.40" y1="414.10" x2="429.60" y2="414.10" stroke="#222" stroke-width="0.7" />
<circle cx="427.00" cy="411.80" r="2.8" fill="#a6b6f6" stroke="none" stroke-width="1" />
<line x1="444.00" y1="400.80" x2="444.00" y2="406.80" stroke="#222" stroke-width="0.7" />
<line x1="441.40" y1="400.80" x2="446.60" y2="400.80" stroke="#222" stroke-width="0.7" />
<line x1="441.40" y1="406.80" x2="446.60" y2="406.80" stroke="#222" stroke-width="0.7" />
<circle cx="444.00" cy="403.80" r="2.8" fill="#a6b6f6" stroke="none" stroke-width="1" />
<line x1="454.70" y1="385.80" x2="454.70" y2="391.20" stroke="#222" stroke-width="0.7" />
<line x1="452.10" y1="385.80" x2="457.30" y2="385.80" stroke="#222" stroke-width="0.7" />
<line x1="452.10" y1="391.20" x2="457.30" y2="391.20" stroke="#222" stroke-width="0.7" />
<circle cx="454.70" cy="388.50" r="2.8" fill="#a6b6f6" stroke="none" stroke-width="1" />
<circle cx="462.90" cy="381.20" r="2.8" fill="#a6b6f6" stroke="none" stroke-width="1" />
<line x1="319.80" y1="436.82" x2="319.80" y2="483.50" stroke="#999" stroke-width="1.0" />
<line x1="319.80" y1="483.50" x2="462.90" y2="483.50" stroke="#555" stroke-width="1.0" stroke-dasharray="1.2,0.6"/>
<line x1="316.20" y1="483.50" x2="319.80" y2="483.50" stroke="#333" stroke-width="0.8" />
<text x="315.30" y="486.70" font-size="9.1" text-anchor="end" fill="#000" >0.0</text>
<line x1="316.20" y1="467.94" x2="319.80" y2="467.94" stroke="#333" stroke-width="0.8" />
<text x="315.30" y="471.14" font-size="9.1" text-anchor="end" fill="#000" >0.2</text>
<line x1="316.20" y1="452.38" x2="319.80" y2="452.38" stroke="#333" stroke-width="0.8" />
<text x="315.30" y="455.58" font-size="9.1" text-anchor="end" fill="#000" >0.4</text>
<line x1="316.20" y1="436.82" x2="319.80" y2="436.82" stroke="#333" stroke-width="0.8" />
<text x="315.30" y="440.02" font-size="9.1" text-anchor="end" fill="#000" >0.6</text>
<line x1="319.80" y1="483.50" x2="319.80" y2="487.10" stroke="#444" stroke-width="0.8" />
<line x1="355.45" y1="483.50" x2="355.45" y2="487.10" stroke="#444" stroke-width="0.8" />
<line x1="391.10" y1="483.50" x2="391.10" y2="487.10" stroke="#444" stroke-width="0.8" />
<line x1="426.75" y1="483.50" x2="426.75" y2="487.10" stroke="#444" stroke-width="0.8" />
<line x1="462.40" y1="483.50" x2="462.40" y2="487.10" stroke="#444" stroke-width="0.8" />
<text x="326.90" y="444.20" font-size="10.2" text-anchor="start" fill="#000" >TNFα</text>
<path d="M403.5,483.5 L403.5,461.9 L410.2,461.9" fill="none" stroke="#111" stroke-width="0.8" />
<path d="M409.8,460.09999999999997 L413.2,461.9 L409.8,463.7 Z" fill="#111" stroke="none" stroke-width="1" />
<text x="387.70" y="458.70" font-size="7.9" text-anchor="start" fill="#000" >MIDAS</text>
<path d="M416.5,483.5 L416.5,447.0 L422.8,447.0" fill="none" stroke="#9a9a9a" stroke-width="0.8" />
<path d="M422.40000000000003,445.2 L425.8,447.0 L422.40000000000003,448.8 Z" fill="#8a8a8a" stroke="none" stroke-width="1" />
<text x="411.90" y="443.80" font-size="7.9" text-anchor="start" fill="#9a9a9a" >ELISA</text>
<path d="M366.14,481.74 L367.26,481.72 L368.37,481.70 L369.49,481.67 L370.60,481.65 L371.72,481.62 L372.83,481.59 L373.94,481.55 L375.06,481.51 L376.17,481.47 L377.29,481.42 L378.40,481.37 L379.51,481.32 L380.63,481.26 L381.74,481.19 L382.86,481.12 L383.97,481.04 L385.08,480.95 L386.20,480.86 L387.31,480.76 L388.43,480.64 L389.54,480.52 L390.65,480.38 L391.77,480.24 L392.88,480.08 L394.00,479.90 L395.11,479.71 L396.22,479.51 L397.34,479.28 L398.45,479.04 L399.57,478.77 L400.68,478.48 L401.80,478.17 L402.91,477.84 L404.02,477.47 L405.14,477.08 L406.25,476.66 L407.37,476.21 L408.48,475.72 L409.59,475.21 L410.71,474.65 L411.82,474.06 L412.94,473.43 L414.05,472.77 L415.16,472.07 L416.28,471.33 L417.39,470.55 L418.51,469.73 L419.62,468.88 L420.73,468.00 L421.85,467.08 L422.96,466.13 L424.08,465.16 L425.19,464.16 L426.30,463.15 L427.42,462.11 L428.53,461.07 L429.65,460.01 L430.76,458.96 L431.87,457.91 L432.99,456.86 L434.10,455.82 L435.22,454.80 L436.33,453.80 L437.44,452.82 L438.56,451.87 L439.67,450.95 L440.79,450.06 L441.90,449.20 L443.02,448.38 L444.13,447.59 L445.24,446.84 L446.36,446.13 L447.47,445.46 L448.59,444.82 L449.70,444.23 L450.81,443.67 L451.93,443.14 L453.04,442.65 L454.16,442.19 L455.27,441.76" fill="none" stroke="#b9b9b9" stroke-width="0.9" stroke-dasharray="1.2,1.0"/>
<circle cx="319.80" cy="481.80" r="2.8" fill="#b9b9b9" stroke="none" stroke-width="1" />
<line x1="384.00" y1="478.20" x2="384.00" y2="482.80" stroke="#222" stroke-width="0.7" />
<line x1="381.40" y1="478.20" x2="386.60" y2="478.20" stroke="#222" stroke-width="0.7" />
<line x1="381.40" y1="482.80" x2="386.60" y2="482.80" stroke="#222" stroke-width="0.7" />
<circle cx="384.00" cy="480.50" r="2.8" fill="#b9b9b9" stroke="none" stroke-width="1" />
<line x1="402.00" y1="472.80" x2="402.00" y2="480.80" stroke="#222" stroke-width="0.7" />
<line x1="399.40" y1="472.80" x2="404.60" y2="472.80" stroke="#222" stroke-width="0.7" />
<line x1="399.40" y1="480.80" x2="404.60" y2="480.80" stroke="#222" stroke-width="0.7" />
<circle cx="402.00" cy="476.80" r="2.8" fill="#b9b9b9" stroke="none" stroke-width="1" />
<line x1="419.30" y1="467.70" x2="419.30" y2="474.70" stroke="#222" stroke-width="0.7" />
<line x1="416.70" y1="467.70" x2="421.90" y2="467.70" stroke="#222" stroke-width="0.7" />
<line x1="416.70" y1="474.70" x2="421.90" y2="474.70" stroke="#222" stroke-width="0.7" />
<circle cx="419.30" cy="471.20" r="2.8" fill="#b9b9b9" stroke="none" stroke-width="1" />
<line x1="437.90" y1="449.60" x2="437.90" y2="455.60" stroke="#222" stroke-width="0.7" />
<line x1="435.30" y1="449.60" x2="440.50" y2="449.60" stroke="#222" stroke-width="0.7" />
<line x1="435.30" y1="455.60" x2="440.50" y2="455.60" stroke="#222" stroke-width="0.7" />
<circle cx="437.90" cy="452.60" r="2.8" fill="#b9b9b9" stroke="none" stroke-width="1" />
<line x1="449.10" y1="447.80" x2="449.10" y2="449.80" stroke="#222" stroke-width="0.7" />
<line x1="446.50" y1="447.80" x2="451.70" y2="447.80" stroke="#222" stroke-width="0.7" />
<line x1="446.50" y1="449.80" x2="451.70" y2="449.80" stroke="#222" stroke-width="0.7" />
<circle cx="449.10" cy="448.80" r="2.8" fill="#b9b9b9" stroke="none" stroke-width="1" />
<circle cx="455.20" cy="442.00" r="2.8" fill="#b9b9b9" stroke="none" stroke-width="1" />
<text x="319.80" y="499.8" font-size="10.4" text-anchor="middle">10<tspan dy="-4.3" font-size="7.2">-1</tspan></text>
<text x="355.45" y="499.8" font-size="10.4" text-anchor="middle">10<tspan dy="-4.3" font-size="7.2">0</tspan></text>
<text x="391.10" y="499.8" font-size="10.4" text-anchor="middle">10<tspan dy="-4.3" font-size="7.2">1</tspan></text>
<text x="426.75" y="499.8" font-size="10.4" text-anchor="middle">10<tspan dy="-4.3" font-size="7.2">2</tspan></text>
<text x="462.40" y="499.8" font-size="10.4" text-anchor="middle">10<tspan dy="-4.3" font-size="7.2">3</tspan></text>
<text x="392.40" y="513.60" font-size="10.5" text-anchor="middle" fill="#000" >Concentrations (pg/mL)</text>
<text x="290.20" y="325.00" font-size="9.8" text-anchor="middle" fill="#000" transform="rotate(-90 290.20 325.00)" >MIDAS signal (a.u.)</text>
<text x="494.30" y="176.90" font-size="15.5" text-anchor="start" fill="#000" font-weight="bold" >e</text>
<line x1="544.90" y1="185.80" x2="544.90" y2="300.30" stroke="#333" stroke-width="1.0" />
<line x1="544.40" y1="300.00" x2="661.40" y2="300.00" stroke="#333" stroke-width="1.0" />
<line x1="541.20" y1="300.30" x2="544.90" y2="300.30" stroke="#333" stroke-width="0.9" />
<text x="539.80" y="304.00" font-size="10.4" text-anchor="end" fill="#000" >0.0</text>
<line x1="541.20" y1="271.78" x2="544.90" y2="271.78" stroke="#333" stroke-width="0.9" />
<text x="539.80" y="275.48" font-size="10.4" text-anchor="end" fill="#000" >0.2</text>
<line x1="541.20" y1="243.26" x2="544.90" y2="243.26" stroke="#333" stroke-width="0.9" />
<text x="539.80" y="246.96" font-size="10.4" text-anchor="end" fill="#000" >0.4</text>
<line x1="541.20" y1="214.74" x2="544.90" y2="214.74" stroke="#333" stroke-width="0.9" />
<text x="539.80" y="218.44" font-size="10.4" text-anchor="end" fill="#000" >0.6</text>
<line x1="541.20" y1="186.22" x2="544.90" y2="186.22" stroke="#333" stroke-width="0.9" />
<text x="539.80" y="189.92" font-size="10.4" text-anchor="end" fill="#000" >0.8</text>
<rect x="547.50" y="226.80" width="6.50" height="73.20" rx="0" fill="#0a2cff" stroke="#6a6a6a" stroke-width="0.6" />
<rect x="556.20" y="225.90" width="6.50" height="74.10" rx="0" fill="url(#hatch0)" stroke="#7a7a7a" stroke-width="0.6" />
<line x1="550.75" y1="226.00" x2="550.75" y2="226.80" stroke="#333" stroke-width="0.6" />
<line x1="548.95" y1="226.00" x2="552.55" y2="226.00" stroke="#333" stroke-width="0.6" />
<circle cx="549.55" cy="226.50" r="0.9" fill="none" stroke="#444" stroke-width="0.4" />
<circle cx="551.95" cy="227.20" r="0.9" fill="none" stroke="#444" stroke-width="0.4" />
<line x1="559.45" y1="224.70" x2="559.45" y2="225.90" stroke="#333" stroke-width="0.6" />
<line x1="557.65" y1="224.70" x2="561.25" y2="224.70" stroke="#333" stroke-width="0.6" />
<circle cx="558.25" cy="225.60" r="0.9" fill="none" stroke="#444" stroke-width="0.4" />
<circle cx="560.65" cy="226.30" r="0.9" fill="none" stroke="#444" stroke-width="0.4" />
<text x="557.00" y="309.20" font-size="10.3" text-anchor="end" fill="#000" transform="rotate(-45 557.00 309.20)" >IL-1β</text>
<rect x="571.00" y="243.70" width="6.50" height="56.30" rx="0" fill="#4262f7" stroke="#6a6a6a" stroke-width="0.6" />
<rect x="579.70" y="243.30" width="6.50" height="56.70" rx="0" fill="url(#hatch1)" stroke="#7a7a7a" stroke-width="0.6" />
<line x1="574.25" y1="242.90" x2="574.25" y2="243.70" stroke="#333" stroke-width="0.6" />
<line x1="572.45" y1="242.90" x2="576.05" y2="242.90" stroke="#333" stroke-width="0.6" />
<circle cx="573.05" cy="243.40" r="0.9" fill="none" stroke="#444" stroke-width="0.4" />
<circle cx="575.45" cy="244.10" r="0.9" fill="none" stroke="#444" stroke-width="0.4" />
<line x1="582.95" y1="239.80" x2="582.95" y2="243.30" stroke="#333" stroke-width="0.6" />
<line x1="581.15" y1="239.80" x2="584.75" y2="239.80" stroke="#333" stroke-width="0.6" />
<circle cx="581.75" cy="243.00" r="0.9" fill="none" stroke="#444" stroke-width="0.4" />
<circle cx="584.15" cy="243.70" r="0.9" fill="none" stroke="#444" stroke-width="0.4" />
<text x="580.50" y="309.20" font-size="10.3" text-anchor="end" fill="#000" transform="rotate(-45 580.50 309.20)" >IL-3</text>
<rect x="595.60" y="221.40" width="6.50" height="78.60" rx="0" fill="#7f9af5" stroke="#6a6a6a" stroke-width="0.6" />
<rect x="604.30" y="216.30" width="6.50" height="83.70" rx="0" fill="url(#hatch2)" stroke="#7a7a7a" stroke-width="0.6" />
<line x1="598.85" y1="220.60" x2="598.85" y2="221.40" stroke="#333" stroke-width="0.6" />
<line x1="597.05" y1="220.60" x2="600.65" y2="220.60" stroke="#333" stroke-width="0.6" />
<circle cx="597.65" cy="221.10" r="0.9" fill="none" stroke="#444" stroke-width="0.4" />
<circle cx="600.05" cy="221.80" r="0.9" fill="none" stroke="#444" stroke-width="0.4" />
<line x1="607.55" y1="214.80" x2="607.55" y2="216.30" stroke="#333" stroke-width="0.6" />
<line x1="605.75" y1="214.80" x2="609.35" y2="214.80" stroke="#333" stroke-width="0.6" />
<circle cx="606.35" cy="216.00" r="0.9" fill="none" stroke="#444" stroke-width="0.4" />
<circle cx="608.75" cy="216.70" r="0.9" fill="none" stroke="#444" stroke-width="0.4" />
<text x="605.10" y="309.20" font-size="10.3" text-anchor="end" fill="#000" transform="rotate(-45 605.10 309.20)" >IL-6</text>
<rect x="619.50" y="248.10" width="6.50" height="51.90" rx="0" fill="#c0cdf8" stroke="#6a6a6a" stroke-width="0.6" />
<rect x="628.20" y="241.90" width="6.50" height="58.10" rx="0" fill="url(#hatch3)" stroke="#7a7a7a" stroke-width="0.6" />
<line x1="622.75" y1="247.30" x2="622.75" y2="248.10" stroke="#333" stroke-width="0.6" />
<line x1="620.95" y1="247.30" x2="624.55" y2="247.30" stroke="#333" stroke-width="0.6" />
<circle cx="621.55" cy="247.80" r="0.9" fill="none" stroke="#444" stroke-width="0.4" />
<circle cx="623.95" cy="248.50" r="0.9" fill="none" stroke="#444" stroke-width="0.4" />
<line x1="631.45" y1="238.10" x2="631.45" y2="241.90" stroke="#333" stroke-width="0.6" />
<line x1="629.65" y1="238.10" x2="633.25" y2="238.10" stroke="#333" stroke-width="0.6" />
<circle cx="630.25" cy="241.60" r="0.9" fill="none" stroke="#444" stroke-width="0.4" />
<circle cx="632.65" cy="242.30" r="0.9" fill="none" stroke="#444" stroke-width="0.4" />
<text x="629.00" y="309.20" font-size="10.3" text-anchor="end" fill="#000" transform="rotate(-45 629.00 309.20)" >IL-10</text>
<rect x="643.30" y="236.50" width="6.50" height="63.50" rx="0" fill="#bdbdbd" stroke="#6a6a6a" stroke-width="0.6" />
<rect x="652.00" y="237.20" width="6.50" height="62.80" rx="0" fill="url(#hatch4)" stroke="#7a7a7a" stroke-width="0.6" />
<line x1="646.55" y1="235.70" x2="646.55" y2="236.50" stroke="#333" stroke-width="0.6" />
<line x1="644.75" y1="235.70" x2="648.35" y2="235.70" stroke="#333" stroke-width="0.6" />
<circle cx="645.35" cy="236.20" r="0.9" fill="none" stroke="#444" stroke-width="0.4" />
<circle cx="647.75" cy="236.90" r="0.9" fill="none" stroke="#444" stroke-width="0.4" />
<line x1="655.25" y1="235.20" x2="655.25" y2="237.20" stroke="#333" stroke-width="0.6" />
<line x1="653.45" y1="235.20" x2="657.05" y2="235.20" stroke="#333" stroke-width="0.6" />
<circle cx="654.05" cy="236.90" r="0.9" fill="none" stroke="#444" stroke-width="0.4" />
<circle cx="656.45" cy="237.60" r="0.9" fill="none" stroke="#444" stroke-width="0.4" />
<text x="652.80" y="309.20" font-size="10.3" text-anchor="end" fill="#000" transform="rotate(-45 652.80 309.20)" >TNF-α</text>
<rect x="546.30" y="182.10" width="10.50" height="6.70" rx="0" fill="#0a2aff" stroke="#333" stroke-width="0.5" />
<rect x="546.30" y="192.30" width="10.50" height="6.40" rx="0" fill="url(#hatch0)" stroke="#333" stroke-width="0.5" />
<text x="562.90" y="188.90" font-size="8.9" text-anchor="start" fill="#000" >Multiplex</text>
<text x="562.90" y="197.90" font-size="8.9" text-anchor="start" fill="#000" >Singleplex</text>
<text x="513.40" y="240.50" font-size="10.3" text-anchor="middle" fill="#000" transform="rotate(-90 513.40 240.50)" >MIDAS Signal (a.u.)</text>
<text x="494.30" y="349.40" font-size="15.5" text-anchor="start" fill="#000" font-weight="bold" >f</text>
<rect x="547.60" y="361.40" width="20.94" height="20.94" rx="0" fill="#0a2cf5" stroke="none" stroke-width="1" />
<rect x="568.54" y="361.40" width="20.94" height="20.94" rx="0" fill="#f6f4c4" stroke="none" stroke-width="1" />
<rect x="589.48" y="361.40" width="20.94" height="20.94" rx="0" fill="#efedc5" stroke="none" stroke-width="1" />
<rect x="610.42" y="361.40" width="20.94" height="20.94" rx="0" fill="#f5f3c4" stroke="none" stroke-width="1" />
<rect x="631.36" y="361.40" width="20.94" height="20.94" rx="0" fill="#f7f5c4" stroke="none" stroke-width="1" />
<rect x="547.60" y="382.34" width="20.94" height="20.94" rx="0" fill="#fcfbc8" stroke="none" stroke-width="1" />
<rect x="568.54" y="382.34" width="20.94" height="20.94" rx="0" fill="#5562e8" stroke="none" stroke-width="1" />
<rect x="589.48" y="382.34" width="20.94" height="20.94" rx="0" fill="#f6f4c4" stroke="none" stroke-width="1" />
<rect x="610.42" y="382.34" width="20.94" height="20.94" rx="0" fill="#f1efc8" stroke="none" stroke-width="1" />
<rect x="631.36" y="382.34" width="20.94" height="20.94" rx="0" fill="#f6f4c4" stroke="none" stroke-width="1" />
<rect x="547.60" y="403.28" width="20.94" height="20.94" rx="0" fill="#f1efc6" stroke="none" stroke-width="1" />
<rect x="568.54" y="403.28" width="20.94" height="20.94" rx="0" fill="#f7f5c4" stroke="none" stroke-width="1" />
<rect x="589.48" y="403.28" width="20.94" height="20.94" rx="0" fill="#0a2cf8" stroke="none" stroke-width="1" />
<rect x="610.42" y="403.28" width="20.94" height="20.94" rx="0" fill="#f3f1c6" stroke="none" stroke-width="1" />
<rect x="631.36" y="403.28" width="20.94" height="20.94" rx="0" fill="#f6f4c4" stroke="none" stroke-width="1" />
<rect x="547.60" y="424.22" width="20.94" height="20.94" rx="0" fill="#f8f6c4" stroke="none" stroke-width="1" />
<rect x="568.54" y="424.22" width="20.94" height="20.94" rx="0" fill="#f6f4c4" stroke="none" stroke-width="1" />
<rect x="589.48" y="424.22" width="20.94" height="20.94" rx="0" fill="#f8f6c4" stroke="none" stroke-width="1" />
<rect x="610.42" y="424.22" width="20.94" height="20.94" rx="0" fill="#7078e6" stroke="none" stroke-width="1" />
<rect x="631.36" y="424.22" width="20.94" height="20.94" rx="0" fill="#f6f4c4" stroke="none" stroke-width="1" />
<rect x="547.60" y="445.16" width="20.94" height="20.94" rx="0" fill="#eeecc8" stroke="none" stroke-width="1" />
<rect x="568.54" y="445.16" width="20.94" height="20.94" rx="0" fill="#f5f3c4" stroke="none" stroke-width="1" />
<rect x="589.48" y="445.16" width="20.94" height="20.94" rx="0" fill="#f7f5c3" stroke="none" stroke-width="1" />
<rect x="610.42" y="445.16" width="20.94" height="20.94" rx="0" fill="#f9f7c3" stroke="none" stroke-width="1" />
<rect x="631.36" y="445.16" width="20.94" height="20.94" rx="0" fill="#2a40ee" stroke="none" stroke-width="1" />
<line x1="568.54" y1="361.40" x2="568.54" y2="466.10" stroke="#a8a890" stroke-width="0.6" />
<line x1="547.60" y1="382.34" x2="652.30" y2="382.34" stroke="#a8a890" stroke-width="0.6" />
<line x1="589.48" y1="361.40" x2="589.48" y2="466.10" stroke="#a8a890" stroke-width="0.6" />
<line x1="547.60" y1="403.28" x2="652.30" y2="403.28" stroke="#a8a890" stroke-width="0.6" />
<line x1="610.42" y1="361.40" x2="610.42" y2="466.10" stroke="#a8a890" stroke-width="0.6" />
<line x1="547.60" y1="424.22" x2="652.30" y2="424.22" stroke="#a8a890" stroke-width="0.6" />
<line x1="631.36" y1="361.40" x2="631.36" y2="466.10" stroke="#a8a890" stroke-width="0.6" />
<line x1="547.60" y1="445.16" x2="652.30" y2="445.16" stroke="#a8a890" stroke-width="0.6" />
<rect x="547.60" y="361.40" width="104.70" height="104.70" rx="0" fill="none" stroke="#2a2a2a" stroke-width="0.9" />
<text x="542.80" y="375.27" font-size="9.2" text-anchor="end" fill="#000" >IL-1β</text>
<text x="542.80" y="396.21" font-size="9.2" text-anchor="end" fill="#000" >IL-3</text>
<text x="542.80" y="417.15" font-size="9.2" text-anchor="end" fill="#000" >IL-6</text>
<text x="542.80" y="438.09" font-size="9.2" text-anchor="end" fill="#000" >IL-10</text>
<text x="542.80" y="459.03" font-size="9.2" text-anchor="end" fill="#000" >TNF-a</text>
<text x="560.07" y="471.80" font-size="9.2" text-anchor="end" fill="#000" transform="rotate(-45 560.07 471.80)" >IL-1β</text>
<text x="581.01" y="471.80" font-size="9.2" text-anchor="end" fill="#000" transform="rotate(-45 581.01 471.80)" >IL-3</text>
<text x="601.95" y="471.80" font-size="9.2" text-anchor="end" fill="#000" transform="rotate(-45 601.95 471.80)" >IL-6</text>
<text x="622.89" y="471.80" font-size="9.2" text-anchor="end" fill="#000" transform="rotate(-45 622.89 471.80)" >IL-10</text>
<text x="643.83" y="471.80" font-size="9.2" text-anchor="end" fill="#000" transform="rotate(-45 643.83 471.80)" >TNF-a</text>
<text x="507.00" y="408.50" font-size="9.2" text-anchor="middle" fill="#000" transform="rotate(-90 507.00 408.50)" >Particle</text>
<line x1="512.20" y1="396.80" x2="512.20" y2="431.00" stroke="#222" stroke-width="0.8" />
<path d="M510.2,430.5 L512.2,434.3 L514.2,430.5 Z" fill="#222" stroke="none" stroke-width="1" />
<line x1="580.10" y1="496.40" x2="617.50" y2="496.40" stroke="#222" stroke-width="0.8" />
<path d="M617.0,494.4 L620.8,496.4 L617.0,498.4 Z" fill="#222" stroke="none" stroke-width="1" />
<text x="599.90" y="507.20" font-size="9.2" text-anchor="middle" fill="#000" >Sample</text>
<rect x="661.40" y="400.00" width="7.20" height="29.80" rx="0" fill="url(#cbar)" stroke="#cfcfb0" stroke-width="0.4" />
<line x1="661.40" y1="415.30" x2="663.20" y2="415.30" stroke="#333" stroke-width="0.6" />
<line x1="666.80" y1="415.30" x2="668.60" y2="415.30" stroke="#333" stroke-width="0.6" />
<text x="670.30" y="402.70" font-size="7.0" text-anchor="start" fill="#000" >0.50</text>
<text x="670.30" y="417.70" font-size="7.0" text-anchor="start" fill="#000" >0.25</text></svg>
</body></html>
